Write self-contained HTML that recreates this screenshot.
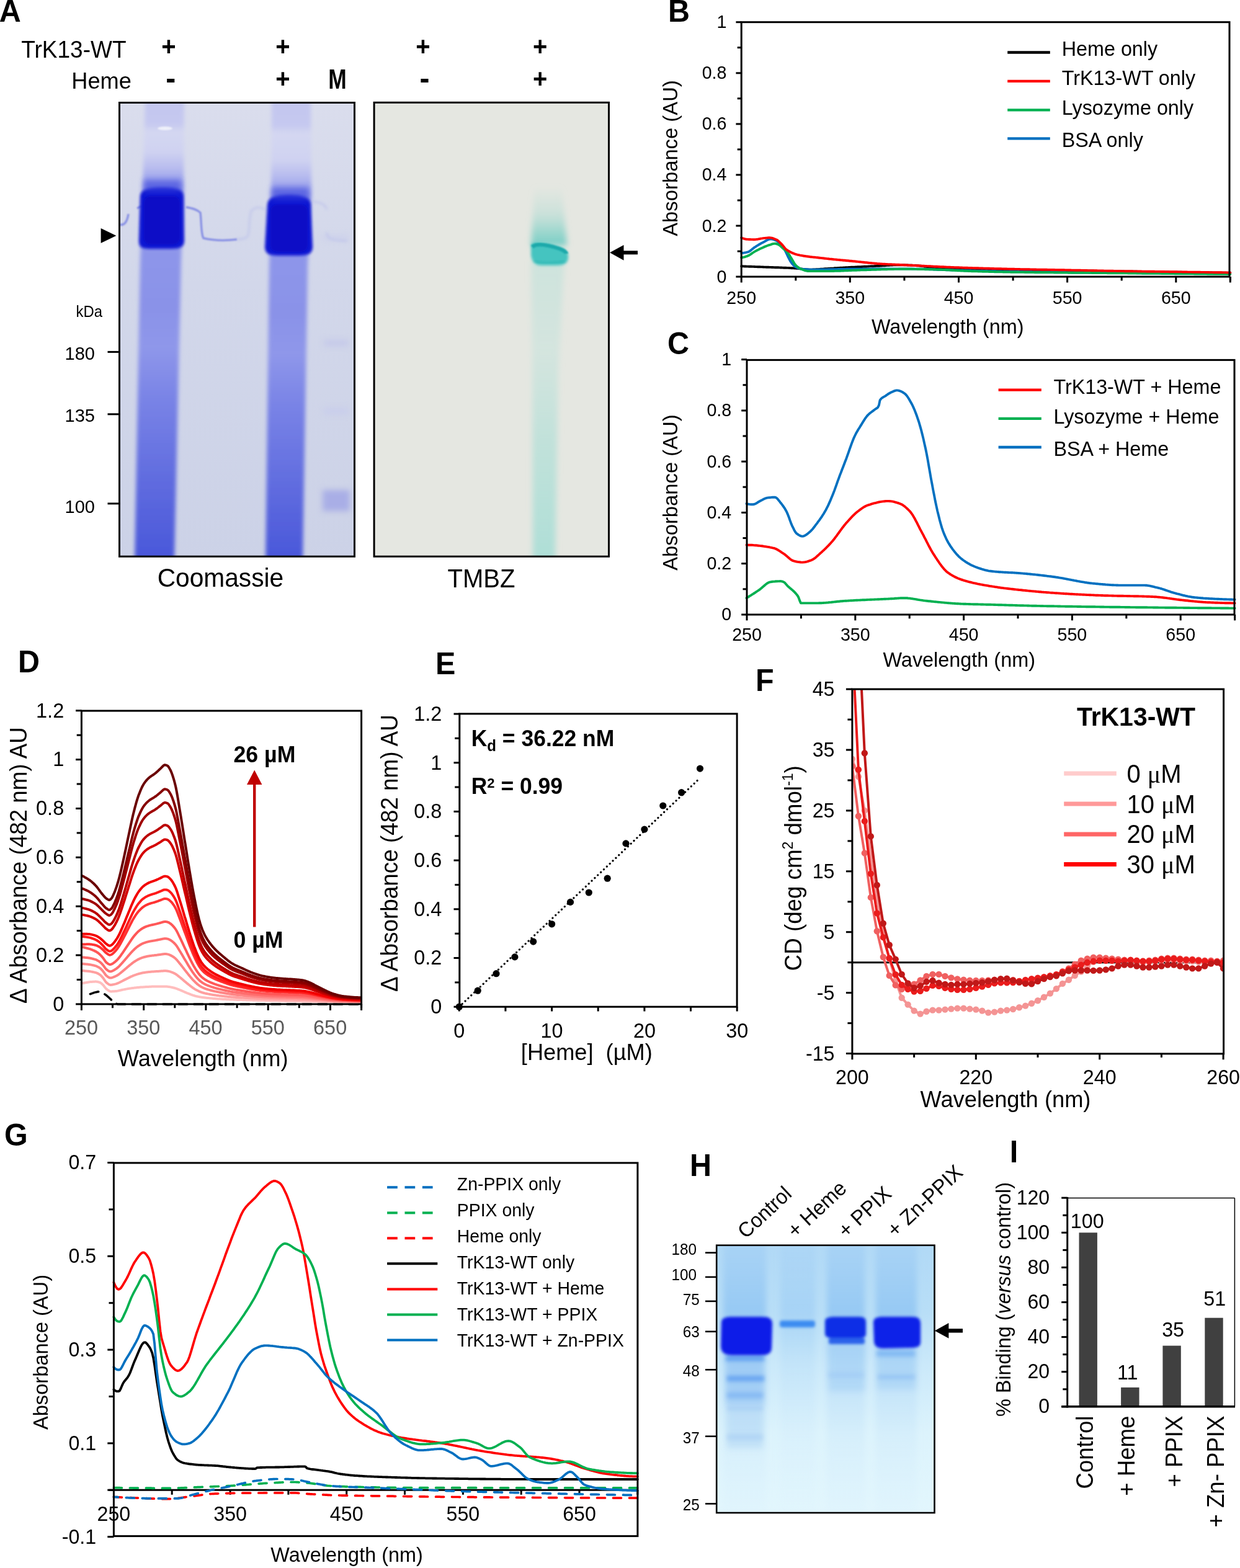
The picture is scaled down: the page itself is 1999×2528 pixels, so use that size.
<!DOCTYPE html>
<html><head><meta charset="utf-8"><title>Figure</title>
<style>
html,body{margin:0;padding:0;background:#fff;}
body{width:1999px;height:2528px;overflow:hidden;}
svg{display:block;}
</style></head>
<body>
<svg xmlns="http://www.w3.org/2000/svg" width="1999" height="2528" viewBox="0 0 1999 2528" font-family="'Liberation Sans', Arial, Helvetica, sans-serif" fill="#000">
<rect x="0" y="0" width="1999" height="2528" fill="#fff"/>
<text transform="translate(-1.2 35.1) scale(1 1.04)" font-size="48.5" font-weight="bold">A</text>
<text transform="translate(34.3 93.1) scale(1 1.04)" font-size="37">TrK13-WT</text>
<text transform="translate(115.3 143.2) scale(1 1.04)" font-size="36.2">Heme</text>
<text transform="translate(272 88.6) scale(1 1.04)" font-size="40" text-anchor="middle" font-weight="bold">+</text>
<text transform="translate(456 88.6) scale(1 1.04)" font-size="40" text-anchor="middle" font-weight="bold">+</text>
<text transform="translate(681.8 88.6) scale(1 1.04)" font-size="40" text-anchor="middle" font-weight="bold">+</text>
<text transform="translate(870.6 88.6) scale(1 1.04)" font-size="40" text-anchor="middle" font-weight="bold">+</text>
<text transform="translate(456 140.6) scale(1 1.04)" font-size="40" text-anchor="middle" font-weight="bold">+</text>
<text transform="translate(870.6 140.6) scale(1 1.04)" font-size="40" text-anchor="middle" font-weight="bold">+</text>
<text transform="translate(275.2 143.4) scale(1 1.04)" font-size="48" text-anchor="middle" font-weight="bold">-</text>
<text transform="translate(684.5 143.4) scale(1 1.04)" font-size="48" text-anchor="middle" font-weight="bold">-</text>
<text transform="translate(543.9 142.6) scale(1 1.04)" font-size="42" text-anchor="middle" font-weight="bold" textLength="29.5" lengthAdjust="spacingAndGlyphs">M</text>
<defs><clipPath id="clipC"><rect x="192.5" y="165.5" width="379.0" height="731.7"/></clipPath><linearGradient id="bgC" x1="0" y1="0" x2="0" y2="1"><stop offset="0" stop-color="#dadded"/><stop offset="0.4" stop-color="#d2d7ea"/><stop offset="1" stop-color="#ccd2e7"/></linearGradient><linearGradient id="laneC" x1="0" y1="165" x2="0" y2="897" gradientUnits="userSpaceOnUse"><stop offset="0.0000" stop-color="#c3c6ef"/><stop offset="0.0478" stop-color="#c6c9f0"/><stop offset="0.0642" stop-color="#d4d7f1"/><stop offset="0.1093" stop-color="#cfd2f1"/><stop offset="0.1434" stop-color="#b9bdef"/><stop offset="0.1735" stop-color="#9aa1ec"/><stop offset="0.1981" stop-color="#7f88ea"/><stop offset="0.3210" stop-color="#8e96ea"/><stop offset="0.4508" stop-color="#8a92e8"/><stop offset="0.5396" stop-color="#8f97ea"/><stop offset="0.6489" stop-color="#7a84e6"/><stop offset="0.8402" stop-color="#5f6bdf"/><stop offset="1.0000" stop-color="#4a58da"/></linearGradient><linearGradient id="laneC2" x1="0" y1="165" x2="0" y2="897" gradientUnits="userSpaceOnUse"><stop offset="0.0000" stop-color="#c3c6ef"/><stop offset="0.0519" stop-color="#c6c9f0"/><stop offset="0.0683" stop-color="#d4d7f1"/><stop offset="0.1270" stop-color="#cfd2f1"/><stop offset="0.1598" stop-color="#b9bdef"/><stop offset="0.1913" stop-color="#9aa1ec"/><stop offset="0.2145" stop-color="#7f88ea"/><stop offset="0.3374" stop-color="#8e96ea"/><stop offset="0.4645" stop-color="#8a92e8"/><stop offset="0.5533" stop-color="#8f97ea"/><stop offset="0.6626" stop-color="#7a84e6"/><stop offset="0.8538" stop-color="#5f6bdf"/><stop offset="1.0000" stop-color="#4a58da"/></linearGradient><filter id="blur3" x="-20%" y="-20%" width="140%" height="140%"><feGaussianBlur stdDeviation="3"/></filter><filter id="blur2" x="-20%" y="-20%" width="140%" height="140%"><feGaussianBlur stdDeviation="2"/></filter><filter id="blur1" x="-20%" y="-20%" width="140%" height="140%"><feGaussianBlur stdDeviation="1.2"/></filter><filter id="blur5" x="-30%" y="-30%" width="160%" height="160%"><feGaussianBlur stdDeviation="5"/></filter><filter id="blur8" x="-30%" y="-30%" width="160%" height="160%"><feGaussianBlur stdDeviation="8"/></filter></defs>
<g clip-path="url(#clipC)">
<rect x="192.5" y="165.5" width="379.0" height="731.7" fill="url(#bgC)"/>
<g filter="url(#blur3)">
<polygon points="234,160 297,160 296,300 292,420 281,905 217,905 226,420 230,300" fill="url(#laneC)"/>
<polygon points="438,160 501,160 502,300 496,430 488,905 428,905 434,430 437,300" fill="url(#laneC2)"/>
</g>
<ellipse cx="266" cy="207" rx="12" ry="3" fill="#eef0fa" filter="url(#blur1)"/>
<g filter="url(#blur1)" fill="none" stroke="#737de2" stroke-width="3.5" opacity="0.75"><path d="M193,362 C200,364 205,358 207,345"/><path d="M221,336 C226,333 228,332 232,334"/><path d="M300,334 C312,336 318,338 323,343 C325,360 324,378 328,384 C345,388 365,388 382,386"/></g>
<g filter="url(#blur2)" fill="none" stroke="#b4b9ea" stroke-width="2" opacity="0.8"><path d="M382,386 C395,385 400,384 401,375 C402,365 402,350 405,340 C412,333 420,333 428,338"/><path d="M505,325 C518,326 525,330 527,338 M527,375 C527,385 535,388 560,388"/></g>
<g filter="url(#blur2)">
<path d="M226,318 C226,305 240,302 262,302 C285,302 296,305 296,318 L297,388 C297,398 290,401 276,401 L242,401 C228,401 224,398 224,388 Z" fill="#0c16d2"/>
<path d="M431,330 C432,318 445,314 466,314 C488,314 500,318 501,330 L504,398 C504,409 496,412 482,412 L448,412 C434,412 427,409 427,398 Z" fill="#0c16d2"/>
</g>
<g filter="url(#blur1)">
<rect x="232" y="316" width="58" height="78" rx="10" fill="#0a10c6"/>
<rect x="436" y="330" width="60" height="76" rx="10" fill="#0a10c6"/>
</g>
<g filter="url(#blur5)" opacity="0.6">
<rect x="232" y="290" width="60" height="20" fill="#3a45dc"/>
<rect x="438" y="302" width="60" height="20" fill="#3a45dc"/>
</g>
<g filter="url(#blur5)">
<rect x="520" y="790" width="44" height="34" fill="#a9aee6"/>
<rect x="522" y="548" width="40" height="10" fill="#c2c6ea" opacity="0.8"/>
<rect x="522" y="658" width="40" height="10" fill="#c6caec" opacity="0.7"/>
<rect x="521" y="380" width="40" height="6" fill="#c6caec" opacity="0.7"/>
</g>
</g>
<rect x="192.5" y="165.5" width="379.0" height="731.7" fill="none" stroke="#000" stroke-width="3"/>
<text transform="translate(122.6 511.4) scale(1 1.04)" font-size="23.9">kDa</text>
<text transform="translate(153 579.6) scale(1 1.04)" font-size="29" text-anchor="end">180</text>
<line x1="173.5" y1="567.4" x2="192" y2="567.4" stroke="#000" stroke-width="3" />
<text transform="translate(153 680) scale(1 1.04)" font-size="29" text-anchor="end">135</text>
<line x1="173.5" y1="667.8" x2="192" y2="667.8" stroke="#000" stroke-width="3" />
<text transform="translate(153 826.5) scale(1 1.04)" font-size="29" text-anchor="end">100</text>
<line x1="173.5" y1="811.9" x2="192" y2="811.9" stroke="#000" stroke-width="3" />
<polygon points="162.6,368 187.4,380 162.6,392" fill="#000"/>
<text transform="translate(355.4 946) scale(1 1.04)" font-size="40.7" text-anchor="middle">Coomassie</text>
<defs><clipPath id="clipT"><rect x="603.1" y="165.3" width="378.4" height="731.9000000000001"/></clipPath><linearGradient id="smearT" x1="0" y1="300" x2="0" y2="897" gradientUnits="userSpaceOnUse"><stop offset="0" stop-color="#bfe3d9" stop-opacity="0"/><stop offset="0.12" stop-color="#a9dfd6" stop-opacity="0.7"/><stop offset="0.2" stop-color="#c4e2da" stop-opacity="0.6"/><stop offset="0.5" stop-color="#c8e2da" stop-opacity="0.6"/><stop offset="0.75" stop-color="#b3e0d8" stop-opacity="0.8"/><stop offset="1" stop-color="#a6ddd6" stop-opacity="0.9"/></linearGradient></defs>
<g clip-path="url(#clipT)">
<rect x="603.1" y="165.3" width="378.4" height="731.9000000000001" fill="#e5e7e1"/>
<defs><linearGradient id="aboveT" x1="0" y1="300" x2="0" y2="395" gradientUnits="userSpaceOnUse"><stop offset="0" stop-color="#9fd8cf" stop-opacity="0"/><stop offset="0.45" stop-color="#9fd8cf" stop-opacity="0.35"/><stop offset="0.8" stop-color="#7fd0c6" stop-opacity="0.75"/><stop offset="1" stop-color="#6ccbc2" stop-opacity="0.9"/></linearGradient><linearGradient id="belowT" x1="0" y1="420" x2="0" y2="897" gradientUnits="userSpaceOnUse"><stop offset="0" stop-color="#b7e0d8" stop-opacity="0.5"/><stop offset="0.3" stop-color="#c6e3dc" stop-opacity="0.55"/><stop offset="0.6" stop-color="#b2dfd7" stop-opacity="0.7"/><stop offset="1" stop-color="#a5ddd5" stop-opacity="0.85"/></linearGradient></defs>
<polygon points="861,300 906,300 914,396 856,396" fill="url(#aboveT)" filter="url(#blur5)"/>
<polygon points="856,420 910,420 900,600 895,905 859,905 858,600" fill="url(#belowT)" filter="url(#blur5)"/>
<g filter="url(#blur2)">
<path d="M856,394 C862,388 880,392 900,398 C912,402 916,406 916,414 C916,424 910,428 896,428 L874,428 C862,428 858,422 856,412 Z" fill="#45c4c0"/>
</g>
<path d="M858,398 C866,391 884,395 902,401 C910,404 913,407 913,409" fill="none" stroke="#1aa9aa" stroke-width="6" filter="url(#blur1)"/>
<path d="M862,420 C872,425 890,425 910,421" fill="none" stroke="#2db5b3" stroke-width="4" filter="url(#blur2)" opacity="0.7"/>
</g>
<rect x="603.1" y="165.3" width="378.4" height="731.9000000000001" fill="none" stroke="#000" stroke-width="3"/>
<polygon points="983,407.3 1005.5,394.9 1005.5,419.7" fill="#000"/>
<rect x="1003" y="404.3" width="25" height="6" fill="#000"/>
<text transform="translate(775.9 947.4) scale(1 1.04)" font-size="40" text-anchor="middle">TMBZ</text>
<text transform="translate(1077 35.1) scale(1 1.04)" font-size="48.5" font-weight="bold">B</text>
<line x1="1186.4" y1="446.1" x2="1195.2" y2="446.1" stroke="#000" stroke-width="3" />
<text transform="translate(1171.4 455.6) scale(1 1.04)" font-size="28.6" text-anchor="end">0</text>
<line x1="1188.7" y1="405.1" x2="1195.2" y2="405.1" stroke="#000" stroke-width="3" />
<line x1="1186.4" y1="364" x2="1195.2" y2="364" stroke="#000" stroke-width="3" />
<text transform="translate(1171.4 373.5) scale(1 1.04)" font-size="28.6" text-anchor="end">0.2</text>
<line x1="1188.7" y1="323" x2="1195.2" y2="323" stroke="#000" stroke-width="3" />
<line x1="1186.4" y1="281.9" x2="1195.2" y2="281.9" stroke="#000" stroke-width="3" />
<text transform="translate(1171.4 291.4) scale(1 1.04)" font-size="28.6" text-anchor="end">0.4</text>
<line x1="1188.7" y1="240.9" x2="1195.2" y2="240.9" stroke="#000" stroke-width="3" />
<line x1="1186.4" y1="199.9" x2="1195.2" y2="199.9" stroke="#000" stroke-width="3" />
<text transform="translate(1171.4 209.4) scale(1 1.04)" font-size="28.6" text-anchor="end">0.6</text>
<line x1="1188.7" y1="158.8" x2="1195.2" y2="158.8" stroke="#000" stroke-width="3" />
<line x1="1186.4" y1="117.8" x2="1195.2" y2="117.8" stroke="#000" stroke-width="3" />
<text transform="translate(1171.4 127.3) scale(1 1.04)" font-size="28.6" text-anchor="end">0.8</text>
<line x1="1188.7" y1="76.7" x2="1195.2" y2="76.7" stroke="#000" stroke-width="3" />
<line x1="1186.4" y1="35.7" x2="1195.2" y2="35.7" stroke="#000" stroke-width="3" />
<text transform="translate(1171.4 45.2) scale(1 1.04)" font-size="28.6" text-anchor="end">1</text>
<line x1="1195.2" y1="446" x2="1195.2" y2="455.5" stroke="#000" stroke-width="3" />
<text transform="translate(1195.2 489.7) scale(1 1.04)" font-size="28.6" text-anchor="middle">250</text>
<line x1="1282.8" y1="446" x2="1282.8" y2="452.5" stroke="#000" stroke-width="3" />
<line x1="1370.3" y1="446" x2="1370.3" y2="455.5" stroke="#000" stroke-width="3" />
<text transform="translate(1370.3 489.7) scale(1 1.04)" font-size="28.6" text-anchor="middle">350</text>
<line x1="1457.9" y1="446" x2="1457.9" y2="452.5" stroke="#000" stroke-width="3" />
<line x1="1545.5" y1="446" x2="1545.5" y2="455.5" stroke="#000" stroke-width="3" />
<text transform="translate(1545.5 489.7) scale(1 1.04)" font-size="28.6" text-anchor="middle">450</text>
<line x1="1633.1" y1="446" x2="1633.1" y2="452.5" stroke="#000" stroke-width="3" />
<line x1="1720.6" y1="446" x2="1720.6" y2="455.5" stroke="#000" stroke-width="3" />
<text transform="translate(1720.6 489.7) scale(1 1.04)" font-size="28.6" text-anchor="middle">550</text>
<line x1="1808.2" y1="446" x2="1808.2" y2="452.5" stroke="#000" stroke-width="3" />
<line x1="1895.8" y1="446" x2="1895.8" y2="455.5" stroke="#000" stroke-width="3" />
<text transform="translate(1895.8 489.7) scale(1 1.04)" font-size="28.6" text-anchor="middle">650</text>
<line x1="1983.3" y1="446" x2="1983.3" y2="452.5" stroke="#000" stroke-width="3" />
<line x1="1983.3" y1="446" x2="1983.3" y2="455.5" stroke="#000" stroke-width="3" />
<text transform="translate(1527.7 537.7) scale(1 1.04)" font-size="32.4" text-anchor="middle">Wavelength (nm)</text>
<text transform="translate(1091.7 255) rotate(-90) scale(1 1.04)" font-size="32.8" text-anchor="middle">Absorbance (AU)</text>
<polyline points="1195.2,429.3 1197,429.3 1198.7,429.4 1200.5,429.5 1202.2,429.5 1204,429.6 1205.7,429.6 1207.5,429.7 1209.2,429.8 1211,429.8 1212.7,429.9 1214.5,429.9 1216.2,430 1218,430.1 1219.7,430.1 1221.5,430.2 1223.2,430.2 1225,430.3 1226.7,430.4 1228.5,430.4 1230.2,430.5 1232,430.6 1233.7,430.6 1235.5,430.7 1237.2,430.8 1239,430.8 1240.7,430.9 1242.5,430.9 1244.2,431 1246,431 1247.7,431.1 1249.5,431.2 1251.2,431.2 1253,431.3 1254.7,431.3 1256.5,431.4 1258.3,431.5 1260,431.5 1261.8,431.6 1263.5,431.7 1265.3,431.7 1267,431.8 1268.8,431.9 1270.5,431.9 1272.3,432 1274,432.1 1275.8,432.2 1277.5,432.3 1279.3,432.4 1281,432.5 1282.8,432.6 1284.5,432.7 1286.3,432.8 1288,433 1289.8,433.2 1291.5,433.4 1293.3,433.6 1295,433.9 1296.8,434.1 1298.5,434.2 1300.3,434.4 1302,434.5 1303.8,434.6 1305.5,434.6 1307.3,434.6 1309,434.6 1310.8,434.5 1312.5,434.5 1314.3,434.4 1316,434.3 1317.8,434.2 1319.5,434.1 1321.3,433.9 1323.1,433.8 1324.8,433.7 1326.6,433.6 1328.3,433.4 1330.1,433.3 1331.8,433.2 1333.6,433.1 1335.3,433 1337.1,432.9 1338.8,432.8 1340.6,432.7 1342.3,432.6 1344.1,432.5 1345.8,432.3 1347.6,432.2 1349.3,432.1 1351.1,432 1352.8,431.9 1354.6,431.8 1356.3,431.7 1358.1,431.6 1359.8,431.5 1361.6,431.4 1363.3,431.3 1365.1,431.2 1366.8,431.1 1368.6,431 1370.3,430.9 1372.1,430.8 1373.8,430.7 1375.6,430.6 1377.3,430.6 1379.1,430.5 1380.8,430.4 1382.6,430.3 1384.4,430.2 1386.1,430.1 1387.9,430.1 1389.6,430 1391.4,429.9 1393.1,429.8 1394.9,429.7 1396.6,429.7 1398.4,429.6 1400.1,429.5 1401.9,429.4 1403.6,429.3 1405.4,429.3 1407.1,429.2 1408.9,429.1 1410.6,429 1412.4,428.9 1414.1,428.9 1415.9,428.8 1417.6,428.7 1419.4,428.6 1421.1,428.5 1422.9,428.4 1424.6,428.3 1426.4,428.2 1428.1,428 1429.9,427.9 1431.6,427.8 1433.4,427.7 1435.1,427.6 1436.9,427.6 1438.6,427.5 1440.4,427.4 1442.1,427.3 1443.9,427.3 1445.7,427.3 1447.4,427.2 1449.2,427.2 1450.9,427.2 1452.7,427.2 1454.4,427.3 1456.2,427.3 1457.9,427.3 1459.7,427.4 1461.4,427.4 1463.2,427.5 1464.9,427.6 1466.7,427.6 1468.4,427.7 1470.2,427.8 1471.9,427.9 1473.7,428 1475.4,428 1477.2,428.1 1478.9,428.3 1480.7,428.4 1482.4,428.6 1484.2,428.8 1485.9,429 1487.7,429.2 1489.4,429.5 1491.2,429.7 1492.9,429.9 1494.7,430.2 1496.4,430.4 1498.2,430.6 1499.9,430.8 1501.7,430.9 1503.4,431.1 1505.2,431.2 1506.9,431.4 1508.7,431.5 1510.5,431.6 1512.2,431.8 1514,431.9 1515.7,432.1 1517.5,432.2 1519.2,432.3 1521,432.5 1522.7,432.6 1524.5,432.7 1526.2,432.9 1528,433 1529.7,433.1 1531.5,433.2 1533.2,433.3 1535,433.4 1536.7,433.5 1538.5,433.5 1540.2,433.6 1542,433.7 1543.7,433.7 1545.5,433.8 1547.2,433.8 1549,433.9 1550.7,433.9 1552.5,434 1554.2,434 1556,434 1557.7,434.1 1559.5,434.1 1561.2,434.1 1563,434.2 1564.7,434.2 1566.5,434.2 1568.2,434.2 1570,434.3 1571.8,434.3 1573.5,434.3 1575.3,434.3 1577,434.4 1578.8,434.4 1580.5,434.4 1582.3,434.4 1584,434.5 1585.8,434.5 1587.5,434.5 1589.3,434.5 1591,434.5 1592.8,434.6 1594.5,434.6 1596.3,434.6 1598,434.6 1599.8,434.6 1601.5,434.7 1603.3,434.7 1605,434.7 1606.8,434.7 1608.5,434.7 1610.3,434.7 1612,434.8 1613.8,434.8 1615.5,434.8 1617.3,434.8 1619,434.8 1620.8,434.9 1622.5,434.9 1624.3,434.9 1626,434.9 1627.8,434.9 1629.5,435 1631.3,435 1633.1,435 1634.8,435 1636.6,435.1 1638.3,435.1 1640.1,435.1 1641.8,435.1 1643.6,435.2 1645.3,435.2 1647.1,435.2 1648.8,435.2 1650.6,435.3 1652.3,435.3 1654.1,435.3 1655.8,435.3 1657.6,435.4 1659.3,435.4 1661.1,435.4 1662.8,435.4 1664.6,435.5 1666.3,435.5 1668.1,435.5 1669.8,435.5 1671.6,435.6 1673.3,435.6 1675.1,435.6 1676.8,435.6 1678.6,435.7 1680.3,435.7 1682.1,435.7 1683.8,435.7 1685.6,435.8 1687.3,435.8 1689.1,435.8 1690.8,435.8 1692.6,435.9 1694.3,435.9 1696.1,435.9 1697.9,435.9 1699.6,436 1701.4,436 1703.1,436 1704.9,436 1706.6,436.1 1708.4,436.1 1710.1,436.1 1711.9,436.1 1713.6,436.2 1715.4,436.2 1717.1,436.2 1718.9,436.2 1720.6,436.3 1722.4,436.3 1724.1,436.3 1725.9,436.3 1727.6,436.3 1729.4,436.4 1731.1,436.4 1732.9,436.4 1734.6,436.4 1736.4,436.5 1738.1,436.5 1739.9,436.5 1741.6,436.5 1743.4,436.6 1745.1,436.6 1746.9,436.6 1748.6,436.6 1750.4,436.7 1752.1,436.7 1753.9,436.7 1755.6,436.7 1757.4,436.8 1759.2,436.8 1760.9,436.8 1762.7,436.8 1764.4,436.9 1766.2,436.9 1767.9,436.9 1769.7,436.9 1771.4,437 1773.2,437 1774.9,437 1776.7,437 1778.4,437.1 1780.2,437.1 1781.9,437.1 1783.7,437.1 1785.4,437.2 1787.2,437.2 1788.9,437.2 1790.7,437.2 1792.4,437.3 1794.2,437.3 1795.9,437.3 1797.7,437.3 1799.4,437.4 1801.2,437.4 1802.9,437.4 1804.7,437.4 1806.4,437.5 1808.2,437.5 1809.9,437.5 1811.7,437.5 1813.4,437.6 1815.2,437.6 1816.9,437.6 1818.7,437.6 1820.4,437.7 1822.2,437.7 1824,437.7 1825.7,437.7 1827.5,437.8 1829.2,437.8 1831,437.8 1832.7,437.8 1834.5,437.9 1836.2,437.9 1838,437.9 1839.7,437.9 1841.5,437.9 1843.2,438 1845,438 1846.7,438 1848.5,438 1850.2,438.1 1852,438.1 1853.7,438.1 1855.5,438.1 1857.2,438.2 1859,438.2 1860.7,438.2 1862.5,438.2 1864.2,438.3 1866,438.3 1867.7,438.3 1869.5,438.3 1871.2,438.4 1873,438.4 1874.7,438.4 1876.5,438.4 1878.2,438.5 1880,438.5 1881.7,438.5 1883.5,438.5 1885.3,438.6 1887,438.6 1888.8,438.6 1890.5,438.6 1892.3,438.7 1894,438.7 1895.8,438.7 1897.5,438.7 1899.3,438.8 1901,438.8 1902.8,438.8 1904.5,438.8 1906.3,438.9 1908,438.9 1909.8,438.9 1911.5,438.9 1913.3,439 1915,439 1916.8,439 1918.5,439 1920.3,439.1 1922,439.1 1923.8,439.1 1925.5,439.1 1927.3,439.2 1929,439.2 1930.8,439.2 1932.5,439.2 1934.3,439.3 1936,439.3 1937.8,439.3 1939.5,439.3 1941.3,439.4 1943,439.4 1944.8,439.4 1946.6,439.4 1948.3,439.5 1950.1,439.5 1951.8,439.5 1953.6,439.5 1955.3,439.6 1957.1,439.6 1958.8,439.6 1960.6,439.6 1962.3,439.6 1964.1,439.7 1965.8,439.7 1967.6,439.7 1969.3,439.7 1971.1,439.8 1972.8,439.8 1974.6,439.8 1976.3,439.8 1978.1,439.9 1979.8,439.9 1981.6,439.9 1983.3,439.9" fill="none" stroke="#000" stroke-width="3.9" stroke-linejoin="round" stroke-linecap="round" />
<polyline points="1195.2,407.9 1197,407.9 1198.7,407.7 1200.5,407.4 1202.2,407.1 1204,406.7 1205.7,406.3 1207.5,405.6 1209.2,404.5 1211,403.1 1212.7,401.6 1214.5,400.2 1216.2,398.9 1218,397.8 1219.7,396.7 1221.5,395.6 1223.2,394.5 1225,393.5 1226.7,392.5 1228.5,391.6 1230.2,390.7 1232,389.8 1233.7,388.7 1235.5,387.7 1237.2,386.8 1239,386.1 1240.7,385.5 1242.5,385.4 1244.2,385.5 1246,385.9 1247.7,386.4 1249.5,387.1 1251.2,387.8 1253,388.8 1254.7,390.2 1256.5,391.8 1258.3,393.6 1260,395.6 1261.8,397.9 1263.5,400.6 1265.3,403.4 1267,406.7 1268.8,410.5 1270.5,414.1 1272.3,417.5 1274,420.8 1275.8,423.5 1277.5,425.7 1279.3,427.7 1281,429.4 1282.8,430.5 1284.5,431.3 1286.3,432.1 1288,432.7 1289.8,433.2 1291.5,433.6 1293.3,433.8 1295,433.9 1296.8,434.1 1298.5,434.2 1300.3,434.3 1302,434.4 1303.8,434.5 1305.5,434.6 1307.3,434.6 1309,434.6 1310.8,434.6 1312.5,434.6 1314.3,434.6 1316,434.6 1317.8,434.6 1319.5,434.6 1321.3,434.5 1323.1,434.5 1324.8,434.5 1326.6,434.5 1328.3,434.4 1330.1,434.4 1331.8,434.4 1333.6,434.4 1335.3,434.3 1337.1,434.3 1338.8,434.3 1340.6,434.2 1342.3,434.2 1344.1,434.2 1345.8,434.1 1347.6,434.1 1349.3,434.1 1351.1,434 1352.8,434 1354.6,434 1356.3,434 1358.1,433.9 1359.8,433.9 1361.6,433.9 1363.3,433.9 1365.1,433.8 1366.8,433.8 1368.6,433.8 1370.3,433.8 1372.1,433.8 1373.8,433.8 1375.6,433.8 1377.3,433.7 1379.1,433.7 1380.8,433.7 1382.6,433.7 1384.4,433.7 1386.1,433.7 1387.9,433.7 1389.6,433.7 1391.4,433.6 1393.1,433.6 1394.9,433.6 1396.6,433.6 1398.4,433.6 1400.1,433.6 1401.9,433.6 1403.6,433.6 1405.4,433.6 1407.1,433.5 1408.9,433.5 1410.6,433.5 1412.4,433.5 1414.1,433.5 1415.9,433.5 1417.6,433.5 1419.4,433.5 1421.1,433.5 1422.9,433.5 1424.6,433.5 1426.4,433.4 1428.1,433.4 1429.9,433.4 1431.6,433.4 1433.4,433.4 1435.1,433.4 1436.9,433.4 1438.6,433.4 1440.4,433.4 1442.1,433.4 1443.9,433.4 1445.7,433.4 1447.4,433.4 1449.2,433.4 1450.9,433.4 1452.7,433.4 1454.4,433.4 1456.2,433.4 1457.9,433.4 1459.7,433.4 1461.4,433.4 1463.2,433.4 1464.9,433.4 1466.7,433.4 1468.4,433.4 1470.2,433.5 1471.9,433.5 1473.7,433.5 1475.4,433.6 1477.2,433.6 1478.9,433.6 1480.7,433.7 1482.4,433.7 1484.2,433.8 1485.9,433.8 1487.7,433.9 1489.4,433.9 1491.2,434 1492.9,434 1494.7,434.1 1496.4,434.1 1498.2,434.2 1499.9,434.3 1501.7,434.3 1503.4,434.4 1505.2,434.5 1506.9,434.5 1508.7,434.6 1510.5,434.7 1512.2,434.7 1514,434.8 1515.7,434.8 1517.5,434.9 1519.2,435 1521,435 1522.7,435.1 1524.5,435.2 1526.2,435.2 1528,435.3 1529.7,435.4 1531.5,435.4 1533.2,435.5 1535,435.5 1536.7,435.6 1538.5,435.6 1540.2,435.7 1542,435.7 1543.7,435.8 1545.5,435.8 1547.2,435.9 1549,435.9 1550.7,436 1552.5,436 1554.2,436.1 1556,436.1 1557.7,436.2 1559.5,436.2 1561.2,436.2 1563,436.3 1564.7,436.3 1566.5,436.4 1568.2,436.4 1570,436.5 1571.8,436.5 1573.5,436.6 1575.3,436.6 1577,436.7 1578.8,436.7 1580.5,436.7 1582.3,436.8 1584,436.8 1585.8,436.9 1587.5,436.9 1589.3,437 1591,437 1592.8,437.1 1594.5,437.1 1596.3,437.1 1598,437.2 1599.8,437.2 1601.5,437.3 1603.3,437.3 1605,437.3 1606.8,437.4 1608.5,437.4 1610.3,437.5 1612,437.5 1613.8,437.5 1615.5,437.6 1617.3,437.6 1619,437.6 1620.8,437.7 1622.5,437.7 1624.3,437.7 1626,437.8 1627.8,437.8 1629.5,437.8 1631.3,437.9 1633.1,437.9 1634.8,437.9 1636.6,437.9 1638.3,438 1640.1,438 1641.8,438 1643.6,438.1 1645.3,438.1 1647.1,438.1 1648.8,438.1 1650.6,438.2 1652.3,438.2 1654.1,438.2 1655.8,438.2 1657.6,438.3 1659.3,438.3 1661.1,438.3 1662.8,438.3 1664.6,438.4 1666.3,438.4 1668.1,438.4 1669.8,438.4 1671.6,438.5 1673.3,438.5 1675.1,438.5 1676.8,438.5 1678.6,438.6 1680.3,438.6 1682.1,438.6 1683.8,438.6 1685.6,438.7 1687.3,438.7 1689.1,438.7 1690.8,438.7 1692.6,438.7 1694.3,438.8 1696.1,438.8 1697.9,438.8 1699.6,438.8 1701.4,438.9 1703.1,438.9 1704.9,438.9 1706.6,438.9 1708.4,438.9 1710.1,439 1711.9,439 1713.6,439 1715.4,439 1717.1,439 1718.9,439.1 1720.6,439.1 1722.4,439.1 1724.1,439.1 1725.9,439.1 1727.6,439.2 1729.4,439.2 1731.1,439.2 1732.9,439.2 1734.6,439.2 1736.4,439.3 1738.1,439.3 1739.9,439.3 1741.6,439.3 1743.4,439.3 1745.1,439.3 1746.9,439.4 1748.6,439.4 1750.4,439.4 1752.1,439.4 1753.9,439.4 1755.6,439.5 1757.4,439.5 1759.2,439.5 1760.9,439.5 1762.7,439.5 1764.4,439.5 1766.2,439.6 1767.9,439.6 1769.7,439.6 1771.4,439.6 1773.2,439.6 1774.9,439.6 1776.7,439.7 1778.4,439.7 1780.2,439.7 1781.9,439.7 1783.7,439.7 1785.4,439.7 1787.2,439.8 1788.9,439.8 1790.7,439.8 1792.4,439.8 1794.2,439.8 1795.9,439.8 1797.7,439.9 1799.4,439.9 1801.2,439.9 1802.9,439.9 1804.7,439.9 1806.4,439.9 1808.2,439.9 1809.9,440 1811.7,440 1813.4,440 1815.2,440 1816.9,440 1818.7,440 1820.4,440.1 1822.2,440.1 1824,440.1 1825.7,440.1 1827.5,440.1 1829.2,440.1 1831,440.1 1832.7,440.2 1834.5,440.2 1836.2,440.2 1838,440.2 1839.7,440.2 1841.5,440.2 1843.2,440.2 1845,440.3 1846.7,440.3 1848.5,440.3 1850.2,440.3 1852,440.3 1853.7,440.3 1855.5,440.3 1857.2,440.4 1859,440.4 1860.7,440.4 1862.5,440.4 1864.2,440.4 1866,440.4 1867.7,440.4 1869.5,440.5 1871.2,440.5 1873,440.5 1874.7,440.5 1876.5,440.5 1878.2,440.5 1880,440.5 1881.7,440.5 1883.5,440.6 1885.3,440.6 1887,440.6 1888.8,440.6 1890.5,440.6 1892.3,440.6 1894,440.6 1895.8,440.6 1897.5,440.7 1899.3,440.7 1901,440.7 1902.8,440.7 1904.5,440.7 1906.3,440.7 1908,440.7 1909.8,440.7 1911.5,440.8 1913.3,440.8 1915,440.8 1916.8,440.8 1918.5,440.8 1920.3,440.8 1922,440.8 1923.8,440.8 1925.5,440.9 1927.3,440.9 1929,440.9 1930.8,440.9 1932.5,440.9 1934.3,440.9 1936,440.9 1937.8,440.9 1939.5,440.9 1941.3,441 1943,441 1944.8,441 1946.6,441 1948.3,441 1950.1,441 1951.8,441 1953.6,441 1955.3,441 1957.1,441 1958.8,441.1 1960.6,441.1 1962.3,441.1 1964.1,441.1 1965.8,441.1 1967.6,441.1 1969.3,441.1 1971.1,441.1 1972.8,441.1 1974.6,441.1 1976.3,441.1 1978.1,441.2 1979.8,441.2 1981.6,441.2 1983.3,441.2" fill="none" stroke="#0070c0" stroke-width="3.9" stroke-linejoin="round" stroke-linecap="round" />
<polyline points="1195.2,415.3 1197,415.1 1198.7,414.7 1200.5,414.3 1202.2,413.7 1204,413.1 1205.7,412.4 1207.5,411.6 1209.2,410.6 1211,409.4 1212.7,408.2 1214.5,407 1216.2,405.9 1218,404.9 1219.7,404 1221.5,403.1 1223.2,402.2 1225,401.3 1226.7,400.5 1228.5,399.7 1230.2,398.9 1232,398.1 1233.7,397.4 1235.5,396.7 1237.2,396 1239,395.4 1240.7,394.8 1242.5,394.3 1244.2,393.7 1246,393.2 1247.7,392.9 1249.5,392.7 1251.2,393 1253,393.5 1254.7,394.3 1256.5,395.2 1258.3,396.6 1260,398.4 1261.8,400.1 1263.5,401.5 1265.3,402.8 1267,404.2 1268.8,405.9 1270.5,408.1 1272.3,410.8 1274,413.7 1275.8,416.6 1277.5,419.5 1279.3,422.6 1281,425.4 1282.8,427.6 1284.5,429.3 1286.3,430.7 1288,431.9 1289.8,433 1291.5,433.8 1293.3,434.5 1295,435.1 1296.8,435.8 1298.5,436.3 1300.3,436.7 1302,437 1303.8,437.1 1305.5,437.1 1307.3,437.1 1309,437.1 1310.8,437.1 1312.5,437.1 1314.3,437.1 1316,437.1 1317.8,437.1 1319.5,437.1 1321.3,437.1 1323.1,437.1 1324.8,437.1 1326.6,437.1 1328.3,437.1 1330.1,437.1 1331.8,437.1 1333.6,437.1 1335.3,437.1 1337.1,437.1 1338.8,437.1 1340.6,437 1342.3,437 1344.1,437 1345.8,436.9 1347.6,436.9 1349.3,436.9 1351.1,436.8 1352.8,436.8 1354.6,436.7 1356.3,436.6 1358.1,436.6 1359.8,436.5 1361.6,436.4 1363.3,436.4 1365.1,436.3 1366.8,436.2 1368.6,436.1 1370.3,436.1 1372.1,436 1373.8,435.9 1375.6,435.9 1377.3,435.8 1379.1,435.7 1380.8,435.7 1382.6,435.6 1384.4,435.5 1386.1,435.5 1387.9,435.4 1389.6,435.4 1391.4,435.3 1393.1,435.3 1394.9,435.2 1396.6,435.2 1398.4,435.1 1400.1,435.1 1401.9,435 1403.6,435 1405.4,434.9 1407.1,434.9 1408.9,434.8 1410.6,434.7 1412.4,434.7 1414.1,434.6 1415.9,434.6 1417.6,434.5 1419.4,434.5 1421.1,434.4 1422.9,434.4 1424.6,434.3 1426.4,434.3 1428.1,434.2 1429.9,434.2 1431.6,434.1 1433.4,434.1 1435.1,434.1 1436.9,434 1438.6,434 1440.4,434 1442.1,433.9 1443.9,433.9 1445.7,433.9 1447.4,433.9 1449.2,433.8 1450.9,433.8 1452.7,433.8 1454.4,433.8 1456.2,433.8 1457.9,433.8 1459.7,433.8 1461.4,433.8 1463.2,433.8 1464.9,433.8 1466.7,433.8 1468.4,433.8 1470.2,433.8 1471.9,433.9 1473.7,433.9 1475.4,433.9 1477.2,433.9 1478.9,434 1480.7,434 1482.4,434 1484.2,434 1485.9,434.1 1487.7,434.1 1489.4,434.1 1491.2,434.2 1492.9,434.2 1494.7,434.3 1496.4,434.3 1498.2,434.3 1499.9,434.4 1501.7,434.4 1503.4,434.4 1505.2,434.5 1506.9,434.5 1508.7,434.6 1510.5,434.6 1512.2,434.7 1514,434.7 1515.7,434.8 1517.5,434.8 1519.2,434.9 1521,435 1522.7,435 1524.5,435.1 1526.2,435.2 1528,435.3 1529.7,435.4 1531.5,435.5 1533.2,435.6 1535,435.7 1536.7,435.8 1538.5,435.9 1540.2,436 1542,436.1 1543.7,436.2 1545.5,436.3 1547.2,436.4 1549,436.5 1550.7,436.6 1552.5,436.6 1554.2,436.7 1556,436.8 1557.7,436.9 1559.5,436.9 1561.2,437 1563,437.1 1564.7,437.1 1566.5,437.2 1568.2,437.2 1570,437.3 1571.8,437.3 1573.5,437.4 1575.3,437.4 1577,437.5 1578.8,437.5 1580.5,437.6 1582.3,437.6 1584,437.7 1585.8,437.7 1587.5,437.8 1589.3,437.8 1591,437.9 1592.8,437.9 1594.5,438 1596.3,438 1598,438 1599.8,438.1 1601.5,438.1 1603.3,438.2 1605,438.2 1606.8,438.2 1608.5,438.3 1610.3,438.3 1612,438.4 1613.8,438.4 1615.5,438.4 1617.3,438.5 1619,438.5 1620.8,438.5 1622.5,438.5 1624.3,438.6 1626,438.6 1627.8,438.6 1629.5,438.7 1631.3,438.7 1633.1,438.7 1634.8,438.7 1636.6,438.8 1638.3,438.8 1640.1,438.8 1641.8,438.8 1643.6,438.9 1645.3,438.9 1647.1,438.9 1648.8,438.9 1650.6,438.9 1652.3,439 1654.1,439 1655.8,439 1657.6,439 1659.3,439.1 1661.1,439.1 1662.8,439.1 1664.6,439.1 1666.3,439.1 1668.1,439.2 1669.8,439.2 1671.6,439.2 1673.3,439.2 1675.1,439.2 1676.8,439.2 1678.6,439.3 1680.3,439.3 1682.1,439.3 1683.8,439.3 1685.6,439.3 1687.3,439.3 1689.1,439.4 1690.8,439.4 1692.6,439.4 1694.3,439.4 1696.1,439.4 1697.9,439.4 1699.6,439.5 1701.4,439.5 1703.1,439.5 1704.9,439.5 1706.6,439.5 1708.4,439.5 1710.1,439.6 1711.9,439.6 1713.6,439.6 1715.4,439.6 1717.1,439.6 1718.9,439.6 1720.6,439.6 1722.4,439.7 1724.1,439.7 1725.9,439.7 1727.6,439.7 1729.4,439.7 1731.1,439.7 1732.9,439.7 1734.6,439.8 1736.4,439.8 1738.1,439.8 1739.9,439.8 1741.6,439.8 1743.4,439.8 1745.1,439.8 1746.9,439.8 1748.6,439.9 1750.4,439.9 1752.1,439.9 1753.9,439.9 1755.6,439.9 1757.4,439.9 1759.2,439.9 1760.9,440 1762.7,440 1764.4,440 1766.2,440 1767.9,440 1769.7,440 1771.4,440 1773.2,440.1 1774.9,440.1 1776.7,440.1 1778.4,440.1 1780.2,440.1 1781.9,440.1 1783.7,440.1 1785.4,440.2 1787.2,440.2 1788.9,440.2 1790.7,440.2 1792.4,440.2 1794.2,440.2 1795.9,440.2 1797.7,440.3 1799.4,440.3 1801.2,440.3 1802.9,440.3 1804.7,440.3 1806.4,440.3 1808.2,440.4 1809.9,440.4 1811.7,440.4 1813.4,440.4 1815.2,440.4 1816.9,440.4 1818.7,440.5 1820.4,440.5 1822.2,440.5 1824,440.5 1825.7,440.5 1827.5,440.5 1829.2,440.6 1831,440.6 1832.7,440.6 1834.5,440.6 1836.2,440.6 1838,440.6 1839.7,440.6 1841.5,440.7 1843.2,440.7 1845,440.7 1846.7,440.7 1848.5,440.7 1850.2,440.7 1852,440.8 1853.7,440.8 1855.5,440.8 1857.2,440.8 1859,440.8 1860.7,440.8 1862.5,440.9 1864.2,440.9 1866,440.9 1867.7,440.9 1869.5,440.9 1871.2,440.9 1873,441 1874.7,441 1876.5,441 1878.2,441 1880,441 1881.7,441 1883.5,441.1 1885.3,441.1 1887,441.1 1888.8,441.1 1890.5,441.1 1892.3,441.1 1894,441.2 1895.8,441.2 1897.5,441.2 1899.3,441.2 1901,441.2 1902.8,441.2 1904.5,441.3 1906.3,441.3 1908,441.3 1909.8,441.3 1911.5,441.3 1913.3,441.3 1915,441.4 1916.8,441.4 1918.5,441.4 1920.3,441.4 1922,441.4 1923.8,441.4 1925.5,441.5 1927.3,441.5 1929,441.5 1930.8,441.5 1932.5,441.5 1934.3,441.5 1936,441.6 1937.8,441.6 1939.5,441.6 1941.3,441.6 1943,441.6 1944.8,441.6 1946.6,441.7 1948.3,441.7 1950.1,441.7 1951.8,441.7 1953.6,441.7 1955.3,441.7 1957.1,441.7 1958.8,441.8 1960.6,441.8 1962.3,441.8 1964.1,441.8 1965.8,441.8 1967.6,441.8 1969.3,441.9 1971.1,441.9 1972.8,441.9 1974.6,441.9 1976.3,441.9 1978.1,441.9 1979.8,442 1981.6,442 1983.3,442" fill="none" stroke="#00b050" stroke-width="3.9" stroke-linejoin="round" stroke-linecap="round" />
<polyline points="1195.2,383.3 1197,384 1198.7,384.6 1200.5,385.1 1202.2,385.6 1204,385.8 1205.7,385.9 1207.5,386 1209.2,386 1211,386.1 1212.7,386.1 1214.5,386.2 1216.2,386.2 1218,386.1 1219.7,385.9 1221.5,385.7 1223.2,385.3 1225,385 1226.7,384.6 1228.5,384.4 1230.2,384.1 1232,383.9 1233.7,383.8 1235.5,383.6 1237.2,383.4 1239,383.3 1240.7,383.3 1242.5,383.4 1244.2,383.7 1246,384.2 1247.7,384.8 1249.5,385.5 1251.2,386.2 1253,387.1 1254.7,388.5 1256.5,390.1 1258.3,391.8 1260,393.6 1261.8,395.6 1263.5,397.8 1265.3,400 1267,401.8 1268.8,403.1 1270.5,404.3 1272.3,405.3 1274,406.3 1275.8,407.1 1277.5,407.9 1279.3,408.6 1281,409.3 1282.8,409.9 1284.5,410.4 1286.3,410.8 1288,411.2 1289.8,411.6 1291.5,411.9 1293.3,412.2 1295,412.5 1296.8,412.8 1298.5,413 1300.3,413.3 1302,413.5 1303.8,413.7 1305.5,414 1307.3,414.2 1309,414.4 1310.8,414.6 1312.5,414.7 1314.3,414.9 1316,415.1 1317.8,415.3 1319.5,415.5 1321.3,415.7 1323.1,415.9 1324.8,416.1 1326.6,416.3 1328.3,416.5 1330.1,416.7 1331.8,416.9 1333.6,417.1 1335.3,417.3 1337.1,417.5 1338.8,417.6 1340.6,417.8 1342.3,418 1344.1,418.2 1345.8,418.4 1347.6,418.5 1349.3,418.7 1351.1,418.9 1352.8,419 1354.6,419.2 1356.3,419.4 1358.1,419.5 1359.8,419.7 1361.6,419.8 1363.3,420 1365.1,420.2 1366.8,420.3 1368.6,420.5 1370.3,420.7 1372.1,420.8 1373.8,421 1375.6,421.2 1377.3,421.3 1379.1,421.5 1380.8,421.7 1382.6,421.9 1384.4,422.1 1386.1,422.2 1387.9,422.4 1389.6,422.6 1391.4,422.8 1393.1,423 1394.9,423.2 1396.6,423.3 1398.4,423.5 1400.1,423.7 1401.9,423.9 1403.6,424 1405.4,424.2 1407.1,424.4 1408.9,424.5 1410.6,424.7 1412.4,424.8 1414.1,425 1415.9,425.1 1417.6,425.2 1419.4,425.4 1421.1,425.5 1422.9,425.6 1424.6,425.7 1426.4,425.8 1428.1,425.9 1429.9,426 1431.6,426.1 1433.4,426.1 1435.1,426.2 1436.9,426.3 1438.6,426.4 1440.4,426.5 1442.1,426.5 1443.9,426.6 1445.7,426.7 1447.4,426.8 1449.2,426.8 1450.9,426.9 1452.7,427 1454.4,427.1 1456.2,427.1 1457.9,427.2 1459.7,427.3 1461.4,427.4 1463.2,427.5 1464.9,427.6 1466.7,427.6 1468.4,427.7 1470.2,427.8 1471.9,427.9 1473.7,428 1475.4,428.1 1477.2,428.2 1478.9,428.3 1480.7,428.3 1482.4,428.4 1484.2,428.5 1485.9,428.6 1487.7,428.7 1489.4,428.8 1491.2,428.9 1492.9,429 1494.7,429.1 1496.4,429.1 1498.2,429.2 1499.9,429.3 1501.7,429.4 1503.4,429.5 1505.2,429.6 1506.9,429.7 1508.7,429.7 1510.5,429.8 1512.2,429.9 1514,430 1515.7,430.1 1517.5,430.2 1519.2,430.2 1521,430.3 1522.7,430.4 1524.5,430.5 1526.2,430.6 1528,430.6 1529.7,430.7 1531.5,430.8 1533.2,430.9 1535,430.9 1536.7,431 1538.5,431.1 1540.2,431.1 1542,431.2 1543.7,431.3 1545.5,431.3 1547.2,431.4 1549,431.4 1550.7,431.5 1552.5,431.6 1554.2,431.6 1556,431.7 1557.7,431.7 1559.5,431.8 1561.2,431.9 1563,431.9 1564.7,432 1566.5,432 1568.2,432.1 1570,432.1 1571.8,432.2 1573.5,432.2 1575.3,432.3 1577,432.3 1578.8,432.4 1580.5,432.4 1582.3,432.5 1584,432.5 1585.8,432.6 1587.5,432.6 1589.3,432.7 1591,432.7 1592.8,432.8 1594.5,432.8 1596.3,432.9 1598,432.9 1599.8,433 1601.5,433 1603.3,433.1 1605,433.1 1606.8,433.2 1608.5,433.2 1610.3,433.2 1612,433.3 1613.8,433.3 1615.5,433.4 1617.3,433.4 1619,433.5 1620.8,433.5 1622.5,433.5 1624.3,433.6 1626,433.6 1627.8,433.7 1629.5,433.7 1631.3,433.7 1633.1,433.8 1634.8,433.8 1636.6,433.9 1638.3,433.9 1640.1,433.9 1641.8,434 1643.6,434 1645.3,434.1 1647.1,434.1 1648.8,434.1 1650.6,434.2 1652.3,434.2 1654.1,434.2 1655.8,434.3 1657.6,434.3 1659.3,434.3 1661.1,434.4 1662.8,434.4 1664.6,434.4 1666.3,434.5 1668.1,434.5 1669.8,434.5 1671.6,434.6 1673.3,434.6 1675.1,434.6 1676.8,434.6 1678.6,434.7 1680.3,434.7 1682.1,434.7 1683.8,434.8 1685.6,434.8 1687.3,434.8 1689.1,434.9 1690.8,434.9 1692.6,434.9 1694.3,435 1696.1,435 1697.9,435 1699.6,435 1701.4,435.1 1703.1,435.1 1704.9,435.1 1706.6,435.2 1708.4,435.2 1710.1,435.2 1711.9,435.3 1713.6,435.3 1715.4,435.3 1717.1,435.4 1718.9,435.4 1720.6,435.4 1722.4,435.5 1724.1,435.5 1725.9,435.5 1727.6,435.6 1729.4,435.6 1731.1,435.6 1732.9,435.7 1734.6,435.7 1736.4,435.7 1738.1,435.8 1739.9,435.8 1741.6,435.8 1743.4,435.9 1745.1,435.9 1746.9,435.9 1748.6,436 1750.4,436 1752.1,436 1753.9,436.1 1755.6,436.1 1757.4,436.1 1759.2,436.2 1760.9,436.2 1762.7,436.2 1764.4,436.3 1766.2,436.3 1767.9,436.3 1769.7,436.4 1771.4,436.4 1773.2,436.4 1774.9,436.5 1776.7,436.5 1778.4,436.5 1780.2,436.6 1781.9,436.6 1783.7,436.6 1785.4,436.7 1787.2,436.7 1788.9,436.7 1790.7,436.8 1792.4,436.8 1794.2,436.8 1795.9,436.9 1797.7,436.9 1799.4,436.9 1801.2,437 1802.9,437 1804.7,437 1806.4,437 1808.2,437.1 1809.9,437.1 1811.7,437.1 1813.4,437.2 1815.2,437.2 1816.9,437.2 1818.7,437.2 1820.4,437.3 1822.2,437.3 1824,437.3 1825.7,437.3 1827.5,437.4 1829.2,437.4 1831,437.4 1832.7,437.4 1834.5,437.5 1836.2,437.5 1838,437.5 1839.7,437.5 1841.5,437.6 1843.2,437.6 1845,437.6 1846.7,437.6 1848.5,437.7 1850.2,437.7 1852,437.7 1853.7,437.7 1855.5,437.8 1857.2,437.8 1859,437.8 1860.7,437.8 1862.5,437.9 1864.2,437.9 1866,437.9 1867.7,437.9 1869.5,437.9 1871.2,438 1873,438 1874.7,438 1876.5,438 1878.2,438.1 1880,438.1 1881.7,438.1 1883.5,438.1 1885.3,438.2 1887,438.2 1888.8,438.2 1890.5,438.2 1892.3,438.3 1894,438.3 1895.8,438.3 1897.5,438.3 1899.3,438.4 1901,438.4 1902.8,438.4 1904.5,438.4 1906.3,438.5 1908,438.5 1909.8,438.5 1911.5,438.5 1913.3,438.5 1915,438.6 1916.8,438.6 1918.5,438.6 1920.3,438.6 1922,438.7 1923.8,438.7 1925.5,438.7 1927.3,438.7 1929,438.8 1930.8,438.8 1932.5,438.8 1934.3,438.8 1936,438.9 1937.8,438.9 1939.5,438.9 1941.3,438.9 1943,439 1944.8,439 1946.6,439 1948.3,439 1950.1,439.1 1951.8,439.1 1953.6,439.1 1955.3,439.1 1957.1,439.2 1958.8,439.2 1960.6,439.2 1962.3,439.2 1964.1,439.3 1965.8,439.3 1967.6,439.3 1969.3,439.3 1971.1,439.4 1972.8,439.4 1974.6,439.4 1976.3,439.4 1978.1,439.5 1979.8,439.5 1981.6,439.5 1983.3,439.5" fill="none" stroke="#ff0000" stroke-width="3.9" stroke-linejoin="round" stroke-linecap="round" />
<rect x="1195.2" y="35.7" width="786.8" height="410.4" fill="none" stroke="#000" stroke-width="3"/>
<line x1="1624.2" y1="84.5" x2="1692.8" y2="84.5" stroke="#000" stroke-width="4.3" stroke-linecap="butt"/>
<text transform="translate(1711.8 89.8) scale(1 1.04)" font-size="32.3">Heme only</text>
<line x1="1624.2" y1="130.8" x2="1692.8" y2="130.8" stroke="#ff0000" stroke-width="4.3" stroke-linecap="butt"/>
<text transform="translate(1711.8 136.9) scale(1 1.04)" font-size="32.3">TrK13-WT only</text>
<line x1="1624.2" y1="177.3" x2="1692.8" y2="177.3" stroke="#00b050" stroke-width="4.3" stroke-linecap="butt"/>
<text transform="translate(1711.8 184.7) scale(1 1.04)" font-size="32.3">Lysozyme only</text>
<line x1="1624.2" y1="223.3" x2="1692.8" y2="223.3" stroke="#0070c0" stroke-width="4.3" stroke-linecap="butt"/>
<text transform="translate(1711.8 236.8) scale(1 1.04)" font-size="32.3">BSA only</text>
<text transform="translate(1076 571) scale(1 1.04)" font-size="48.5" font-weight="bold">C</text>
<line x1="1195.2" y1="990.9" x2="1204" y2="990.9" stroke="#000" stroke-width="3" />
<text transform="translate(1179.2 1000.4) scale(1 1.04)" font-size="28.6" text-anchor="end">0</text>
<line x1="1197.5" y1="949.8" x2="1204" y2="949.8" stroke="#000" stroke-width="3" />
<line x1="1195.2" y1="908.6" x2="1204" y2="908.6" stroke="#000" stroke-width="3" />
<text transform="translate(1179.2 918.1) scale(1 1.04)" font-size="28.6" text-anchor="end">0.2</text>
<line x1="1197.5" y1="867.5" x2="1204" y2="867.5" stroke="#000" stroke-width="3" />
<line x1="1195.2" y1="826.4" x2="1204" y2="826.4" stroke="#000" stroke-width="3" />
<text transform="translate(1179.2 835.9) scale(1 1.04)" font-size="28.6" text-anchor="end">0.4</text>
<line x1="1197.5" y1="785.2" x2="1204" y2="785.2" stroke="#000" stroke-width="3" />
<line x1="1195.2" y1="744.1" x2="1204" y2="744.1" stroke="#000" stroke-width="3" />
<text transform="translate(1179.2 753.6) scale(1 1.04)" font-size="28.6" text-anchor="end">0.6</text>
<line x1="1197.5" y1="703" x2="1204" y2="703" stroke="#000" stroke-width="3" />
<line x1="1195.2" y1="661.9" x2="1204" y2="661.9" stroke="#000" stroke-width="3" />
<text transform="translate(1179.2 671.4) scale(1 1.04)" font-size="28.6" text-anchor="end">0.8</text>
<line x1="1197.5" y1="620.7" x2="1204" y2="620.7" stroke="#000" stroke-width="3" />
<line x1="1195.2" y1="579.6" x2="1204" y2="579.6" stroke="#000" stroke-width="3" />
<text transform="translate(1179.2 589.1) scale(1 1.04)" font-size="28.6" text-anchor="end">1</text>
<line x1="1204" y1="990.9" x2="1204" y2="1000.3" stroke="#000" stroke-width="3" />
<text transform="translate(1204 1032.9) scale(1 1.04)" font-size="28.6" text-anchor="middle">250</text>
<line x1="1291.4" y1="990.9" x2="1291.4" y2="997.3" stroke="#000" stroke-width="3" />
<line x1="1378.8" y1="990.9" x2="1378.8" y2="1000.3" stroke="#000" stroke-width="3" />
<text transform="translate(1378.8 1032.9) scale(1 1.04)" font-size="28.6" text-anchor="middle">350</text>
<line x1="1466.2" y1="990.9" x2="1466.2" y2="997.3" stroke="#000" stroke-width="3" />
<line x1="1553.6" y1="990.9" x2="1553.6" y2="1000.3" stroke="#000" stroke-width="3" />
<text transform="translate(1553.6 1032.9) scale(1 1.04)" font-size="28.6" text-anchor="middle">450</text>
<line x1="1641" y1="990.9" x2="1641" y2="997.3" stroke="#000" stroke-width="3" />
<line x1="1728.4" y1="990.9" x2="1728.4" y2="1000.3" stroke="#000" stroke-width="3" />
<text transform="translate(1728.4 1032.9) scale(1 1.04)" font-size="28.6" text-anchor="middle">550</text>
<line x1="1815.8" y1="990.9" x2="1815.8" y2="997.3" stroke="#000" stroke-width="3" />
<line x1="1903.2" y1="990.9" x2="1903.2" y2="1000.3" stroke="#000" stroke-width="3" />
<text transform="translate(1903.2 1032.9) scale(1 1.04)" font-size="28.6" text-anchor="middle">650</text>
<line x1="1990.6" y1="990.9" x2="1990.6" y2="997.3" stroke="#000" stroke-width="3" />
<line x1="1990.6" y1="990.9" x2="1990.6" y2="1000.3" stroke="#000" stroke-width="3" />
<text transform="translate(1546.2 1075.2) scale(1 1.04)" font-size="32.4" text-anchor="middle">Wavelength (nm)</text>
<text transform="translate(1091.7 794.1) rotate(-90) scale(1 1.04)" font-size="32.8" text-anchor="middle">Absorbance (AU)</text>
<polyline points="1203.5,964.2 1205.2,963.1 1207,962 1208.7,960.9 1210.5,959.8 1212.2,958.7 1214,957.6 1215.7,956.5 1217.5,955.3 1219.2,954.2 1221,953 1222.7,951.9 1224.5,950.7 1226.2,949.3 1228,947.8 1229.7,946.3 1231.5,944.7 1233.2,943.2 1235,941.8 1236.7,940.5 1238.5,939.5 1240.2,938.7 1242,938.3 1243.7,938 1245.5,937.8 1247.2,937.6 1249,937.5 1250.7,937.3 1252.5,937.2 1254.2,937.1 1256,937.1 1257.7,937 1259.4,937.1 1261.2,937.5 1262.9,938.1 1264.7,939.2 1266.4,940.9 1268.2,943 1269.9,945 1271.7,946.5 1273.4,948 1275.2,949.5 1276.9,950.9 1278.7,952.5 1280.4,954.2 1282.2,956 1283.9,958 1285.7,960.2 1287.4,963.3 1289.2,968.4 1290.9,972.2 1292.7,972.4 1294.4,972.4 1296.2,972.4 1297.9,972.4 1299.7,972.4 1301.4,972.4 1303.2,972.4 1304.9,972.4 1306.7,972.4 1308.4,972.4 1310.2,972.4 1311.9,972.4 1313.7,972.4 1315.4,972.4 1317.2,972.4 1318.9,972.4 1320.7,972.3 1322.4,972.3 1324.2,972.2 1325.9,972.1 1327.7,972 1329.4,971.9 1331.2,971.8 1332.9,971.6 1334.7,971.5 1336.4,971.3 1338.2,971.1 1339.9,971 1341.7,970.8 1343.4,970.6 1345.2,970.4 1346.9,970.2 1348.7,970 1350.4,969.8 1352.2,969.7 1353.9,969.5 1355.7,969.3 1357.4,969.2 1359.2,969 1360.9,968.9 1362.6,968.8 1364.4,968.7 1366.1,968.6 1367.9,968.5 1369.6,968.4 1371.4,968.3 1373.1,968.2 1374.9,968.1 1376.6,968 1378.4,967.9 1380.1,967.8 1381.9,967.7 1383.6,967.6 1385.4,967.6 1387.1,967.5 1388.9,967.4 1390.6,967.3 1392.4,967.2 1394.1,967.2 1395.9,967.1 1397.6,967 1399.4,966.9 1401.1,966.9 1402.9,966.8 1404.6,966.7 1406.4,966.6 1408.1,966.6 1409.9,966.5 1411.6,966.4 1413.4,966.4 1415.1,966.3 1416.9,966.2 1418.6,966.1 1420.4,966 1422.1,966 1423.9,965.9 1425.6,965.8 1427.4,965.7 1429.1,965.6 1430.9,965.6 1432.6,965.5 1434.4,965.4 1436.1,965.3 1437.9,965.2 1439.6,965.1 1441.4,965 1443.1,964.8 1444.9,964.7 1446.6,964.6 1448.4,964.5 1450.1,964.4 1451.9,964.3 1453.6,964.2 1455.4,964.2 1457.1,964.2 1458.9,964.2 1460.6,964.2 1462.4,964.3 1464.1,964.5 1465.9,964.6 1467.6,964.8 1469.3,965.1 1471.1,965.3 1472.8,965.6 1474.6,965.9 1476.3,966.2 1478.1,966.5 1479.8,966.8 1481.6,967.1 1483.3,967.4 1485.1,967.6 1486.8,967.9 1488.6,968.2 1490.3,968.4 1492.1,968.6 1493.8,968.8 1495.6,969 1497.3,969.2 1499.1,969.3 1500.8,969.5 1502.6,969.7 1504.3,969.9 1506.1,970.1 1507.8,970.2 1509.6,970.4 1511.3,970.6 1513.1,970.8 1514.8,970.9 1516.6,971.1 1518.3,971.3 1520.1,971.4 1521.8,971.6 1523.6,971.8 1525.3,971.9 1527.1,972.1 1528.8,972.2 1530.6,972.4 1532.3,972.5 1534.1,972.6 1535.8,972.8 1537.6,972.9 1539.3,973 1541.1,973.1 1542.8,973.2 1544.6,973.3 1546.3,973.4 1548.1,973.5 1549.8,973.6 1551.6,973.6 1553.3,973.7 1555.1,973.8 1556.8,973.8 1558.6,973.9 1560.3,973.9 1562.1,974 1563.8,974 1565.6,974.1 1567.3,974.1 1569.1,974.2 1570.8,974.2 1572.5,974.3 1574.3,974.3 1576,974.3 1577.8,974.4 1579.5,974.4 1581.3,974.5 1583,974.5 1584.8,974.5 1586.5,974.6 1588.3,974.6 1590,974.7 1591.8,974.7 1593.5,974.7 1595.3,974.8 1597,974.8 1598.8,974.9 1600.5,974.9 1602.3,975 1604,975 1605.8,975.1 1607.5,975.1 1609.3,975.2 1611,975.2 1612.8,975.3 1614.5,975.3 1616.3,975.4 1618,975.4 1619.8,975.5 1621.5,975.5 1623.3,975.6 1625,975.6 1626.8,975.7 1628.5,975.7 1630.3,975.8 1632,975.8 1633.8,975.9 1635.5,975.9 1637.3,976 1639,976 1640.8,976.1 1642.5,976.1 1644.3,976.2 1646,976.2 1647.8,976.3 1649.5,976.3 1651.3,976.4 1653,976.4 1654.8,976.4 1656.5,976.5 1658.3,976.5 1660,976.6 1661.8,976.6 1663.5,976.7 1665.3,976.7 1667,976.7 1668.8,976.8 1670.5,976.8 1672.3,976.9 1674,976.9 1675.8,976.9 1677.5,977 1679.2,977 1681,977 1682.7,977.1 1684.5,977.1 1686.2,977.1 1688,977.2 1689.7,977.2 1691.5,977.2 1693.2,977.3 1695,977.3 1696.7,977.3 1698.5,977.3 1700.2,977.4 1702,977.4 1703.7,977.4 1705.5,977.5 1707.2,977.5 1709,977.5 1710.7,977.6 1712.5,977.6 1714.2,977.6 1716,977.6 1717.7,977.7 1719.5,977.7 1721.2,977.7 1723,977.7 1724.7,977.8 1726.5,977.8 1728.2,977.8 1730,977.9 1731.7,977.9 1733.5,977.9 1735.2,977.9 1737,978 1738.7,978 1740.5,978 1742.2,978 1744,978.1 1745.7,978.1 1747.5,978.1 1749.2,978.1 1751,978.2 1752.7,978.2 1754.5,978.2 1756.2,978.2 1758,978.3 1759.7,978.3 1761.5,978.3 1763.2,978.3 1765,978.3 1766.7,978.4 1768.5,978.4 1770.2,978.4 1772,978.4 1773.7,978.5 1775.5,978.5 1777.2,978.5 1779,978.5 1780.7,978.6 1782.4,978.6 1784.2,978.6 1785.9,978.6 1787.7,978.6 1789.4,978.7 1791.2,978.7 1792.9,978.7 1794.7,978.7 1796.4,978.7 1798.2,978.8 1799.9,978.8 1801.7,978.8 1803.4,978.8 1805.2,978.8 1806.9,978.9 1808.7,978.9 1810.4,978.9 1812.2,978.9 1813.9,979 1815.7,979 1817.4,979 1819.2,979 1820.9,979 1822.7,979.1 1824.4,979.1 1826.2,979.1 1827.9,979.1 1829.7,979.1 1831.4,979.2 1833.2,979.2 1834.9,979.2 1836.7,979.2 1838.4,979.2 1840.2,979.2 1841.9,979.3 1843.7,979.3 1845.4,979.3 1847.2,979.3 1848.9,979.3 1850.7,979.4 1852.4,979.4 1854.2,979.4 1855.9,979.4 1857.7,979.4 1859.4,979.5 1861.2,979.5 1862.9,979.5 1864.7,979.5 1866.4,979.5 1868.2,979.6 1869.9,979.6 1871.7,979.6 1873.4,979.6 1875.2,979.6 1876.9,979.6 1878.7,979.7 1880.4,979.7 1882.2,979.7 1883.9,979.7 1885.7,979.7 1887.4,979.7 1889.1,979.8 1890.9,979.8 1892.6,979.8 1894.4,979.8 1896.1,979.8 1897.9,979.9 1899.6,979.9 1901.4,979.9 1903.1,979.9 1904.9,979.9 1906.6,979.9 1908.4,980 1910.1,980 1911.9,980 1913.6,980 1915.4,980 1917.1,980 1918.9,980.1 1920.6,980.1 1922.4,980.1 1924.1,980.1 1925.9,980.1 1927.6,980.1 1929.4,980.1 1931.1,980.2 1932.9,980.2 1934.6,980.2 1936.4,980.2 1938.1,980.2 1939.9,980.2 1941.6,980.3 1943.4,980.3 1945.1,980.3 1946.9,980.3 1948.6,980.3 1950.4,980.3 1952.1,980.3 1953.9,980.4 1955.6,980.4 1957.4,980.4 1959.1,980.4 1960.9,980.4 1962.6,980.4 1964.4,980.4 1966.1,980.4 1967.9,980.5 1969.6,980.5 1971.4,980.5 1973.1,980.5 1974.9,980.5 1976.6,980.5 1978.4,980.5 1980.1,980.5 1981.9,980.6 1983.6,980.6 1985.4,980.6 1987.1,980.6 1988.9,980.6 1990.6,980.6" fill="none" stroke="#00b050" stroke-width="3.9" stroke-linejoin="round" stroke-linecap="round" />
<polyline points="1203.5,878.6 1205.2,878.6 1207,878.7 1208.7,878.7 1210.5,878.8 1212.2,878.8 1214,878.9 1215.7,879.1 1217.5,879.2 1219.2,879.3 1221,879.5 1222.7,879.7 1224.5,879.9 1226.2,880.1 1228,880.3 1229.7,880.5 1231.5,880.8 1233.2,881.1 1235,881.3 1236.7,881.6 1238.5,881.9 1240.2,882.2 1242,882.6 1243.7,882.9 1245.5,883.3 1247.2,883.6 1249,884.2 1250.7,884.9 1252.5,885.7 1254.2,886.7 1256,887.8 1257.7,888.9 1259.4,890.1 1261.2,891.3 1262.9,892.4 1264.7,893.6 1266.4,894.9 1268.2,896.4 1269.9,898 1271.7,899.5 1273.4,901 1275.2,902.3 1276.9,903.4 1278.7,904.2 1280.4,904.7 1282.2,905.1 1283.9,905.5 1285.7,905.8 1287.4,906.1 1289.2,906.3 1290.9,906.5 1292.7,906.6 1294.4,906.6 1296.2,906.4 1297.9,906.2 1299.7,905.8 1301.4,905.4 1303.2,904.8 1304.9,904.2 1306.7,903.6 1308.4,903 1310.2,902.1 1311.9,901 1313.7,899.8 1315.4,898.4 1317.2,896.8 1318.9,895.3 1320.7,893.6 1322.4,892 1324.2,890.5 1325.9,888.9 1327.7,887.3 1329.4,885.7 1331.2,884 1332.9,882.2 1334.7,880.4 1336.4,878.6 1338.2,876.7 1339.9,874.8 1341.7,872.8 1343.4,870.7 1345.2,868.5 1346.9,866.2 1348.7,863.8 1350.4,861.4 1352.2,859 1353.9,856.6 1355.7,854.2 1357.4,851.8 1359.2,849.5 1360.9,847.3 1362.6,845.2 1364.4,843.1 1366.1,841.2 1367.9,839.2 1369.6,837.3 1371.4,835.4 1373.1,833.5 1374.9,831.7 1376.6,830 1378.4,828.3 1380.1,826.8 1381.9,825.3 1383.6,824 1385.4,822.6 1387.1,821.3 1388.9,820 1390.6,818.8 1392.4,817.7 1394.1,816.7 1395.9,815.7 1397.6,815 1399.4,814.4 1401.1,813.8 1402.9,813.3 1404.6,812.7 1406.4,812.2 1408.1,811.7 1409.9,811.2 1411.6,810.8 1413.4,810.3 1415.1,809.9 1416.9,809.5 1418.6,809.2 1420.4,808.9 1422.1,808.6 1423.9,808.4 1425.6,808.2 1427.4,808 1429.1,807.9 1430.9,807.9 1432.6,807.9 1434.4,808 1436.1,808.1 1437.9,808.4 1439.6,808.7 1441.4,809.1 1443.1,809.6 1444.9,810.1 1446.6,810.6 1448.4,811.2 1450.1,811.8 1451.9,812.5 1453.6,813.3 1455.4,814.3 1457.1,815.5 1458.9,816.9 1460.6,818.4 1462.4,820 1464.1,821.7 1465.9,823.4 1467.6,825.3 1469.3,827.5 1471.1,830.1 1472.8,832.9 1474.6,836 1476.3,839.3 1478.1,842.7 1479.8,846.2 1481.6,849.6 1483.3,853.1 1485.1,856.4 1486.8,859.6 1488.6,862.9 1490.3,866.3 1492.1,869.7 1493.8,873.2 1495.6,876.6 1497.3,880 1499.1,883.3 1500.8,886.5 1502.6,889.5 1504.3,892.4 1506.1,895.1 1507.8,897.8 1509.6,900.5 1511.3,903.1 1513.1,905.7 1514.8,908.3 1516.6,910.7 1518.3,913.1 1520.1,915.3 1521.8,917.3 1523.6,919.2 1525.3,920.9 1527.1,922.4 1528.8,923.7 1530.6,924.9 1532.3,926.1 1534.1,927.1 1535.8,928.2 1537.6,929.1 1539.3,930.1 1541.1,930.9 1542.8,931.7 1544.6,932.5 1546.3,933.2 1548.1,933.8 1549.8,934.5 1551.6,935 1553.3,935.6 1555.1,936.1 1556.8,936.6 1558.6,937.1 1560.3,937.6 1562.1,938.1 1563.8,938.5 1565.6,938.9 1567.3,939.4 1569.1,939.8 1570.8,940.2 1572.5,940.5 1574.3,940.9 1576,941.3 1577.8,941.6 1579.5,942 1581.3,942.3 1583,942.6 1584.8,943 1586.5,943.3 1588.3,943.6 1590,943.9 1591.8,944.2 1593.5,944.5 1595.3,944.8 1597,945.1 1598.8,945.3 1600.5,945.6 1602.3,945.9 1604,946.2 1605.8,946.4 1607.5,946.7 1609.3,947 1611,947.2 1612.8,947.5 1614.5,947.7 1616.3,947.9 1618,948.2 1619.8,948.4 1621.5,948.6 1623.3,948.8 1625,949 1626.8,949.2 1628.5,949.4 1630.3,949.6 1632,949.8 1633.8,950 1635.5,950.2 1637.3,950.4 1639,950.6 1640.8,950.8 1642.5,951 1644.3,951.1 1646,951.3 1647.8,951.5 1649.5,951.7 1651.3,951.9 1653,952 1654.8,952.2 1656.5,952.4 1658.3,952.6 1660,952.7 1661.8,952.9 1663.5,953.1 1665.3,953.2 1667,953.4 1668.8,953.5 1670.5,953.7 1672.3,953.9 1674,954 1675.8,954.2 1677.5,954.3 1679.2,954.5 1681,954.6 1682.7,954.8 1684.5,954.9 1686.2,955 1688,955.2 1689.7,955.3 1691.5,955.4 1693.2,955.6 1695,955.7 1696.7,955.8 1698.5,955.9 1700.2,956.1 1702,956.2 1703.7,956.3 1705.5,956.4 1707.2,956.5 1709,956.6 1710.7,956.8 1712.5,956.9 1714.2,957 1716,957.1 1717.7,957.2 1719.5,957.3 1721.2,957.4 1723,957.5 1724.7,957.6 1726.5,957.7 1728.2,957.8 1730,957.9 1731.7,958 1733.5,958.1 1735.2,958.2 1737,958.3 1738.7,958.4 1740.5,958.5 1742.2,958.5 1744,958.6 1745.7,958.7 1747.5,958.8 1749.2,958.9 1751,959 1752.7,959.1 1754.5,959.1 1756.2,959.2 1758,959.3 1759.7,959.4 1761.5,959.4 1763.2,959.5 1765,959.6 1766.7,959.7 1768.5,959.7 1770.2,959.8 1772,959.9 1773.7,959.9 1775.5,960 1777.2,960 1779,960.1 1780.7,960.2 1782.4,960.2 1784.2,960.3 1785.9,960.3 1787.7,960.4 1789.4,960.4 1791.2,960.4 1792.9,960.5 1794.7,960.5 1796.4,960.6 1798.2,960.6 1799.9,960.6 1801.7,960.7 1803.4,960.7 1805.2,960.7 1806.9,960.8 1808.7,960.8 1810.4,960.8 1812.2,960.9 1813.9,960.9 1815.7,960.9 1817.4,961 1819.2,961 1820.9,961 1822.7,961.1 1824.4,961.1 1826.2,961.1 1827.9,961.2 1829.7,961.2 1831.4,961.2 1833.2,961.3 1834.9,961.3 1836.7,961.4 1838.4,961.4 1840.2,961.4 1841.9,961.5 1843.7,961.5 1845.4,961.6 1847.2,961.6 1848.9,961.7 1850.7,961.8 1852.4,961.8 1854.2,961.9 1855.9,962 1857.7,962 1859.4,962.1 1861.2,962.2 1862.9,962.3 1864.7,962.4 1866.4,962.6 1868.2,962.7 1869.9,962.9 1871.7,963.1 1873.4,963.3 1875.2,963.5 1876.9,963.7 1878.7,963.9 1880.4,964.1 1882.2,964.4 1883.9,964.6 1885.7,964.8 1887.4,965.1 1889.1,965.3 1890.9,965.6 1892.6,965.8 1894.4,966.1 1896.1,966.3 1897.9,966.6 1899.6,966.8 1901.4,967 1903.1,967.2 1904.9,967.4 1906.6,967.6 1908.4,967.8 1910.1,968 1911.9,968.2 1913.6,968.3 1915.4,968.5 1917.1,968.7 1918.9,968.9 1920.6,969.1 1922.4,969.2 1924.1,969.4 1925.9,969.6 1927.6,969.7 1929.4,969.9 1931.1,970.1 1932.9,970.2 1934.6,970.4 1936.4,970.5 1938.1,970.6 1939.9,970.8 1941.6,970.9 1943.4,971 1945.1,971.1 1946.9,971.2 1948.6,971.2 1950.4,971.3 1952.1,971.4 1953.9,971.5 1955.6,971.5 1957.4,971.6 1959.1,971.7 1960.9,971.7 1962.6,971.8 1964.4,971.9 1966.1,971.9 1967.9,972 1969.6,972 1971.4,972.1 1973.1,972.1 1974.9,972.2 1976.6,972.2 1978.4,972.3 1980.1,972.3 1981.9,972.3 1983.6,972.3 1985.4,972.4 1987.1,972.4 1988.9,972.4 1990.6,972.4" fill="none" stroke="#ff0000" stroke-width="3.9" stroke-linejoin="round" stroke-linecap="round" />
<polyline points="1203.5,812 1205.2,812.5 1207,812.8 1208.7,813.1 1210.5,813.2 1212.2,813.2 1214,813.2 1215.7,813 1217.5,812.4 1219.2,811.5 1221,810.4 1222.7,809.2 1224.5,808.2 1226.2,807.3 1228,806.4 1229.7,805.5 1231.5,804.6 1233.2,803.8 1235,803.1 1236.7,802.7 1238.5,802.4 1240.2,802.2 1242,802.1 1243.7,801.9 1245.5,801.8 1247.2,801.7 1249,801.7 1250.7,802.1 1252.5,803.3 1254.2,805.2 1256,807.4 1257.7,809.7 1259.4,811.8 1261.2,814.1 1262.9,816.5 1264.7,819.1 1266.4,822 1268.2,825.2 1269.9,829.1 1271.7,833.7 1273.4,838.6 1275.2,843.4 1276.9,847.6 1278.7,851.2 1280.4,854.7 1282.2,857.7 1283.9,859.9 1285.7,861.2 1287.4,862.4 1289.2,863.4 1290.9,864.1 1292.7,864.6 1294.4,864.6 1296.2,864.1 1297.9,863.3 1299.7,862.2 1301.4,860.9 1303.2,859.4 1304.9,858 1306.7,856.5 1308.4,854.7 1310.2,852.7 1311.9,850.5 1313.7,848.2 1315.4,845.9 1317.2,843.6 1318.9,841.2 1320.7,838.8 1322.4,836.4 1324.2,833.9 1325.9,831.2 1327.7,828.5 1329.4,825.6 1331.2,822.5 1332.9,819.2 1334.7,815.7 1336.4,811.9 1338.2,807.9 1339.9,803.8 1341.7,799.5 1343.4,795.2 1345.2,790.6 1346.9,785.8 1348.7,780.8 1350.4,775.9 1352.2,771.1 1353.9,766.4 1355.7,761.9 1357.4,757.3 1359.2,752.8 1360.9,748.3 1362.6,743.8 1364.4,739.2 1366.1,734.4 1367.9,729.4 1369.6,724.4 1371.4,719.4 1373.1,714.6 1374.9,710 1376.6,705.8 1378.4,702 1380.1,698.6 1381.9,695.5 1383.6,692.5 1385.4,689.7 1387.1,686.9 1388.9,684.1 1390.6,681.2 1392.4,678.4 1394.1,675.7 1395.9,673.2 1397.6,670.9 1399.4,668.9 1401.1,667.3 1402.9,665.8 1404.6,664.5 1406.4,663.2 1408.1,661.9 1409.9,660.5 1411.6,659.2 1413.4,658.2 1415.1,656.9 1416.9,653.3 1418.6,645.2 1420.4,642.9 1422.1,641.4 1423.9,640.3 1425.6,639.4 1427.4,638.3 1429.1,637.1 1430.9,635.9 1432.6,634.7 1434.4,633.7 1436.1,632.8 1437.9,632 1439.6,631.2 1441.4,630.4 1443.1,629.8 1444.9,629.4 1446.6,629.4 1448.4,629.6 1450.1,630.1 1451.9,630.8 1453.6,631.6 1455.4,632.5 1457.1,633.6 1458.9,634.8 1460.6,636.5 1462.4,638.7 1464.1,641.3 1465.9,644.2 1467.6,647.2 1469.3,650.3 1471.1,653.7 1472.8,657.4 1474.6,661.6 1476.3,666 1478.1,670.8 1479.8,675.9 1481.6,681.2 1483.3,687.1 1485.1,693.5 1486.8,700.3 1488.6,707.6 1490.3,715.3 1492.1,723.3 1493.8,731.7 1495.6,741.1 1497.3,751.1 1499.1,761.3 1500.8,771.3 1502.6,780.7 1504.3,790 1506.1,799.1 1507.8,808 1509.6,816.4 1511.3,824.1 1513.1,831.3 1514.8,838.2 1516.6,844.7 1518.3,850.6 1520.1,855.9 1521.8,860.4 1523.6,864.5 1525.3,868.3 1527.1,871.8 1528.8,875 1530.6,877.9 1532.3,880.6 1534.1,883.2 1535.8,885.6 1537.6,887.9 1539.3,890.1 1541.1,892.2 1542.8,894.2 1544.6,896 1546.3,897.8 1548.1,899.4 1549.8,900.9 1551.6,902.2 1553.3,903.5 1555.1,904.7 1556.8,905.9 1558.6,907 1560.3,908 1562.1,909 1563.8,910 1565.6,910.9 1567.3,911.7 1569.1,912.5 1570.8,913.3 1572.5,914 1574.3,914.6 1576,915.3 1577.8,915.9 1579.5,916.5 1581.3,917 1583,917.6 1584.8,918.1 1586.5,918.6 1588.3,919.1 1590,919.5 1591.8,919.9 1593.5,920.3 1595.3,920.6 1597,920.8 1598.8,921 1600.5,921.2 1602.3,921.4 1604,921.6 1605.8,921.7 1607.5,921.9 1609.3,922 1611,922.2 1612.8,922.3 1614.5,922.4 1616.3,922.5 1618,922.6 1619.8,922.7 1621.5,922.8 1623.3,922.9 1625,923 1626.8,923.1 1628.5,923.1 1630.3,923.2 1632,923.3 1633.8,923.4 1635.5,923.5 1637.3,923.6 1639,923.7 1640.8,923.9 1642.5,924 1644.3,924.1 1646,924.3 1647.8,924.4 1649.5,924.6 1651.3,924.7 1653,924.9 1654.8,925 1656.5,925.2 1658.3,925.4 1660,925.5 1661.8,925.7 1663.5,925.9 1665.3,926.1 1667,926.2 1668.8,926.4 1670.5,926.6 1672.3,926.8 1674,927 1675.8,927.2 1677.5,927.4 1679.2,927.6 1681,927.8 1682.7,928 1684.5,928.2 1686.2,928.4 1688,928.7 1689.7,928.9 1691.5,929.1 1693.2,929.3 1695,929.5 1696.7,929.8 1698.5,930 1700.2,930.2 1702,930.5 1703.7,930.7 1705.5,931 1707.2,931.3 1709,931.6 1710.7,931.9 1712.5,932.2 1714.2,932.5 1716,932.8 1717.7,933.2 1719.5,933.5 1721.2,933.8 1723,934.2 1724.7,934.5 1726.5,934.8 1728.2,935.2 1730,935.5 1731.7,935.9 1733.5,936.2 1735.2,936.5 1737,936.9 1738.7,937.2 1740.5,937.5 1742.2,937.8 1744,938.1 1745.7,938.4 1747.5,938.7 1749.2,939 1751,939.2 1752.7,939.5 1754.5,939.7 1756.2,940 1758,940.2 1759.7,940.4 1761.5,940.6 1763.2,940.7 1765,940.9 1766.7,941.1 1768.5,941.2 1770.2,941.4 1772,941.6 1773.7,941.7 1775.5,941.9 1777.2,942 1779,942.2 1780.7,942.3 1782.4,942.5 1784.2,942.6 1785.9,942.7 1787.7,942.9 1789.4,943 1791.2,943.1 1792.9,943.2 1794.7,943.3 1796.4,943.4 1798.2,943.4 1799.9,943.5 1801.7,943.5 1803.4,943.6 1805.2,943.6 1806.9,943.6 1808.7,943.6 1810.4,943.6 1812.2,943.6 1813.9,943.6 1815.7,943.6 1817.4,943.6 1819.2,943.6 1820.9,943.6 1822.7,943.6 1824.4,943.6 1826.2,943.6 1827.9,943.6 1829.7,943.6 1831.4,943.6 1833.2,943.6 1834.9,943.6 1836.7,943.6 1838.4,943.6 1840.2,943.6 1841.9,943.6 1843.7,943.6 1845.4,943.6 1847.2,943.7 1848.9,943.8 1850.7,944.1 1852.4,944.4 1854.2,944.7 1855.9,945.1 1857.7,945.5 1859.4,945.9 1861.2,946.3 1862.9,946.8 1864.7,947.2 1866.4,947.6 1868.2,948 1869.9,948.5 1871.7,949 1873.4,949.5 1875.2,950.1 1876.9,950.7 1878.7,951.3 1880.4,951.9 1882.2,952.5 1883.9,953.1 1885.7,953.7 1887.4,954.3 1889.1,954.8 1890.9,955.3 1892.6,955.9 1894.4,956.3 1896.1,956.8 1897.9,957.3 1899.6,957.7 1901.4,958.2 1903.1,958.7 1904.9,959.1 1906.6,959.6 1908.4,960 1910.1,960.4 1911.9,960.8 1913.6,961.2 1915.4,961.6 1917.1,961.9 1918.9,962.2 1920.6,962.5 1922.4,962.8 1924.1,963 1925.9,963.2 1927.6,963.4 1929.4,963.5 1931.1,963.7 1932.9,963.9 1934.6,964 1936.4,964.2 1938.1,964.3 1939.9,964.5 1941.6,964.6 1943.4,964.7 1945.1,964.8 1946.9,964.9 1948.6,965 1950.4,965.1 1952.1,965.2 1953.9,965.3 1955.6,965.4 1957.4,965.5 1959.1,965.6 1960.9,965.6 1962.6,965.7 1964.4,965.8 1966.1,965.9 1967.9,966 1969.6,966 1971.4,966.1 1973.1,966.2 1974.9,966.2 1976.6,966.3 1978.4,966.4 1980.1,966.4 1981.9,966.5 1983.6,966.5 1985.4,966.5 1987.1,966.6 1988.9,966.6 1990.6,966.6" fill="none" stroke="#0070c0" stroke-width="3.9" stroke-linejoin="round" stroke-linecap="round" />
<rect x="1204" y="580.4" width="786" height="410.5" fill="none" stroke="#000" stroke-width="3"/>
<line x1="1609.6" y1="628.7" x2="1678.8" y2="628.7" stroke="#ff0000" stroke-width="4.3" stroke-linecap="butt"/>
<text transform="translate(1698.4 634.5) scale(1 1.04)" font-size="32.3">TrK13-WT + Heme</text>
<line x1="1609.6" y1="674.9" x2="1678.8" y2="674.9" stroke="#00b050" stroke-width="4.3" stroke-linecap="butt"/>
<text transform="translate(1698.4 683.1) scale(1 1.04)" font-size="32.3">Lysozyme + Heme</text>
<line x1="1609.6" y1="721" x2="1678.8" y2="721" stroke="#0070c0" stroke-width="4.3" stroke-linecap="butt"/>
<text transform="translate(1698.4 735.2) scale(1 1.04)" font-size="32.3">BSA + Heme</text>
<text transform="translate(28.9 1083.8) scale(1 1.04)" font-size="48.5" font-weight="bold">D</text>
<line x1="122.1" y1="1618.9" x2="131.4" y2="1618.9" stroke="#000" stroke-width="3" />
<text transform="translate(103.2 1629.7) scale(1 1.04)" font-size="32.5" text-anchor="end">0</text>
<line x1="123.7" y1="1579.5" x2="131.4" y2="1579.5" stroke="#000" stroke-width="3" />
<line x1="122.1" y1="1540" x2="131.4" y2="1540" stroke="#000" stroke-width="3" />
<text transform="translate(103.2 1550.8) scale(1 1.04)" font-size="32.5" text-anchor="end">0.2</text>
<line x1="123.7" y1="1500.6" x2="131.4" y2="1500.6" stroke="#000" stroke-width="3" />
<line x1="122.1" y1="1461.2" x2="131.4" y2="1461.2" stroke="#000" stroke-width="3" />
<text transform="translate(103.2 1472) scale(1 1.04)" font-size="32.5" text-anchor="end">0.4</text>
<line x1="123.7" y1="1421.8" x2="131.4" y2="1421.8" stroke="#000" stroke-width="3" />
<line x1="122.1" y1="1382.3" x2="131.4" y2="1382.3" stroke="#000" stroke-width="3" />
<text transform="translate(103.2 1393.1) scale(1 1.04)" font-size="32.5" text-anchor="end">0.6</text>
<line x1="123.7" y1="1342.9" x2="131.4" y2="1342.9" stroke="#000" stroke-width="3" />
<line x1="122.1" y1="1303.5" x2="131.4" y2="1303.5" stroke="#000" stroke-width="3" />
<text transform="translate(103.2 1314.3) scale(1 1.04)" font-size="32.5" text-anchor="end">0.8</text>
<line x1="123.7" y1="1264" x2="131.4" y2="1264" stroke="#000" stroke-width="3" />
<line x1="122.1" y1="1224.6" x2="131.4" y2="1224.6" stroke="#000" stroke-width="3" />
<text transform="translate(103.2 1235.4) scale(1 1.04)" font-size="32.5" text-anchor="end">1</text>
<line x1="123.7" y1="1185.2" x2="131.4" y2="1185.2" stroke="#000" stroke-width="3" />
<line x1="122.1" y1="1145.7" x2="131.4" y2="1145.7" stroke="#000" stroke-width="3" />
<text transform="translate(103.2 1156.5) scale(1 1.04)" font-size="32.5" text-anchor="end">1.2</text>
<line x1="131.4" y1="1618.9" x2="131.4" y2="1628.9" stroke="#000" stroke-width="3" />
<text transform="translate(131 1667.6) scale(1 1.04)" font-size="32.5" text-anchor="middle" fill="#595959">250</text>
<line x1="181.5" y1="1618.9" x2="181.5" y2="1625.2" stroke="#000" stroke-width="3" />
<line x1="231.7" y1="1618.9" x2="231.7" y2="1628.9" stroke="#000" stroke-width="3" />
<text transform="translate(231.3 1667.6) scale(1 1.04)" font-size="32.5" text-anchor="middle" fill="#595959">350</text>
<line x1="281.8" y1="1618.9" x2="281.8" y2="1625.2" stroke="#000" stroke-width="3" />
<line x1="331.9" y1="1618.9" x2="331.9" y2="1628.9" stroke="#000" stroke-width="3" />
<text transform="translate(331.5 1667.6) scale(1 1.04)" font-size="32.5" text-anchor="middle" fill="#595959">450</text>
<line x1="382.1" y1="1618.9" x2="382.1" y2="1625.2" stroke="#000" stroke-width="3" />
<line x1="432.2" y1="1618.9" x2="432.2" y2="1628.9" stroke="#000" stroke-width="3" />
<text transform="translate(431.8 1667.6) scale(1 1.04)" font-size="32.5" text-anchor="middle" fill="#595959">550</text>
<line x1="482.3" y1="1618.9" x2="482.3" y2="1625.2" stroke="#000" stroke-width="3" />
<line x1="532.5" y1="1618.9" x2="532.5" y2="1628.9" stroke="#000" stroke-width="3" />
<text transform="translate(532.1 1667.6) scale(1 1.04)" font-size="32.5" text-anchor="middle" fill="#595959">650</text>
<line x1="582.6" y1="1618.9" x2="582.6" y2="1625.2" stroke="#000" stroke-width="3" />
<line x1="582.6" y1="1618.9" x2="582.6" y2="1628.9" stroke="#000" stroke-width="3" />
<text transform="translate(327.2 1719.4) scale(1 1.04)" font-size="36.3" text-anchor="middle">Wavelength (nm)</text>
<text transform="translate(42.5 1395) rotate(-90) scale(1 1.04)" font-size="36.8" text-anchor="middle">Δ Absorbance (482 nm) AU</text>
<polyline points="145.4,1602.7 146.4,1602.3 147.4,1601.9 148.4,1601.6 149.4,1601.2 150.5,1600.8 151.5,1600.4 152.5,1600.1 153.5,1599.9 154.5,1599.7 155.5,1599.5 156.5,1599.2 157.5,1599 158.5,1598.8 159.5,1599 160.5,1599.2 161.5,1599.4 162.5,1599.6 163.5,1599.8 164.5,1600 165.5,1600.6 166.5,1601.3 167.5,1602 168.5,1602.7 169.5,1603.4 170.5,1604 171.5,1604.7 172.5,1605.6 173.5,1606.5 174.5,1607.4 175.5,1608.3 176.5,1609.2 177.5,1610.1 178.5,1611 179.5,1612.1 180.5,1613.1 181.5,1614.2 182.5,1615.2 183.5,1616.3 184.5,1617.3 185.5,1617.6 186.5,1618 187.6,1618.3 188.6,1618.6 189.6,1618.9 190.6,1618.9 191.6,1618.9 192.6,1618.9 193.6,1618.9 194.6,1618.9 195.6,1618.9 196.6,1618.9 197.6,1618.9 198.6,1618.9 199.6,1618.9 200.6,1618.9 201.6,1618.9 202.6,1618.9 203.6,1618.9 204.6,1618.9 205.6,1618.9 206.6,1618.9 207.6,1618.9 208.6,1618.9 209.6,1618.9 210.6,1618.9 211.6,1618.9 212.6,1618.9 213.6,1618.9 214.6,1618.9 215.6,1618.9 216.6,1618.9 217.6,1618.9 218.6,1618.9 219.6,1618.9 220.6,1618.9 221.6,1618.9 222.6,1618.9 223.6,1618.9 224.7,1618.9 225.7,1618.9 226.7,1618.9 227.7,1618.9 228.7,1618.9 229.7,1618.9 230.7,1618.9 231.7,1618.9 232.7,1618.9 233.7,1618.9 234.7,1618.9 235.7,1618.9 236.7,1618.9 237.7,1618.9 238.7,1618.9 239.7,1618.9 240.7,1618.9 241.7,1618.9 242.7,1618.9 243.7,1618.9 244.7,1618.9 245.7,1618.9 246.7,1618.9 247.7,1618.9 248.7,1618.9 249.7,1618.9 250.7,1618.9 251.7,1618.9 252.7,1618.9 253.7,1618.9 254.7,1618.9 255.7,1618.9 256.7,1618.9 257.7,1618.9 258.7,1618.9 259.7,1618.9 260.7,1618.9 261.8,1618.9 262.8,1618.9 263.8,1618.9 264.8,1618.9 265.8,1618.9 266.8,1618.9 267.8,1618.9 268.8,1618.9 269.8,1618.9 270.8,1618.9 271.8,1618.9 272.8,1618.9 273.8,1618.9 274.8,1618.9 275.8,1618.9 276.8,1618.9 277.8,1618.9 278.8,1618.9 279.8,1618.9 280.8,1618.9 281.8,1618.9 282.8,1618.9 283.8,1618.9 284.8,1618.9 285.8,1618.9 286.8,1618.9 287.8,1618.9 288.8,1618.9 289.8,1618.9 290.8,1618.9 291.8,1618.9 292.8,1618.9 293.8,1618.9 294.8,1618.9 295.8,1618.9 296.8,1618.9 297.8,1618.9 298.9,1618.9 299.9,1618.9 300.9,1618.9 301.9,1618.9 302.9,1618.9 303.9,1618.9 304.9,1618.9 305.9,1618.9 306.9,1618.9 307.9,1618.9 308.9,1618.9 309.9,1618.9 310.9,1618.9 311.9,1618.9 312.9,1618.9 313.9,1618.9 314.9,1618.9 315.9,1618.9 316.9,1618.9 317.9,1618.9 318.9,1618.9 319.9,1618.9 320.9,1618.9 321.9,1618.9 322.9,1618.9 323.9,1618.9 324.9,1618.9 325.9,1618.9 326.9,1618.9 327.9,1618.9 328.9,1618.9 329.9,1618.9 330.9,1618.9 331.9,1618.9 332.9,1618.9 333.9,1618.9 334.9,1618.9 336,1618.9 337,1618.9 338,1618.9 339,1618.9 340,1618.9 341,1618.9 342,1618.9 343,1618.9 344,1618.9 345,1618.9 346,1618.9 347,1618.9 348,1618.9 349,1618.9 350,1618.9 351,1618.9 352,1618.9 353,1618.9 354,1618.9 355,1618.9 356,1618.9 357,1618.9 358,1618.9 359,1618.9 360,1618.9 361,1618.9 362,1618.9 363,1618.9 364,1618.9 365,1618.9 366,1618.9 367,1618.9 368,1618.9 369,1618.9 370,1618.9 371,1618.9 372,1618.9 373.1,1618.9 374.1,1618.9 375.1,1618.9 376.1,1618.9 377.1,1618.9 378.1,1618.9 379.1,1618.9 380.1,1618.9 381.1,1618.9 382.1,1618.9 383.1,1618.9 384.1,1618.9 385.1,1618.9 386.1,1618.9 387.1,1618.9 388.1,1618.9 389.1,1618.9 390.1,1618.9 391.1,1618.9 392.1,1618.9 393.1,1618.9 394.1,1618.9 395.1,1618.9 396.1,1618.9 397.1,1618.9 398.1,1618.9 399.1,1618.9 400.1,1618.9 401.1,1618.9 402.1,1618.9 403.1,1618.9 404.1,1618.9 405.1,1618.9 406.1,1618.9 407.1,1618.9 408.1,1618.9 409.1,1618.9 410.2,1618.9 411.2,1618.9 412.2,1618.9 413.2,1618.9 414.2,1618.9 415.2,1618.9 416.2,1618.9 417.2,1618.9 418.2,1618.9 419.2,1618.9 420.2,1618.9 421.2,1618.9 422.2,1618.9 423.2,1618.9 424.2,1618.9 425.2,1618.9 426.2,1618.9 427.2,1618.9 428.2,1618.9 429.2,1618.9 430.2,1618.9 431.2,1618.9 432.2,1618.9 433.2,1618.9 434.2,1618.9 435.2,1618.9 436.2,1618.9 437.2,1618.9 438.2,1618.9 439.2,1618.9 440.2,1618.9 441.2,1618.9 442.2,1618.9 443.2,1618.9 444.2,1618.9 445.2,1618.9 446.2,1618.9 447.3,1618.9 448.3,1618.9 449.3,1618.9 450.3,1618.9 451.3,1618.9 452.3,1618.9 453.3,1618.9 454.3,1618.9 455.3,1618.9 456.3,1618.9 457.3,1618.9 458.3,1618.9 459.3,1618.9 460.3,1618.9 461.3,1618.9 462.3,1618.9 463.3,1618.9 464.3,1618.9 465.3,1618.9 466.3,1618.9 467.3,1618.9 468.3,1618.9 469.3,1618.9 470.3,1618.9 471.3,1618.9 472.3,1618.9 473.3,1618.9 474.3,1618.9 475.3,1618.9 476.3,1618.9 477.3,1618.9 478.3,1618.9 479.3,1618.9 480.3,1618.9 481.3,1618.9 482.3,1618.9 483.3,1618.9 484.4,1618.9 485.4,1618.9 486.4,1618.9 487.4,1618.9 488.4,1618.9 489.4,1618.9 490.4,1618.9 491.4,1618.9 492.4,1618.9 493.4,1618.9 494.4,1618.9 495.4,1618.9 496.4,1618.9 497.4,1618.9 498.4,1618.9 499.4,1618.9 500.4,1618.9 501.4,1618.9 502.4,1618.9 503.4,1618.9 504.4,1618.9 505.4,1618.9 506.4,1618.9 507.4,1618.9 508.4,1618.9 509.4,1618.9 510.4,1618.9 511.4,1618.9 512.4,1618.9 513.4,1618.9 514.4,1618.9 515.4,1618.9 516.4,1618.9 517.4,1618.9 518.4,1618.9 519.4,1618.9 520.4,1618.9 521.5,1618.9 522.5,1618.9 523.5,1618.9 524.5,1618.9 525.5,1618.9 526.5,1618.9 527.5,1618.9 528.5,1618.9 529.5,1618.9 530.5,1618.9 531.5,1618.9 532.5,1618.9 533.5,1618.9 534.5,1618.9 535.5,1618.9 536.5,1618.9 537.5,1618.9 538.5,1618.9 539.5,1618.9 540.5,1618.9 541.5,1618.9 542.5,1618.9 543.5,1618.9 544.5,1618.9 545.5,1618.9 546.5,1618.9 547.5,1618.9 548.5,1618.9 549.5,1618.9 550.5,1618.9 551.5,1618.9 552.5,1618.9 553.5,1618.9 554.5,1618.9 555.5,1618.9 556.5,1618.9 557.5,1618.9 558.6,1618.9 559.6,1618.9 560.6,1618.9 561.6,1618.9 562.6,1618.9 563.6,1618.9 564.6,1618.9 565.6,1618.9 566.6,1618.9 567.6,1618.9 568.6,1618.9 569.6,1618.9 570.6,1618.9 571.6,1618.9 572.6,1618.9 573.6,1618.9 574.6,1618.9 575.6,1618.9 576.6,1618.9 577.6,1618.9 578.6,1618.9 579.6,1618.9 580.6,1618.9 581.6,1618.9 582.6,1618.9" fill="none" stroke="#000" stroke-width="3.5" stroke-linejoin="round" stroke-linecap="round" stroke-dasharray="14 11" stroke-linecap="butt"/>
<polyline points="131.4,1585.4 132.4,1585.2 133.4,1585 134.4,1584.9 135.4,1584.7 136.4,1584.5 137.4,1584.4 138.4,1584.2 139.4,1584 140.4,1583.9 141.4,1583.7 142.4,1583.5 143.4,1583.4 144.4,1583.2 145.4,1583.1 146.4,1583 147.4,1582.9 148.4,1582.9 149.4,1582.8 150.5,1582.7 151.5,1582.7 152.5,1582.7 153.5,1582.6 154.5,1582.6 155.5,1582.7 156.5,1582.8 157.5,1583 158.5,1583.2 159.5,1583.5 160.5,1583.8 161.5,1584.2 162.5,1584.9 163.5,1585.6 164.5,1586.5 165.5,1587.4 166.5,1588.4 167.5,1589.6 168.5,1591 169.5,1592.3 170.5,1593.5 171.5,1594.5 172.5,1595.2 173.5,1596 174.5,1596.8 175.5,1597.4 176.5,1597.9 177.5,1598.3 178.5,1598.4 179.5,1598.4 180.5,1598.4 181.5,1598.3 182.5,1598.3 183.5,1598.2 184.5,1598.2 185.5,1598.1 186.5,1598 187.6,1597.9 188.6,1597.8 189.6,1597.6 190.6,1597.4 191.6,1597.2 192.6,1596.9 193.6,1596.7 194.6,1596.5 195.6,1596.2 196.6,1596 197.6,1595.8 198.6,1595.6 199.6,1595.4 200.6,1595.2 201.6,1595 202.6,1594.8 203.6,1594.6 204.6,1594.4 205.6,1594.2 206.6,1594.1 207.6,1593.9 208.6,1593.7 209.6,1593.6 210.6,1593.4 211.6,1593.3 212.6,1593.1 213.6,1593 214.6,1592.9 215.6,1592.8 216.6,1592.6 217.6,1592.5 218.6,1592.4 219.6,1592.3 220.6,1592.2 221.6,1592.1 222.6,1592 223.6,1591.9 224.7,1591.8 225.7,1591.7 226.7,1591.6 227.7,1591.6 228.7,1591.5 229.7,1591.4 230.7,1591.4 231.7,1591.3 232.7,1591.2 233.7,1591.2 234.7,1591.1 235.7,1591.1 236.7,1591 237.7,1591 238.7,1590.9 239.7,1590.9 240.7,1590.8 241.7,1590.8 242.7,1590.7 243.7,1590.7 244.7,1590.6 245.7,1590.6 246.7,1590.6 247.7,1590.6 248.7,1590.5 249.7,1590.5 250.7,1590.5 251.7,1590.5 252.7,1590.5 253.7,1590.5 254.7,1590.5 255.7,1590.5 256.7,1590.5 257.7,1590.5 258.7,1590.5 259.7,1590.5 260.7,1590.5 261.8,1590.5 262.8,1590.5 263.8,1590.5 264.8,1590.5 265.8,1590.5 266.8,1590.5 267.8,1590.5 268.8,1590.6 269.8,1590.7 270.8,1590.8 271.8,1590.9 272.8,1591.1 273.8,1591.2 274.8,1591.4 275.8,1591.6 276.8,1591.8 277.8,1592 278.8,1592.3 279.8,1592.5 280.8,1592.7 281.8,1593 282.8,1593.3 283.8,1593.6 284.8,1594 285.8,1594.4 286.8,1594.8 287.8,1595.2 288.8,1595.6 289.8,1596 290.8,1596.4 291.8,1596.8 292.8,1597.2 293.8,1597.7 294.8,1598.1 295.8,1598.5 296.8,1599 297.8,1599.5 298.9,1599.9 299.9,1600.3 300.9,1600.8 301.9,1601.2 302.9,1601.5 303.9,1601.9 304.9,1602.3 305.9,1602.7 306.9,1603.1 307.9,1603.5 308.9,1603.9 309.9,1604.2 310.9,1604.6 311.9,1604.9 312.9,1605.2 313.9,1605.5 314.9,1605.8 315.9,1606.1 316.9,1606.3 317.9,1606.5 318.9,1606.7 319.9,1606.9 320.9,1607.1 321.9,1607.3 322.9,1607.4 323.9,1607.6 324.9,1607.8 325.9,1607.9 326.9,1608.1 327.9,1608.2 328.9,1608.3 329.9,1608.5 330.9,1608.6 331.9,1608.7 332.9,1608.8 333.9,1608.9 334.9,1609 336,1609.1 337,1609.2 338,1609.3 339,1609.4 340,1609.5 341,1609.6 342,1609.7 343,1609.8 344,1609.9 345,1609.9 346,1610 347,1610.1 348,1610.2 349,1610.2 350,1610.3 351,1610.4 352,1610.4 353,1610.5 354,1610.6 355,1610.6 356,1610.7 357,1610.7 358,1610.8 359,1610.9 360,1610.9 361,1611 362,1611 363,1611.1 364,1611.1 365,1611.2 366,1611.2 367,1611.3 368,1611.3 369,1611.3 370,1611.4 371,1611.4 372,1611.5 373.1,1611.5 374.1,1611.6 375.1,1611.6 376.1,1611.6 377.1,1611.7 378.1,1611.7 379.1,1611.8 380.1,1611.8 381.1,1611.8 382.1,1611.9 383.1,1611.9 384.1,1611.9 385.1,1612 386.1,1612 387.1,1612 388.1,1612.1 389.1,1612.1 390.1,1612.1 391.1,1612.2 392.1,1612.2 393.1,1612.2 394.1,1612.3 395.1,1612.3 396.1,1612.3 397.1,1612.4 398.1,1612.4 399.1,1612.4 400.1,1612.4 401.1,1612.5 402.1,1612.5 403.1,1612.5 404.1,1612.6 405.1,1612.6 406.1,1612.6 407.1,1612.6 408.1,1612.7 409.1,1612.7 410.2,1612.7 411.2,1612.8 412.2,1612.8 413.2,1612.8 414.2,1612.8 415.2,1612.9 416.2,1612.9 417.2,1612.9 418.2,1612.9 419.2,1613 420.2,1613 421.2,1613 422.2,1613 423.2,1613.1 424.2,1613.1 425.2,1613.1 426.2,1613.1 427.2,1613.2 428.2,1613.2 429.2,1613.2 430.2,1613.2 431.2,1613.3 432.2,1613.3 433.2,1613.3 434.2,1613.3 435.2,1613.4 436.2,1613.4 437.2,1613.4 438.2,1613.4 439.2,1613.4 440.2,1613.5 441.2,1613.5 442.2,1613.5 443.2,1613.5 444.2,1613.5 445.2,1613.6 446.2,1613.6 447.3,1613.6 448.3,1613.6 449.3,1613.7 450.3,1613.7 451.3,1613.7 452.3,1613.7 453.3,1613.7 454.3,1613.8 455.3,1613.8 456.3,1613.8 457.3,1613.8 458.3,1613.8 459.3,1613.9 460.3,1613.9 461.3,1613.9 462.3,1613.9 463.3,1613.9 464.3,1614 465.3,1614 466.3,1614 467.3,1614 468.3,1614 469.3,1614.1 470.3,1614.1 471.3,1614.1 472.3,1614.1 473.3,1614.1 474.3,1614.1 475.3,1614.2 476.3,1614.2 477.3,1614.2 478.3,1614.2 479.3,1614.2 480.3,1614.3 481.3,1614.3 482.3,1614.3 483.3,1614.3 484.4,1614.3 485.4,1614.3 486.4,1614.4 487.4,1614.4 488.4,1614.4 489.4,1614.4 490.4,1614.4 491.4,1614.4 492.4,1614.5 493.4,1614.5 494.4,1614.5 495.4,1614.5 496.4,1614.5 497.4,1614.5 498.4,1614.6 499.4,1614.6 500.4,1614.6 501.4,1614.6 502.4,1614.6 503.4,1614.6 504.4,1614.7 505.4,1614.7 506.4,1614.7 507.4,1614.7 508.4,1614.7 509.4,1614.7 510.4,1614.8 511.4,1614.8 512.4,1614.8 513.4,1614.8 514.4,1614.8 515.4,1614.8 516.4,1614.9 517.4,1614.9 518.4,1614.9 519.4,1614.9 520.4,1614.9 521.5,1614.9 522.5,1615 523.5,1615 524.5,1615 525.5,1615 526.5,1615 527.5,1615 528.5,1615.1 529.5,1615.1 530.5,1615.1 531.5,1615.1 532.5,1615.1 533.5,1615.2 534.5,1615.2 535.5,1615.2 536.5,1615.2 537.5,1615.2 538.5,1615.3 539.5,1615.3 540.5,1615.3 541.5,1615.3 542.5,1615.3 543.5,1615.3 544.5,1615.4 545.5,1615.4 546.5,1615.4 547.5,1615.4 548.5,1615.4 549.5,1615.5 550.5,1615.5 551.5,1615.5 552.5,1615.5 553.5,1615.5 554.5,1615.6 555.5,1615.6 556.5,1615.6 557.5,1615.6 558.6,1615.6 559.6,1615.7 560.6,1615.7 561.6,1615.7 562.6,1615.7 563.6,1615.7 564.6,1615.8 565.6,1615.8 566.6,1615.8 567.6,1615.8 568.6,1615.8 569.6,1615.9 570.6,1615.9 571.6,1615.9 572.6,1615.9 573.6,1615.9 574.6,1616 575.6,1616 576.6,1616 577.6,1616 578.6,1616.1 579.6,1616.1 580.6,1616.1 581.6,1616.1 582.6,1616.1" fill="none" stroke="#ffbdbd" stroke-width="4" stroke-linejoin="round"/>
<polyline points="131.4,1564.9 132.4,1565 133.4,1565 134.4,1565.1 135.4,1565.2 136.4,1565.3 137.4,1565.4 138.4,1565.5 139.4,1565.6 140.4,1565.7 141.4,1565.8 142.4,1565.8 143.4,1566 144.4,1566.1 145.4,1566.2 146.4,1566.4 147.4,1566.6 148.4,1566.8 149.4,1567 150.5,1567.2 151.5,1567.4 152.5,1567.7 153.5,1567.9 154.5,1568.2 155.5,1568.5 156.5,1568.9 157.5,1569.4 158.5,1569.9 159.5,1570.5 160.5,1571.1 161.5,1571.8 162.5,1572.7 163.5,1573.7 164.5,1574.8 165.5,1575.9 166.5,1577.1 167.5,1578.6 168.5,1580.1 169.5,1581.6 170.5,1583 171.5,1584.1 172.5,1584.9 173.5,1585.7 174.5,1586.4 175.5,1587.1 176.5,1587.5 177.5,1587.8 178.5,1587.9 179.5,1587.8 180.5,1587.7 181.5,1587.5 182.5,1587.3 183.5,1587.1 184.5,1586.9 185.5,1586.6 186.5,1586.4 187.6,1586.1 188.6,1585.7 189.6,1585.3 190.6,1584.9 191.6,1584.5 192.6,1584 193.6,1583.5 194.6,1583 195.6,1582.5 196.6,1581.9 197.6,1581.5 198.6,1580.9 199.6,1580.4 200.6,1579.9 201.6,1579.4 202.6,1578.9 203.6,1578.4 204.6,1577.9 205.6,1577.4 206.6,1576.8 207.6,1576.4 208.6,1575.9 209.6,1575.4 210.6,1574.9 211.6,1574.4 212.6,1574 213.6,1573.6 214.6,1573.1 215.6,1572.7 216.6,1572.4 217.6,1572 218.6,1571.6 219.6,1571.3 220.6,1570.9 221.6,1570.6 222.6,1570.3 223.6,1570 224.7,1569.7 225.7,1569.5 226.7,1569.2 227.7,1569 228.7,1568.7 229.7,1568.5 230.7,1568.3 231.7,1568.2 232.7,1568 233.7,1567.9 234.7,1567.7 235.7,1567.6 236.7,1567.5 237.7,1567.3 238.7,1567.2 239.7,1567.1 240.7,1567 241.7,1566.9 242.7,1566.8 243.7,1566.7 244.7,1566.6 245.7,1566.5 246.7,1566.5 247.7,1566.4 248.7,1566.3 249.7,1566.3 250.7,1566.2 251.7,1566.1 252.7,1566.1 253.7,1566 254.7,1566 255.7,1565.9 256.7,1565.8 257.7,1565.8 258.7,1565.7 259.7,1565.6 260.7,1565.5 261.8,1565.5 262.8,1565.4 263.8,1565.3 264.8,1565.3 265.8,1565.3 266.8,1565.3 267.8,1565.3 268.8,1565.4 269.8,1565.5 270.8,1565.7 271.8,1565.9 272.8,1566.1 273.8,1566.4 274.8,1566.7 275.8,1567.1 276.8,1567.4 277.8,1567.8 278.8,1568.2 279.8,1568.7 280.8,1569.1 281.8,1569.6 282.8,1570.2 283.8,1570.8 284.8,1571.5 285.8,1572.3 286.8,1573.1 287.8,1573.9 288.8,1574.7 289.8,1575.5 290.8,1576.3 291.8,1577.1 292.8,1577.9 293.8,1578.8 294.8,1579.6 295.8,1580.5 296.8,1581.4 297.8,1582.2 298.9,1583.1 299.9,1583.9 300.9,1584.8 301.9,1585.6 302.9,1586.4 303.9,1587.2 304.9,1588 305.9,1588.8 306.9,1589.6 307.9,1590.3 308.9,1591.1 309.9,1591.8 310.9,1592.6 311.9,1593.3 312.9,1593.9 313.9,1594.6 314.9,1595.2 315.9,1595.7 316.9,1596.3 317.9,1596.8 318.9,1597.3 319.9,1597.8 320.9,1598.3 321.9,1598.7 322.9,1599.1 323.9,1599.5 324.9,1599.8 325.9,1600.2 326.9,1600.5 327.9,1600.8 328.9,1601 329.9,1601.3 330.9,1601.6 331.9,1601.8 332.9,1602 333.9,1602.2 334.9,1602.4 336,1602.6 337,1602.8 338,1603 339,1603.2 340,1603.4 341,1603.6 342,1603.7 343,1603.9 344,1604 345,1604.2 346,1604.3 347,1604.5 348,1604.6 349,1604.8 350,1604.9 351,1605 352,1605.1 353,1605.3 354,1605.4 355,1605.5 356,1605.6 357,1605.7 358,1605.9 359,1606 360,1606.1 361,1606.2 362,1606.3 363,1606.4 364,1606.5 365,1606.6 366,1606.7 367,1606.8 368,1606.9 369,1607 370,1607.1 371,1607.2 372,1607.3 373.1,1607.4 374.1,1607.4 375.1,1607.5 376.1,1607.6 377.1,1607.7 378.1,1607.7 379.1,1607.8 380.1,1607.9 381.1,1608 382.1,1608 383.1,1608.1 384.1,1608.1 385.1,1608.2 386.1,1608.3 387.1,1608.3 388.1,1608.4 389.1,1608.5 390.1,1608.5 391.1,1608.6 392.1,1608.6 393.1,1608.7 394.1,1608.8 395.1,1608.8 396.1,1608.9 397.1,1609 398.1,1609 399.1,1609.1 400.1,1609.1 401.1,1609.2 402.1,1609.3 403.1,1609.3 404.1,1609.4 405.1,1609.4 406.1,1609.5 407.1,1609.5 408.1,1609.6 409.1,1609.6 410.2,1609.7 411.2,1609.7 412.2,1609.8 413.2,1609.8 414.2,1609.9 415.2,1609.9 416.2,1610 417.2,1610 418.2,1610.1 419.2,1610.1 420.2,1610.1 421.2,1610.2 422.2,1610.2 423.2,1610.3 424.2,1610.3 425.2,1610.3 426.2,1610.4 427.2,1610.4 428.2,1610.5 429.2,1610.5 430.2,1610.5 431.2,1610.6 432.2,1610.6 433.2,1610.6 434.2,1610.7 435.2,1610.7 436.2,1610.7 437.2,1610.7 438.2,1610.8 439.2,1610.8 440.2,1610.8 441.2,1610.9 442.2,1610.9 443.2,1610.9 444.2,1611 445.2,1611 446.2,1611 447.3,1611 448.3,1611.1 449.3,1611.1 450.3,1611.1 451.3,1611.1 452.3,1611.2 453.3,1611.2 454.3,1611.2 455.3,1611.2 456.3,1611.3 457.3,1611.3 458.3,1611.3 459.3,1611.3 460.3,1611.4 461.3,1611.4 462.3,1611.4 463.3,1611.4 464.3,1611.4 465.3,1611.5 466.3,1611.5 467.3,1611.5 468.3,1611.5 469.3,1611.6 470.3,1611.6 471.3,1611.6 472.3,1611.6 473.3,1611.6 474.3,1611.7 475.3,1611.7 476.3,1611.7 477.3,1611.7 478.3,1611.8 479.3,1611.8 480.3,1611.8 481.3,1611.8 482.3,1611.9 483.3,1611.9 484.4,1611.9 485.4,1611.9 486.4,1612 487.4,1612 488.4,1612 489.4,1612 490.4,1612.1 491.4,1612.1 492.4,1612.1 493.4,1612.2 494.4,1612.2 495.4,1612.3 496.4,1612.3 497.4,1612.3 498.4,1612.4 499.4,1612.4 500.4,1612.5 501.4,1612.5 502.4,1612.6 503.4,1612.6 504.4,1612.7 505.4,1612.7 506.4,1612.8 507.4,1612.8 508.4,1612.9 509.4,1612.9 510.4,1613 511.4,1613 512.4,1613.1 513.4,1613.1 514.4,1613.2 515.4,1613.2 516.4,1613.3 517.4,1613.3 518.4,1613.4 519.4,1613.5 520.4,1613.5 521.5,1613.6 522.5,1613.6 523.5,1613.7 524.5,1613.7 525.5,1613.8 526.5,1613.8 527.5,1613.9 528.5,1613.9 529.5,1614 530.5,1614 531.5,1614.1 532.5,1614.1 533.5,1614.2 534.5,1614.2 535.5,1614.2 536.5,1614.3 537.5,1614.3 538.5,1614.4 539.5,1614.4 540.5,1614.4 541.5,1614.5 542.5,1614.5 543.5,1614.6 544.5,1614.6 545.5,1614.6 546.5,1614.7 547.5,1614.7 548.5,1614.7 549.5,1614.8 550.5,1614.8 551.5,1614.8 552.5,1614.9 553.5,1614.9 554.5,1614.9 555.5,1614.9 556.5,1615 557.5,1615 558.6,1615 559.6,1615 560.6,1615.1 561.6,1615.1 562.6,1615.1 563.6,1615.1 564.6,1615.2 565.6,1615.2 566.6,1615.2 567.6,1615.2 568.6,1615.3 569.6,1615.3 570.6,1615.3 571.6,1615.3 572.6,1615.4 573.6,1615.4 574.6,1615.4 575.6,1615.4 576.6,1615.5 577.6,1615.5 578.6,1615.5 579.6,1615.5 580.6,1615.5 581.6,1615.6 582.6,1615.6" fill="none" stroke="#ff9f9f" stroke-width="4" stroke-linejoin="round"/>
<polyline points="131.4,1553.8 132.4,1553.9 133.4,1554 134.4,1554.1 135.4,1554.2 136.4,1554.2 137.4,1554.3 138.4,1554.4 139.4,1554.5 140.4,1554.6 141.4,1554.7 142.4,1554.8 143.4,1554.9 144.4,1555.1 145.4,1555.2 146.4,1555.4 147.4,1555.6 148.4,1555.8 149.4,1556.1 150.5,1556.3 151.5,1556.5 152.5,1556.8 153.5,1557.1 154.5,1557.4 155.5,1557.7 156.5,1558.2 157.5,1558.7 158.5,1559.2 159.5,1559.8 160.5,1560.4 161.5,1561.1 162.5,1562 163.5,1563 164.5,1564.1 165.5,1565.2 166.5,1566.4 167.5,1567.8 168.5,1569.2 169.5,1570.7 170.5,1572 171.5,1573 172.5,1573.8 173.5,1574.6 174.5,1575.3 175.5,1575.9 176.5,1576.3 177.5,1576.6 178.5,1576.5 179.5,1576.4 180.5,1576.2 181.5,1575.9 182.5,1575.5 183.5,1575.1 184.5,1574.7 185.5,1574.3 186.5,1573.8 187.6,1573.3 188.6,1572.7 189.6,1572.1 190.6,1571.5 191.6,1570.8 192.6,1570 193.6,1569.2 194.6,1568.4 195.6,1567.6 196.6,1566.8 197.6,1565.9 198.6,1565.1 199.6,1564.3 200.6,1563.4 201.6,1562.6 202.6,1561.7 203.6,1560.9 204.6,1560 205.6,1559.1 206.6,1558.3 207.6,1557.4 208.6,1556.6 209.6,1555.8 210.6,1555 211.6,1554.2 212.6,1553.4 213.6,1552.6 214.6,1551.9 215.6,1551.2 216.6,1550.5 217.6,1549.8 218.6,1549.2 219.6,1548.6 220.6,1548 221.6,1547.4 222.6,1546.9 223.6,1546.4 224.7,1545.9 225.7,1545.4 226.7,1545 227.7,1544.6 228.7,1544.2 229.7,1543.9 230.7,1543.5 231.7,1543.3 232.7,1543 233.7,1542.7 234.7,1542.5 235.7,1542.3 236.7,1542 237.7,1541.8 238.7,1541.6 239.7,1541.5 240.7,1541.3 241.7,1541.1 242.7,1541 243.7,1540.9 244.7,1540.7 245.7,1540.6 246.7,1540.5 247.7,1540.4 248.7,1540.2 249.7,1540.1 250.7,1540 251.7,1539.9 252.7,1539.8 253.7,1539.6 254.7,1539.5 255.7,1539.3 256.7,1539.2 257.7,1539.1 258.7,1538.9 259.7,1538.8 260.7,1538.6 261.8,1538.5 262.8,1538.3 263.8,1538.2 264.8,1538.1 265.8,1538.1 266.8,1538.1 267.8,1538.1 268.8,1538.2 269.8,1538.4 270.8,1538.6 271.8,1538.9 272.8,1539.2 273.8,1539.7 274.8,1540.1 275.8,1540.6 276.8,1541.1 277.8,1541.7 278.8,1542.3 279.8,1543 280.8,1543.7 281.8,1544.5 282.8,1545.3 283.8,1546.3 284.8,1547.3 285.8,1548.5 286.8,1549.7 287.8,1550.9 288.8,1552.2 289.8,1553.4 290.8,1554.6 291.8,1555.9 292.8,1557.1 293.8,1558.4 294.8,1559.7 295.8,1561 296.8,1562.3 297.8,1563.7 298.9,1565 299.9,1566.3 300.9,1567.6 301.9,1568.8 302.9,1570.1 303.9,1571.4 304.9,1572.6 305.9,1573.8 306.9,1575 307.9,1576.2 308.9,1577.3 309.9,1578.5 310.9,1579.6 311.9,1580.7 312.9,1581.7 313.9,1582.7 314.9,1583.7 315.9,1584.6 316.9,1585.5 317.9,1586.4 318.9,1587.2 319.9,1588 320.9,1588.8 321.9,1589.4 322.9,1590.1 323.9,1590.7 324.9,1591.3 325.9,1591.8 326.9,1592.3 327.9,1592.7 328.9,1593.2 329.9,1593.6 330.9,1594 331.9,1594.3 332.9,1594.7 333.9,1595 334.9,1595.3 336,1595.6 337,1595.9 338,1596.2 339,1596.5 340,1596.8 341,1597 342,1597.3 343,1597.5 344,1597.8 345,1598 346,1598.2 347,1598.4 348,1598.6 349,1598.8 350,1599 351,1599.2 352,1599.4 353,1599.6 354,1599.8 355,1600 356,1600.2 357,1600.3 358,1600.5 359,1600.7 360,1600.8 361,1601 362,1601.2 363,1601.3 364,1601.5 365,1601.7 366,1601.8 367,1602 368,1602.1 369,1602.3 370,1602.4 371,1602.6 372,1602.7 373.1,1602.9 374.1,1603 375.1,1603.1 376.1,1603.2 377.1,1603.4 378.1,1603.5 379.1,1603.6 380.1,1603.7 381.1,1603.8 382.1,1603.9 383.1,1604 384.1,1604.1 385.1,1604.2 386.1,1604.2 387.1,1604.3 388.1,1604.4 389.1,1604.5 390.1,1604.6 391.1,1604.7 392.1,1604.8 393.1,1604.9 394.1,1605 395.1,1605.1 396.1,1605.2 397.1,1605.3 398.1,1605.4 399.1,1605.5 400.1,1605.6 401.1,1605.7 402.1,1605.7 403.1,1605.8 404.1,1605.9 405.1,1606 406.1,1606.1 407.1,1606.2 408.1,1606.2 409.1,1606.3 410.2,1606.4 411.2,1606.5 412.2,1606.5 413.2,1606.6 414.2,1606.7 415.2,1606.7 416.2,1606.8 417.2,1606.9 418.2,1607 419.2,1607 420.2,1607.1 421.2,1607.1 422.2,1607.2 423.2,1607.2 424.2,1607.3 425.2,1607.3 426.2,1607.4 427.2,1607.4 428.2,1607.5 429.2,1607.5 430.2,1607.6 431.2,1607.6 432.2,1607.7 433.2,1607.7 434.2,1607.8 435.2,1607.8 436.2,1607.9 437.2,1607.9 438.2,1607.9 439.2,1608 440.2,1608 441.2,1608 442.2,1608.1 443.2,1608.1 444.2,1608.1 445.2,1608.2 446.2,1608.2 447.3,1608.2 448.3,1608.3 449.3,1608.3 450.3,1608.3 451.3,1608.4 452.3,1608.4 453.3,1608.4 454.3,1608.5 455.3,1608.5 456.3,1608.5 457.3,1608.5 458.3,1608.6 459.3,1608.6 460.3,1608.6 461.3,1608.7 462.3,1608.7 463.3,1608.7 464.3,1608.7 465.3,1608.8 466.3,1608.8 467.3,1608.8 468.3,1608.8 469.3,1608.9 470.3,1608.9 471.3,1608.9 472.3,1608.9 473.3,1609 474.3,1609 475.3,1609 476.3,1609 477.3,1609.1 478.3,1609.1 479.3,1609.1 480.3,1609.2 481.3,1609.2 482.3,1609.2 483.3,1609.2 484.4,1609.3 485.4,1609.3 486.4,1609.3 487.4,1609.4 488.4,1609.4 489.4,1609.5 490.4,1609.5 491.4,1609.6 492.4,1609.6 493.4,1609.7 494.4,1609.7 495.4,1609.8 496.4,1609.9 497.4,1610 498.4,1610 499.4,1610.1 500.4,1610.2 501.4,1610.3 502.4,1610.4 503.4,1610.4 504.4,1610.5 505.4,1610.6 506.4,1610.7 507.4,1610.8 508.4,1610.9 509.4,1611 510.4,1611.1 511.4,1611.2 512.4,1611.3 513.4,1611.3 514.4,1611.4 515.4,1611.5 516.4,1611.6 517.4,1611.7 518.4,1611.8 519.4,1611.9 520.4,1612 521.5,1612.1 522.5,1612.2 523.5,1612.2 524.5,1612.3 525.5,1612.4 526.5,1612.5 527.5,1612.6 528.5,1612.7 529.5,1612.7 530.5,1612.8 531.5,1612.9 532.5,1613 533.5,1613.1 534.5,1613.1 535.5,1613.2 536.5,1613.3 537.5,1613.3 538.5,1613.4 539.5,1613.5 540.5,1613.5 541.5,1613.6 542.5,1613.6 543.5,1613.7 544.5,1613.7 545.5,1613.8 546.5,1613.9 547.5,1613.9 548.5,1614 549.5,1614 550.5,1614 551.5,1614.1 552.5,1614.1 553.5,1614.2 554.5,1614.2 555.5,1614.2 556.5,1614.3 557.5,1614.3 558.6,1614.3 559.6,1614.4 560.6,1614.4 561.6,1614.4 562.6,1614.5 563.6,1614.5 564.6,1614.5 565.6,1614.6 566.6,1614.6 567.6,1614.6 568.6,1614.6 569.6,1614.7 570.6,1614.7 571.6,1614.7 572.6,1614.8 573.6,1614.8 574.6,1614.8 575.6,1614.8 576.6,1614.9 577.6,1614.9 578.6,1614.9 579.6,1614.9 580.6,1614.9 581.6,1615 582.6,1615" fill="none" stroke="#ff8585" stroke-width="4" stroke-linejoin="round"/>
<polyline points="131.4,1543.2 132.4,1543.3 133.4,1543.4 134.4,1543.5 135.4,1543.6 136.4,1543.7 137.4,1543.8 138.4,1543.9 139.4,1544 140.4,1544.1 141.4,1544.2 142.4,1544.3 143.4,1544.5 144.4,1544.6 145.4,1544.8 146.4,1545 147.4,1545.2 148.4,1545.5 149.4,1545.7 150.5,1546 151.5,1546.3 152.5,1546.6 153.5,1546.9 154.5,1547.2 155.5,1547.6 156.5,1548.1 157.5,1548.7 158.5,1549.2 159.5,1549.9 160.5,1550.5 161.5,1551.3 162.5,1552.2 163.5,1553.2 164.5,1554.2 165.5,1555.3 166.5,1556.5 167.5,1557.8 168.5,1559.2 169.5,1560.6 170.5,1561.9 171.5,1562.9 172.5,1563.7 173.5,1564.4 174.5,1565.1 175.5,1565.7 176.5,1566.1 177.5,1566.3 178.5,1566.2 179.5,1566 180.5,1565.7 181.5,1565.3 182.5,1564.8 183.5,1564.2 184.5,1563.7 185.5,1563 186.5,1562.4 187.6,1561.7 188.6,1560.9 189.6,1560.1 190.6,1559.2 191.6,1558.3 192.6,1557.3 193.6,1556.2 194.6,1555.1 195.6,1554 196.6,1552.9 197.6,1551.8 198.6,1550.6 199.6,1549.5 200.6,1548.4 201.6,1547.2 202.6,1546 203.6,1544.9 204.6,1543.7 205.6,1542.5 206.6,1541.3 207.6,1540.2 208.6,1539 209.6,1537.9 210.6,1536.7 211.6,1535.6 212.6,1534.5 213.6,1533.5 214.6,1532.4 215.6,1531.5 216.6,1530.5 217.6,1529.6 218.6,1528.7 219.6,1527.8 220.6,1527 221.6,1526.2 222.6,1525.5 223.6,1524.8 224.7,1524.2 225.7,1523.5 226.7,1522.9 227.7,1522.4 228.7,1521.8 229.7,1521.3 230.7,1520.9 231.7,1520.5 232.7,1520.1 233.7,1519.8 234.7,1519.4 235.7,1519.1 236.7,1518.8 237.7,1518.6 238.7,1518.3 239.7,1518.1 240.7,1517.8 241.7,1517.6 242.7,1517.4 243.7,1517.3 244.7,1517.1 245.7,1516.9 246.7,1516.8 247.7,1516.6 248.7,1516.4 249.7,1516.3 250.7,1516.1 251.7,1515.9 252.7,1515.7 253.7,1515.5 254.7,1515.3 255.7,1515.1 256.7,1514.9 257.7,1514.7 258.7,1514.5 259.7,1514.3 260.7,1514.1 261.8,1513.8 262.8,1513.6 263.8,1513.4 264.8,1513.3 265.8,1513.2 266.8,1513.2 267.8,1513.3 268.8,1513.4 269.8,1513.6 270.8,1513.9 271.8,1514.2 272.8,1514.7 273.8,1515.2 274.8,1515.8 275.8,1516.4 276.8,1517.1 277.8,1517.8 278.8,1518.7 279.8,1519.5 280.8,1520.5 281.8,1521.5 282.8,1522.6 283.8,1523.8 284.8,1525.2 285.8,1526.7 286.8,1528.3 287.8,1529.9 288.8,1531.6 289.8,1533.2 290.8,1534.8 291.8,1536.5 292.8,1538.1 293.8,1539.8 294.8,1541.5 295.8,1543.2 296.8,1545 297.8,1546.7 298.9,1548.4 299.9,1550.1 300.9,1551.8 301.9,1553.5 302.9,1555.2 303.9,1556.9 304.9,1558.5 305.9,1560.1 306.9,1561.7 307.9,1563.3 308.9,1564.8 309.9,1566.3 310.9,1567.8 311.9,1569.2 312.9,1570.6 313.9,1571.9 314.9,1573.2 315.9,1574.5 316.9,1575.7 317.9,1576.9 318.9,1578 319.9,1579.1 320.9,1580.1 321.9,1581 322.9,1581.9 323.9,1582.7 324.9,1583.4 325.9,1584.1 326.9,1584.8 327.9,1585.4 328.9,1586 329.9,1586.5 330.9,1587.1 331.9,1587.5 332.9,1588 333.9,1588.4 334.9,1588.8 336,1589.2 337,1589.6 338,1590 339,1590.4 340,1590.7 341,1591.1 342,1591.4 343,1591.7 344,1592 345,1592.3 346,1592.6 347,1592.9 348,1593.2 349,1593.5 350,1593.7 351,1594 352,1594.2 353,1594.5 354,1594.7 355,1594.9 356,1595.2 357,1595.4 358,1595.6 359,1595.9 360,1596.1 361,1596.3 362,1596.5 363,1596.7 364,1597 365,1597.2 366,1597.4 367,1597.6 368,1597.8 369,1598 370,1598.2 371,1598.4 372,1598.6 373.1,1598.8 374.1,1598.9 375.1,1599.1 376.1,1599.3 377.1,1599.4 378.1,1599.6 379.1,1599.7 380.1,1599.8 381.1,1600 382.1,1600.1 383.1,1600.2 384.1,1600.3 385.1,1600.5 386.1,1600.6 387.1,1600.7 388.1,1600.8 389.1,1600.9 390.1,1601.1 391.1,1601.2 392.1,1601.3 393.1,1601.4 394.1,1601.6 395.1,1601.7 396.1,1601.8 397.1,1601.9 398.1,1602.1 399.1,1602.2 400.1,1602.3 401.1,1602.4 402.1,1602.5 403.1,1602.7 404.1,1602.8 405.1,1602.9 406.1,1603 407.1,1603.1 408.1,1603.2 409.1,1603.3 410.2,1603.4 411.2,1603.5 412.2,1603.6 413.2,1603.7 414.2,1603.8 415.2,1603.9 416.2,1603.9 417.2,1604 418.2,1604.1 419.2,1604.2 420.2,1604.3 421.2,1604.3 422.2,1604.4 423.2,1604.5 424.2,1604.5 425.2,1604.6 426.2,1604.7 427.2,1604.7 428.2,1604.8 429.2,1604.9 430.2,1604.9 431.2,1605 432.2,1605 433.2,1605.1 434.2,1605.1 435.2,1605.2 436.2,1605.2 437.2,1605.3 438.2,1605.3 439.2,1605.4 440.2,1605.4 441.2,1605.5 442.2,1605.5 443.2,1605.6 444.2,1605.6 445.2,1605.6 446.2,1605.7 447.3,1605.7 448.3,1605.7 449.3,1605.8 450.3,1605.8 451.3,1605.8 452.3,1605.9 453.3,1605.9 454.3,1605.9 455.3,1606 456.3,1606 457.3,1606 458.3,1606.1 459.3,1606.1 460.3,1606.1 461.3,1606.2 462.3,1606.2 463.3,1606.2 464.3,1606.3 465.3,1606.3 466.3,1606.3 467.3,1606.3 468.3,1606.4 469.3,1606.4 470.3,1606.4 471.3,1606.5 472.3,1606.5 473.3,1606.5 474.3,1606.5 475.3,1606.6 476.3,1606.6 477.3,1606.6 478.3,1606.7 479.3,1606.7 480.3,1606.7 481.3,1606.8 482.3,1606.8 483.3,1606.8 484.4,1606.9 485.4,1606.9 486.4,1607 487.4,1607 488.4,1607.1 489.4,1607.1 490.4,1607.2 491.4,1607.2 492.4,1607.3 493.4,1607.4 494.4,1607.5 495.4,1607.6 496.4,1607.7 497.4,1607.8 498.4,1607.9 499.4,1608 500.4,1608.1 501.4,1608.2 502.4,1608.3 503.4,1608.5 504.4,1608.6 505.4,1608.7 506.4,1608.8 507.4,1609 508.4,1609.1 509.4,1609.2 510.4,1609.3 511.4,1609.5 512.4,1609.6 513.4,1609.7 514.4,1609.8 515.4,1610 516.4,1610.1 517.4,1610.2 518.4,1610.3 519.4,1610.5 520.4,1610.6 521.5,1610.7 522.5,1610.8 523.5,1610.9 524.5,1611.1 525.5,1611.2 526.5,1611.3 527.5,1611.4 528.5,1611.5 529.5,1611.6 530.5,1611.8 531.5,1611.9 532.5,1612 533.5,1612.1 534.5,1612.2 535.5,1612.3 536.5,1612.4 537.5,1612.4 538.5,1612.5 539.5,1612.6 540.5,1612.7 541.5,1612.8 542.5,1612.8 543.5,1612.9 544.5,1613 545.5,1613.1 546.5,1613.1 547.5,1613.2 548.5,1613.2 549.5,1613.3 550.5,1613.4 551.5,1613.4 552.5,1613.5 553.5,1613.5 554.5,1613.6 555.5,1613.6 556.5,1613.6 557.5,1613.7 558.6,1613.7 559.6,1613.8 560.6,1613.8 561.6,1613.8 562.6,1613.9 563.6,1613.9 564.6,1613.9 565.6,1614 566.6,1614 567.6,1614 568.6,1614.1 569.6,1614.1 570.6,1614.1 571.6,1614.2 572.6,1614.2 573.6,1614.2 574.6,1614.3 575.6,1614.3 576.6,1614.3 577.6,1614.3 578.6,1614.4 579.6,1614.4 580.6,1614.4 581.6,1614.4 582.6,1614.4" fill="none" stroke="#ff6d6d" stroke-width="4" stroke-linejoin="round"/>
<polyline points="131.4,1526.6 132.4,1526.8 133.4,1527.1 134.4,1527.3 135.4,1527.5 136.4,1527.8 137.4,1528 138.4,1528.3 139.4,1528.5 140.4,1528.8 141.4,1529 142.4,1529.3 143.4,1529.6 144.4,1529.9 145.4,1530.2 146.4,1530.6 147.4,1530.9 148.4,1531.3 149.4,1531.8 150.5,1532.2 151.5,1532.6 152.5,1533.1 153.5,1533.6 154.5,1534.1 155.5,1534.6 156.5,1535.3 157.5,1536 158.5,1536.7 159.5,1537.5 160.5,1538.4 161.5,1539.3 162.5,1540.3 163.5,1541.4 164.5,1542.6 165.5,1543.7 166.5,1545 167.5,1546.4 168.5,1547.9 169.5,1549.4 170.5,1550.7 171.5,1551.8 172.5,1552.5 173.5,1553.3 174.5,1554 175.5,1554.5 176.5,1554.9 177.5,1555 178.5,1554.9 179.5,1554.6 180.5,1554.2 181.5,1553.6 182.5,1553 183.5,1552.2 184.5,1551.5 185.5,1550.7 186.5,1549.8 187.6,1548.9 188.6,1547.9 189.6,1546.9 190.6,1545.7 191.6,1544.6 192.6,1543.3 193.6,1542 194.6,1540.6 195.6,1539.2 196.6,1537.7 197.6,1536.3 198.6,1534.8 199.6,1533.4 200.6,1531.9 201.6,1530.4 202.6,1528.9 203.6,1527.3 204.6,1525.8 205.6,1524.3 206.6,1522.8 207.6,1521.3 208.6,1519.8 209.6,1518.3 210.6,1516.8 211.6,1515.3 212.6,1513.9 213.6,1512.5 214.6,1511.1 215.6,1509.9 216.6,1508.6 217.6,1507.4 218.6,1506.3 219.6,1505.1 220.6,1504.1 221.6,1503 222.6,1502.1 223.6,1501.2 224.7,1500.3 225.7,1499.5 226.7,1498.7 227.7,1498 228.7,1497.3 229.7,1496.7 230.7,1496.1 231.7,1495.6 232.7,1495.1 233.7,1494.6 234.7,1494.2 235.7,1493.8 236.7,1493.4 237.7,1493.1 238.7,1492.8 239.7,1492.4 240.7,1492.2 241.7,1491.9 242.7,1491.7 243.7,1491.4 244.7,1491.2 245.7,1491 246.7,1490.8 247.7,1490.6 248.7,1490.3 249.7,1490.1 250.7,1489.9 251.7,1489.6 252.7,1489.4 253.7,1489.1 254.7,1488.8 255.7,1488.6 256.7,1488.3 257.7,1488 258.7,1487.8 259.7,1487.5 260.7,1487.1 261.8,1486.8 262.8,1486.5 263.8,1486.3 264.8,1486.1 265.8,1486 266.8,1486 267.8,1486.1 268.8,1486.3 269.8,1486.5 270.8,1486.8 271.8,1487.2 272.8,1487.8 273.8,1488.5 274.8,1489.1 275.8,1489.9 276.8,1490.8 277.8,1491.7 278.8,1492.8 279.8,1493.9 280.8,1495.1 281.8,1496.3 282.8,1497.7 283.8,1499.3 284.8,1501 285.8,1502.9 286.8,1504.9 287.8,1507 288.8,1509.1 289.8,1511.1 290.8,1513.2 291.8,1515.2 292.8,1517.3 293.8,1519.4 294.8,1521.6 295.8,1523.8 296.8,1526 297.8,1528.1 298.9,1530.3 299.9,1532.4 300.9,1534.6 301.9,1536.8 302.9,1538.9 303.9,1541 304.9,1543.1 305.9,1545.1 306.9,1547.1 307.9,1549.1 308.9,1551 309.9,1553 310.9,1554.8 311.9,1556.7 312.9,1558.4 313.9,1560.1 314.9,1561.8 315.9,1563.4 316.9,1564.9 317.9,1566.5 318.9,1567.9 319.9,1569.3 320.9,1570.6 321.9,1571.8 322.9,1572.9 323.9,1573.9 324.9,1574.9 325.9,1575.8 326.9,1576.6 327.9,1577.4 328.9,1578.1 329.9,1578.8 330.9,1579.5 331.9,1580.1 332.9,1580.6 333.9,1581.2 334.9,1581.7 336,1582.2 337,1582.7 338,1583.2 339,1583.7 340,1584.1 341,1584.5 342,1584.9 343,1585.4 344,1585.7 345,1586.1 346,1586.5 347,1586.9 348,1587.2 349,1587.5 350,1587.9 351,1588.2 352,1588.5 353,1588.8 354,1589.1 355,1589.4 356,1589.7 357,1590 358,1590.3 359,1590.6 360,1590.9 361,1591.1 362,1591.4 363,1591.7 364,1592 365,1592.3 366,1592.5 367,1592.8 368,1593.1 369,1593.3 370,1593.6 371,1593.8 372,1594.1 373.1,1594.3 374.1,1594.5 375.1,1594.7 376.1,1594.9 377.1,1595.1 378.1,1595.3 379.1,1595.4 380.1,1595.6 381.1,1595.8 382.1,1595.9 383.1,1596.1 384.1,1596.2 385.1,1596.4 386.1,1596.5 387.1,1596.7 388.1,1596.9 389.1,1597 390.1,1597.2 391.1,1597.3 392.1,1597.5 393.1,1597.6 394.1,1597.8 395.1,1598 396.1,1598.1 397.1,1598.3 398.1,1598.4 399.1,1598.6 400.1,1598.7 401.1,1598.9 402.1,1599 403.1,1599.2 404.1,1599.3 405.1,1599.4 406.1,1599.6 407.1,1599.7 408.1,1599.8 409.1,1600 410.2,1600.1 411.2,1600.2 412.2,1600.3 413.2,1600.4 414.2,1600.6 415.2,1600.7 416.2,1600.8 417.2,1600.9 418.2,1601 419.2,1601.1 420.2,1601.2 421.2,1601.3 422.2,1601.4 423.2,1601.5 424.2,1601.5 425.2,1601.6 426.2,1601.7 427.2,1601.8 428.2,1601.9 429.2,1601.9 430.2,1602 431.2,1602.1 432.2,1602.1 433.2,1602.2 434.2,1602.3 435.2,1602.3 436.2,1602.4 437.2,1602.4 438.2,1602.5 439.2,1602.5 440.2,1602.6 441.2,1602.6 442.2,1602.7 443.2,1602.7 444.2,1602.8 445.2,1602.8 446.2,1602.9 447.3,1602.9 448.3,1603 449.3,1603 450.3,1603 451.3,1603.1 452.3,1603.1 453.3,1603.2 454.3,1603.2 455.3,1603.2 456.3,1603.3 457.3,1603.3 458.3,1603.3 459.3,1603.4 460.3,1603.4 461.3,1603.4 462.3,1603.5 463.3,1603.5 464.3,1603.5 465.3,1603.6 466.3,1603.6 467.3,1603.6 468.3,1603.7 469.3,1603.7 470.3,1603.7 471.3,1603.8 472.3,1603.8 473.3,1603.8 474.3,1603.9 475.3,1603.9 476.3,1603.9 477.3,1604 478.3,1604 479.3,1604.1 480.3,1604.1 481.3,1604.1 482.3,1604.2 483.3,1604.2 484.4,1604.3 485.4,1604.3 486.4,1604.4 487.4,1604.4 488.4,1604.5 489.4,1604.5 490.4,1604.6 491.4,1604.7 492.4,1604.8 493.4,1604.9 494.4,1605 495.4,1605.2 496.4,1605.3 497.4,1605.4 498.4,1605.6 499.4,1605.7 500.4,1605.8 501.4,1606 502.4,1606.1 503.4,1606.3 504.4,1606.4 505.4,1606.6 506.4,1606.8 507.4,1606.9 508.4,1607.1 509.4,1607.3 510.4,1607.4 511.4,1607.6 512.4,1607.8 513.4,1607.9 514.4,1608.1 515.4,1608.2 516.4,1608.4 517.4,1608.6 518.4,1608.7 519.4,1608.9 520.4,1609.1 521.5,1609.2 522.5,1609.4 523.5,1609.5 524.5,1609.7 525.5,1609.8 526.5,1610 527.5,1610.1 528.5,1610.3 529.5,1610.4 530.5,1610.6 531.5,1610.7 532.5,1610.9 533.5,1611 534.5,1611.1 535.5,1611.2 536.5,1611.4 537.5,1611.5 538.5,1611.6 539.5,1611.7 540.5,1611.8 541.5,1611.9 542.5,1612 543.5,1612.1 544.5,1612.1 545.5,1612.2 546.5,1612.3 547.5,1612.4 548.5,1612.5 549.5,1612.5 550.5,1612.6 551.5,1612.7 552.5,1612.7 553.5,1612.8 554.5,1612.8 555.5,1612.9 556.5,1612.9 557.5,1613 558.6,1613 559.6,1613.1 560.6,1613.1 561.6,1613.2 562.6,1613.2 563.6,1613.3 564.6,1613.3 565.6,1613.3 566.6,1613.4 567.6,1613.4 568.6,1613.5 569.6,1613.5 570.6,1613.5 571.6,1613.6 572.6,1613.6 573.6,1613.6 574.6,1613.7 575.6,1613.7 576.6,1613.7 577.6,1613.7 578.6,1613.8 579.6,1613.8 580.6,1613.8 581.6,1613.8 582.6,1613.8" fill="none" stroke="#ff5757" stroke-width="4" stroke-linejoin="round"/>
<polyline points="131.4,1522.7 132.4,1522.6 133.4,1522.6 134.4,1522.5 135.4,1522.5 136.4,1522.4 137.4,1522.4 138.4,1522.4 139.4,1522.3 140.4,1522.3 141.4,1522.3 142.4,1522.3 143.4,1522.3 144.4,1522.3 145.4,1522.4 146.4,1522.5 147.4,1522.6 148.4,1522.8 149.4,1522.9 150.5,1523.1 151.5,1523.3 152.5,1523.5 153.5,1523.8 154.5,1524 155.5,1524.3 156.5,1524.7 157.5,1525.2 158.5,1525.7 159.5,1526.3 160.5,1526.9 161.5,1527.5 162.5,1528.3 163.5,1529.1 164.5,1529.9 165.5,1530.8 166.5,1531.7 167.5,1532.8 168.5,1533.9 169.5,1535 170.5,1535.9 171.5,1536.6 172.5,1537.4 173.5,1538.1 174.5,1538.8 175.5,1539.3 176.5,1539.7 177.5,1539.7 178.5,1539.4 179.5,1539 180.5,1538.5 181.5,1537.7 182.5,1536.9 183.5,1535.9 184.5,1535 185.5,1533.9 186.5,1532.8 187.6,1531.5 188.6,1530.3 189.6,1528.9 190.6,1527.4 191.6,1525.9 192.6,1524.3 193.6,1522.6 194.6,1520.8 195.6,1518.9 196.6,1517 197.6,1515.1 198.6,1513.2 199.6,1511.3 200.6,1509.4 201.6,1507.5 202.6,1505.5 203.6,1503.5 204.6,1501.5 205.6,1499.5 206.6,1497.5 207.6,1495.5 208.6,1493.6 209.6,1491.6 210.6,1489.6 211.6,1487.7 212.6,1485.8 213.6,1483.9 214.6,1482.1 215.6,1480.5 216.6,1478.9 217.6,1477.3 218.6,1475.7 219.6,1474.2 220.6,1472.8 221.6,1471.4 222.6,1470.2 223.6,1469 224.7,1467.9 225.7,1466.8 226.7,1465.8 227.7,1464.8 228.7,1463.9 229.7,1463.1 230.7,1462.3 231.7,1461.6 232.7,1461 233.7,1460.4 234.7,1459.8 235.7,1459.3 236.7,1458.8 237.7,1458.4 238.7,1457.9 239.7,1457.5 240.7,1457.2 241.7,1456.8 242.7,1456.5 243.7,1456.2 244.7,1455.9 245.7,1455.6 246.7,1455.4 247.7,1455.1 248.7,1454.8 249.7,1454.5 250.7,1454.2 251.7,1453.8 252.7,1453.5 253.7,1453.1 254.7,1452.8 255.7,1452.4 256.7,1452 257.7,1451.7 258.7,1451.3 259.7,1450.9 260.7,1450.5 261.8,1450 262.8,1449.6 263.8,1449.3 264.8,1449 265.8,1449 266.8,1449 267.8,1449.1 268.8,1449.3 269.8,1449.5 270.8,1449.9 271.8,1450.5 272.8,1451.2 273.8,1452 274.8,1452.9 275.8,1453.8 276.8,1454.9 277.8,1456.1 278.8,1457.5 279.8,1458.9 280.8,1460.4 281.8,1462 282.8,1463.8 283.8,1465.8 284.8,1468 285.8,1470.5 286.8,1473 287.8,1475.7 288.8,1478.4 289.8,1481 290.8,1483.6 291.8,1486.3 292.8,1489 293.8,1491.7 294.8,1494.5 295.8,1497.3 296.8,1500.1 297.8,1502.8 298.9,1505.6 299.9,1508.4 300.9,1511.2 301.9,1513.9 302.9,1516.7 303.9,1519.4 304.9,1522.1 305.9,1524.7 306.9,1527.2 307.9,1529.8 308.9,1532.3 309.9,1534.8 310.9,1537.2 311.9,1539.5 312.9,1541.8 313.9,1544 314.9,1546.1 315.9,1548.2 316.9,1550.3 317.9,1552.2 318.9,1554.1 319.9,1555.9 320.9,1557.6 321.9,1559.2 322.9,1560.6 323.9,1562 324.9,1563.2 325.9,1564.4 326.9,1565.4 327.9,1566.5 328.9,1567.4 329.9,1568.3 330.9,1569.1 331.9,1569.9 332.9,1570.6 333.9,1571.3 334.9,1572 336,1572.7 337,1573.3 338,1573.9 339,1574.5 340,1575.1 341,1575.6 342,1576.2 343,1576.7 344,1577.2 345,1577.7 346,1578.2 347,1578.6 348,1579.1 349,1579.5 350,1579.9 351,1580.3 352,1580.7 353,1581.1 354,1581.5 355,1581.9 356,1582.3 357,1582.7 358,1583 359,1583.4 360,1583.7 361,1584.1 362,1584.5 363,1584.8 364,1585.2 365,1585.5 366,1585.9 367,1586.3 368,1586.6 369,1586.9 370,1587.3 371,1587.6 372,1587.9 373.1,1588.2 374.1,1588.4 375.1,1588.7 376.1,1589 377.1,1589.2 378.1,1589.4 379.1,1589.7 380.1,1589.9 381.1,1590.1 382.1,1590.3 383.1,1590.5 384.1,1590.7 385.1,1590.9 386.1,1591.1 387.1,1591.3 388.1,1591.5 389.1,1591.7 390.1,1591.9 391.1,1592.1 392.1,1592.3 393.1,1592.5 394.1,1592.7 395.1,1592.9 396.1,1593.1 397.1,1593.3 398.1,1593.5 399.1,1593.7 400.1,1593.9 401.1,1594.1 402.1,1594.3 403.1,1594.4 404.1,1594.6 405.1,1594.8 406.1,1594.9 407.1,1595.1 408.1,1595.3 409.1,1595.4 410.2,1595.6 411.2,1595.8 412.2,1595.9 413.2,1596.1 414.2,1596.2 415.2,1596.4 416.2,1596.5 417.2,1596.6 418.2,1596.8 419.2,1596.9 420.2,1597 421.2,1597.1 422.2,1597.2 423.2,1597.3 424.2,1597.4 425.2,1597.5 426.2,1597.6 427.2,1597.7 428.2,1597.8 429.2,1597.9 430.2,1598 431.2,1598.1 432.2,1598.2 433.2,1598.3 434.2,1598.3 435.2,1598.4 436.2,1598.5 437.2,1598.5 438.2,1598.6 439.2,1598.7 440.2,1598.7 441.2,1598.8 442.2,1598.9 443.2,1598.9 444.2,1599 445.2,1599 446.2,1599.1 447.3,1599.1 448.3,1599.2 449.3,1599.2 450.3,1599.3 451.3,1599.3 452.3,1599.4 453.3,1599.4 454.3,1599.5 455.3,1599.5 456.3,1599.5 457.3,1599.6 458.3,1599.6 459.3,1599.7 460.3,1599.7 461.3,1599.7 462.3,1599.8 463.3,1599.8 464.3,1599.8 465.3,1599.9 466.3,1599.9 467.3,1600 468.3,1600 469.3,1600 470.3,1600.1 471.3,1600.1 472.3,1600.1 473.3,1600.2 474.3,1600.2 475.3,1600.3 476.3,1600.3 477.3,1600.4 478.3,1600.4 479.3,1600.4 480.3,1600.5 481.3,1600.5 482.3,1600.6 483.3,1600.6 484.4,1600.7 485.4,1600.8 486.4,1600.8 487.4,1600.9 488.4,1601 489.4,1601 490.4,1601.1 491.4,1601.2 492.4,1601.4 493.4,1601.5 494.4,1601.7 495.4,1601.8 496.4,1602 497.4,1602.2 498.4,1602.4 499.4,1602.5 500.4,1602.7 501.4,1602.9 502.4,1603.1 503.4,1603.3 504.4,1603.5 505.4,1603.7 506.4,1604 507.4,1604.2 508.4,1604.4 509.4,1604.6 510.4,1604.8 511.4,1605 512.4,1605.3 513.4,1605.5 514.4,1605.7 515.4,1605.9 516.4,1606.1 517.4,1606.3 518.4,1606.6 519.4,1606.8 520.4,1607 521.5,1607.2 522.5,1607.4 523.5,1607.6 524.5,1607.8 525.5,1608 526.5,1608.2 527.5,1608.4 528.5,1608.6 529.5,1608.8 530.5,1609 531.5,1609.2 532.5,1609.3 533.5,1609.5 534.5,1609.7 535.5,1609.8 536.5,1610 537.5,1610.1 538.5,1610.3 539.5,1610.4 540.5,1610.5 541.5,1610.6 542.5,1610.8 543.5,1610.9 544.5,1611 545.5,1611.1 546.5,1611.2 547.5,1611.3 548.5,1611.4 549.5,1611.5 550.5,1611.6 551.5,1611.7 552.5,1611.8 553.5,1611.8 554.5,1611.9 555.5,1611.9 556.5,1612 557.5,1612.1 558.6,1612.1 559.6,1612.2 560.6,1612.2 561.6,1612.3 562.6,1612.3 563.6,1612.4 564.6,1612.4 565.6,1612.5 566.6,1612.5 567.6,1612.6 568.6,1612.6 569.6,1612.6 570.6,1612.7 571.6,1612.7 572.6,1612.8 573.6,1612.8 574.6,1612.8 575.6,1612.9 576.6,1612.9 577.6,1612.9 578.6,1612.9 579.6,1613 580.6,1613 581.6,1613 582.6,1613" fill="none" stroke="#ff3333" stroke-width="4" stroke-linejoin="round"/>
<polyline points="131.4,1509.7 132.4,1509.8 133.4,1509.9 134.4,1510 135.4,1510.2 136.4,1510.3 137.4,1510.4 138.4,1510.6 139.4,1510.7 140.4,1510.9 141.4,1511.1 142.4,1511.2 143.4,1511.4 144.4,1511.6 145.4,1511.9 146.4,1512.2 147.4,1512.5 148.4,1512.8 149.4,1513.2 150.5,1513.5 151.5,1513.9 152.5,1514.3 153.5,1514.7 154.5,1515.2 155.5,1515.7 156.5,1516.3 157.5,1517 158.5,1517.7 159.5,1518.4 160.5,1519.2 161.5,1520.1 162.5,1521 163.5,1522 164.5,1523 165.5,1524 166.5,1525.1 167.5,1526.3 168.5,1527.6 169.5,1528.8 170.5,1529.8 171.5,1530.7 172.5,1531.4 173.5,1532.2 174.5,1532.8 175.5,1533.4 176.5,1533.7 177.5,1533.6 178.5,1533.3 179.5,1532.9 180.5,1532.3 181.5,1531.5 182.5,1530.5 183.5,1529.5 184.5,1528.5 185.5,1527.3 186.5,1526 187.6,1524.7 188.6,1523.3 189.6,1521.8 190.6,1520.2 191.6,1518.6 192.6,1516.8 193.6,1514.9 194.6,1513 195.6,1511 196.6,1508.9 197.6,1506.8 198.6,1504.7 199.6,1502.7 200.6,1500.6 201.6,1498.4 202.6,1496.3 203.6,1494.1 204.6,1491.9 205.6,1489.7 206.6,1487.5 207.6,1485.4 208.6,1483.2 209.6,1481.1 210.6,1478.9 211.6,1476.8 212.6,1474.7 213.6,1472.7 214.6,1470.7 215.6,1468.9 216.6,1467.1 217.6,1465.4 218.6,1463.7 219.6,1462.1 220.6,1460.5 221.6,1459 222.6,1457.6 223.6,1456.3 224.7,1455.1 225.7,1453.9 226.7,1452.8 227.7,1451.7 228.7,1450.7 229.7,1449.8 230.7,1449 231.7,1448.3 232.7,1447.6 233.7,1446.9 234.7,1446.3 235.7,1445.7 236.7,1445.2 237.7,1444.7 238.7,1444.2 239.7,1443.8 240.7,1443.4 241.7,1443 242.7,1442.7 243.7,1442.3 244.7,1442 245.7,1441.7 246.7,1441.4 247.7,1441.1 248.7,1440.8 249.7,1440.5 250.7,1440.1 251.7,1439.8 252.7,1439.4 253.7,1439 254.7,1438.6 255.7,1438.2 256.7,1437.7 257.7,1437.3 258.7,1437 259.7,1436.5 260.7,1436 261.8,1435.6 262.8,1435.1 263.8,1434.7 264.8,1434.5 265.8,1434.4 266.8,1434.4 267.8,1434.5 268.8,1434.7 269.8,1435 270.8,1435.4 271.8,1436 272.8,1436.8 273.8,1437.7 274.8,1438.6 275.8,1439.6 276.8,1440.8 277.8,1442.1 278.8,1443.6 279.8,1445.1 280.8,1446.8 281.8,1448.5 282.8,1450.4 283.8,1452.6 284.8,1455 285.8,1457.7 286.8,1460.5 287.8,1463.4 288.8,1466.3 289.8,1469.2 290.8,1472 291.8,1474.9 292.8,1477.8 293.8,1480.8 294.8,1483.8 295.8,1486.8 296.8,1489.9 297.8,1492.9 298.9,1495.9 299.9,1498.9 300.9,1501.9 301.9,1504.9 302.9,1507.9 303.9,1510.9 304.9,1513.8 305.9,1516.6 306.9,1519.4 307.9,1522.2 308.9,1524.9 309.9,1527.6 310.9,1530.2 311.9,1532.8 312.9,1535.3 313.9,1537.7 314.9,1540 315.9,1542.3 316.9,1544.5 317.9,1546.7 318.9,1548.7 319.9,1550.7 320.9,1552.5 321.9,1554.2 322.9,1555.8 323.9,1557.3 324.9,1558.6 325.9,1559.9 326.9,1561.1 327.9,1562.2 328.9,1563.2 329.9,1564.2 330.9,1565.1 331.9,1565.9 332.9,1566.7 333.9,1567.5 334.9,1568.2 336,1568.9 337,1569.6 338,1570.3 339,1570.9 340,1571.5 341,1572.1 342,1572.7 343,1573.3 344,1573.8 345,1574.4 346,1574.9 347,1575.4 348,1575.9 349,1576.3 350,1576.8 351,1577.2 352,1577.7 353,1578.1 354,1578.5 355,1578.9 356,1579.4 357,1579.8 358,1580.2 359,1580.6 360,1580.9 361,1581.3 362,1581.7 363,1582.1 364,1582.5 365,1582.9 366,1583.3 367,1583.7 368,1584 369,1584.4 370,1584.8 371,1585.1 372,1585.4 373.1,1585.8 374.1,1586.1 375.1,1586.4 376.1,1586.6 377.1,1586.9 378.1,1587.1 379.1,1587.4 380.1,1587.6 381.1,1587.8 382.1,1588.1 383.1,1588.3 384.1,1588.5 385.1,1588.7 386.1,1588.9 387.1,1589.1 388.1,1589.3 389.1,1589.5 390.1,1589.8 391.1,1590 392.1,1590.2 393.1,1590.4 394.1,1590.6 395.1,1590.9 396.1,1591.1 397.1,1591.3 398.1,1591.5 399.1,1591.7 400.1,1592 401.1,1592.2 402.1,1592.4 403.1,1592.6 404.1,1592.8 405.1,1592.9 406.1,1593.1 407.1,1593.3 408.1,1593.5 409.1,1593.7 410.2,1593.8 411.2,1594 412.2,1594.2 413.2,1594.3 414.2,1594.5 415.2,1594.7 416.2,1594.8 417.2,1595 418.2,1595.1 419.2,1595.2 420.2,1595.4 421.2,1595.5 422.2,1595.6 423.2,1595.7 424.2,1595.8 425.2,1595.9 426.2,1596 427.2,1596.1 428.2,1596.2 429.2,1596.3 430.2,1596.4 431.2,1596.5 432.2,1596.6 433.2,1596.7 434.2,1596.8 435.2,1596.9 436.2,1596.9 437.2,1597 438.2,1597.1 439.2,1597.2 440.2,1597.2 441.2,1597.3 442.2,1597.4 443.2,1597.4 444.2,1597.5 445.2,1597.5 446.2,1597.6 447.3,1597.6 448.3,1597.7 449.3,1597.7 450.3,1597.8 451.3,1597.8 452.3,1597.9 453.3,1597.9 454.3,1598 455.3,1598 456.3,1598.1 457.3,1598.1 458.3,1598.2 459.3,1598.2 460.3,1598.2 461.3,1598.3 462.3,1598.3 463.3,1598.4 464.3,1598.4 465.3,1598.4 466.3,1598.5 467.3,1598.5 468.3,1598.5 469.3,1598.6 470.3,1598.6 471.3,1598.7 472.3,1598.7 473.3,1598.7 474.3,1598.8 475.3,1598.8 476.3,1598.9 477.3,1598.9 478.3,1599 479.3,1599 480.3,1599.1 481.3,1599.1 482.3,1599.2 483.3,1599.2 484.4,1599.3 485.4,1599.4 486.4,1599.4 487.4,1599.5 488.4,1599.6 489.4,1599.7 490.4,1599.8 491.4,1599.9 492.4,1600 493.4,1600.2 494.4,1600.3 495.4,1600.5 496.4,1600.7 497.4,1600.9 498.4,1601.1 499.4,1601.3 500.4,1601.5 501.4,1601.7 502.4,1601.9 503.4,1602.2 504.4,1602.4 505.4,1602.6 506.4,1602.9 507.4,1603.1 508.4,1603.3 509.4,1603.6 510.4,1603.8 511.4,1604 512.4,1604.3 513.4,1604.5 514.4,1604.7 515.4,1605 516.4,1605.2 517.4,1605.5 518.4,1605.7 519.4,1605.9 520.4,1606.2 521.5,1606.4 522.5,1606.6 523.5,1606.8 524.5,1607 525.5,1607.3 526.5,1607.5 527.5,1607.7 528.5,1607.9 529.5,1608.1 530.5,1608.3 531.5,1608.5 532.5,1608.7 533.5,1608.9 534.5,1609.1 535.5,1609.3 536.5,1609.4 537.5,1609.6 538.5,1609.7 539.5,1609.9 540.5,1610 541.5,1610.2 542.5,1610.3 543.5,1610.4 544.5,1610.5 545.5,1610.7 546.5,1610.8 547.5,1610.9 548.5,1611 549.5,1611.1 550.5,1611.2 551.5,1611.3 552.5,1611.4 553.5,1611.4 554.5,1611.5 555.5,1611.6 556.5,1611.6 557.5,1611.7 558.6,1611.7 559.6,1611.8 560.6,1611.9 561.6,1611.9 562.6,1612 563.6,1612 564.6,1612.1 565.6,1612.1 566.6,1612.2 567.6,1612.2 568.6,1612.3 569.6,1612.3 570.6,1612.4 571.6,1612.4 572.6,1612.4 573.6,1612.5 574.6,1612.5 575.6,1612.5 576.6,1612.6 577.6,1612.6 578.6,1612.6 579.6,1612.6 580.6,1612.7 581.6,1612.7 582.6,1612.7" fill="none" stroke="#ff1a1a" stroke-width="4" stroke-linejoin="round"/>
<polyline points="131.4,1505.7 132.4,1505.7 133.4,1505.7 134.4,1505.7 135.4,1505.7 136.4,1505.7 137.4,1505.8 138.4,1505.8 139.4,1505.8 140.4,1505.8 141.4,1505.9 142.4,1505.9 143.4,1506 144.4,1506.1 145.4,1506.3 146.4,1506.4 147.4,1506.6 148.4,1506.9 149.4,1507.1 150.5,1507.4 151.5,1507.6 152.5,1507.9 153.5,1508.3 154.5,1508.6 155.5,1509 156.5,1509.5 157.5,1510.1 158.5,1510.7 159.5,1511.4 160.5,1512 161.5,1512.8 162.5,1513.6 163.5,1514.4 164.5,1515.3 165.5,1516.2 166.5,1517.1 167.5,1518.2 168.5,1519.2 169.5,1520.3 170.5,1521.1 171.5,1521.8 172.5,1522.6 173.5,1523.3 174.5,1524 175.5,1524.5 176.5,1524.7 177.5,1524.7 178.5,1524.3 179.5,1523.8 180.5,1523.1 181.5,1522.2 182.5,1521.1 183.5,1520 184.5,1518.8 185.5,1517.5 186.5,1516 187.6,1514.5 188.6,1513 189.6,1511.3 190.6,1509.5 191.6,1507.6 192.6,1505.7 193.6,1503.6 194.6,1501.4 195.6,1499.1 196.6,1496.8 197.6,1494.5 198.6,1492.1 199.6,1489.8 200.6,1487.4 201.6,1485 202.6,1482.6 203.6,1480.1 204.6,1477.6 205.6,1475.2 206.6,1472.7 207.6,1470.3 208.6,1467.9 209.6,1465.5 210.6,1463 211.6,1460.6 212.6,1458.3 213.6,1456 214.6,1453.8 215.6,1451.7 216.6,1449.7 217.6,1447.7 218.6,1445.8 219.6,1444 220.6,1442.2 221.6,1440.5 222.6,1439 223.6,1437.5 224.7,1436.1 225.7,1434.8 226.7,1433.5 227.7,1432.3 228.7,1431.2 229.7,1430.2 230.7,1429.2 231.7,1428.4 232.7,1427.6 233.7,1426.9 234.7,1426.2 235.7,1425.6 236.7,1425 237.7,1424.4 238.7,1423.9 239.7,1423.4 240.7,1422.9 241.7,1422.5 242.7,1422.1 243.7,1421.7 244.7,1421.4 245.7,1421 246.7,1420.7 247.7,1420.4 248.7,1420 249.7,1419.6 250.7,1419.2 251.7,1418.8 252.7,1418.4 253.7,1417.9 254.7,1417.5 255.7,1417 256.7,1416.5 257.7,1416.1 258.7,1415.6 259.7,1415.1 260.7,1414.6 261.8,1414 262.8,1413.5 263.8,1413.1 264.8,1412.8 265.8,1412.7 266.8,1412.7 267.8,1412.9 268.8,1413.1 269.8,1413.3 270.8,1413.8 271.8,1414.5 272.8,1415.3 273.8,1416.3 274.8,1417.4 275.8,1418.5 276.8,1419.8 277.8,1421.3 278.8,1422.9 279.8,1424.7 280.8,1426.5 281.8,1428.5 282.8,1430.6 283.8,1433 284.8,1435.7 285.8,1438.7 286.8,1441.8 287.8,1445.1 288.8,1448.3 289.8,1451.6 290.8,1454.7 291.8,1457.9 292.8,1461.2 293.8,1464.5 294.8,1467.9 295.8,1471.3 296.8,1474.7 297.8,1478.1 298.9,1481.4 299.9,1484.8 300.9,1488.2 301.9,1491.6 302.9,1494.9 303.9,1498.2 304.9,1501.5 305.9,1504.7 306.9,1507.8 307.9,1510.9 308.9,1514 309.9,1517 310.9,1519.9 311.9,1522.8 312.9,1525.6 313.9,1528.2 314.9,1530.8 315.9,1533.4 316.9,1535.9 317.9,1538.3 318.9,1540.7 319.9,1542.9 320.9,1545 321.9,1546.9 322.9,1548.6 323.9,1550.3 324.9,1551.8 325.9,1553.2 326.9,1554.5 327.9,1555.8 328.9,1556.9 329.9,1558 330.9,1559 331.9,1560 332.9,1560.8 333.9,1561.7 334.9,1562.5 336,1563.3 337,1564.1 338,1564.8 339,1565.6 340,1566.3 341,1566.9 342,1567.6 343,1568.2 344,1568.8 345,1569.4 346,1570 347,1570.5 348,1571.1 349,1571.6 350,1572.1 351,1572.6 352,1573.1 353,1573.6 354,1574.1 355,1574.5 356,1575 357,1575.5 358,1575.9 359,1576.3 360,1576.8 361,1577.2 362,1577.7 363,1578.1 364,1578.6 365,1579 366,1579.4 367,1579.8 368,1580.3 369,1580.7 370,1581.1 371,1581.5 372,1581.8 373.1,1582.2 374.1,1582.5 375.1,1582.8 376.1,1583.2 377.1,1583.4 378.1,1583.7 379.1,1584 380.1,1584.3 381.1,1584.5 382.1,1584.8 383.1,1585 384.1,1585.2 385.1,1585.5 386.1,1585.7 387.1,1585.9 388.1,1586.2 389.1,1586.4 390.1,1586.7 391.1,1586.9 392.1,1587.1 393.1,1587.4 394.1,1587.6 395.1,1587.9 396.1,1588.1 397.1,1588.4 398.1,1588.6 399.1,1588.9 400.1,1589.1 401.1,1589.3 402.1,1589.6 403.1,1589.8 404.1,1590 405.1,1590.2 406.1,1590.4 407.1,1590.6 408.1,1590.8 409.1,1591 410.2,1591.2 411.2,1591.4 412.2,1591.6 413.2,1591.8 414.2,1592 415.2,1592.1 416.2,1592.3 417.2,1592.5 418.2,1592.6 419.2,1592.8 420.2,1592.9 421.2,1593.1 422.2,1593.2 423.2,1593.3 424.2,1593.4 425.2,1593.6 426.2,1593.7 427.2,1593.8 428.2,1593.9 429.2,1594 430.2,1594.1 431.2,1594.2 432.2,1594.3 433.2,1594.4 434.2,1594.5 435.2,1594.6 436.2,1594.7 437.2,1594.7 438.2,1594.8 439.2,1594.9 440.2,1595 441.2,1595 442.2,1595.1 443.2,1595.2 444.2,1595.2 445.2,1595.3 446.2,1595.4 447.3,1595.4 448.3,1595.5 449.3,1595.5 450.3,1595.6 451.3,1595.6 452.3,1595.7 453.3,1595.7 454.3,1595.8 455.3,1595.8 456.3,1595.9 457.3,1595.9 458.3,1596 459.3,1596 460.3,1596.1 461.3,1596.1 462.3,1596.2 463.3,1596.2 464.3,1596.2 465.3,1596.3 466.3,1596.3 467.3,1596.3 468.3,1596.4 469.3,1596.4 470.3,1596.5 471.3,1596.5 472.3,1596.6 473.3,1596.6 474.3,1596.6 475.3,1596.7 476.3,1596.8 477.3,1596.8 478.3,1596.9 479.3,1596.9 480.3,1597 481.3,1597 482.3,1597.1 483.3,1597.1 484.4,1597.2 485.4,1597.3 486.4,1597.3 487.4,1597.4 488.4,1597.5 489.4,1597.6 490.4,1597.7 491.4,1597.9 492.4,1598 493.4,1598.2 494.4,1598.4 495.4,1598.6 496.4,1598.8 497.4,1599 498.4,1599.2 499.4,1599.5 500.4,1599.7 501.4,1599.9 502.4,1600.2 503.4,1600.4 504.4,1600.7 505.4,1600.9 506.4,1601.2 507.4,1601.5 508.4,1601.8 509.4,1602 510.4,1602.3 511.4,1602.6 512.4,1602.8 513.4,1603.1 514.4,1603.4 515.4,1603.6 516.4,1603.9 517.4,1604.2 518.4,1604.4 519.4,1604.7 520.4,1604.9 521.5,1605.2 522.5,1605.5 523.5,1605.7 524.5,1605.9 525.5,1606.2 526.5,1606.4 527.5,1606.7 528.5,1606.9 529.5,1607.2 530.5,1607.4 531.5,1607.6 532.5,1607.8 533.5,1608.1 534.5,1608.3 535.5,1608.5 536.5,1608.6 537.5,1608.8 538.5,1609 539.5,1609.1 540.5,1609.3 541.5,1609.4 542.5,1609.6 543.5,1609.7 544.5,1609.9 545.5,1610 546.5,1610.1 547.5,1610.3 548.5,1610.4 549.5,1610.5 550.5,1610.6 551.5,1610.7 552.5,1610.8 553.5,1610.9 554.5,1610.9 555.5,1611 556.5,1611.1 557.5,1611.1 558.6,1611.2 559.6,1611.3 560.6,1611.3 561.6,1611.4 562.6,1611.4 563.6,1611.5 564.6,1611.6 565.6,1611.6 566.6,1611.7 567.6,1611.7 568.6,1611.8 569.6,1611.8 570.6,1611.9 571.6,1611.9 572.6,1612 573.6,1612 574.6,1612 575.6,1612.1 576.6,1612.1 577.6,1612.1 578.6,1612.1 579.6,1612.2 580.6,1612.2 581.6,1612.2 582.6,1612.2" fill="none" stroke="#f20000" stroke-width="4" stroke-linejoin="round"/>
<polyline points="131.4,1474.6 132.4,1474.7 133.4,1474.9 134.4,1475.1 135.4,1475.3 136.4,1475.4 137.4,1475.7 138.4,1475.9 139.4,1476.1 140.4,1476.3 141.4,1476.5 142.4,1476.8 143.4,1477 144.4,1477.4 145.4,1477.7 146.4,1478.1 147.4,1478.5 148.4,1478.9 149.4,1479.4 150.5,1479.8 151.5,1480.4 152.5,1480.9 153.5,1481.4 154.5,1482 155.5,1482.7 156.5,1483.4 157.5,1484.2 158.5,1485.1 159.5,1486 160.5,1486.9 161.5,1487.8 162.5,1488.8 163.5,1489.8 164.5,1490.8 165.5,1491.8 166.5,1492.8 167.5,1493.9 168.5,1495 169.5,1496.1 170.5,1497 171.5,1497.7 172.5,1498.4 173.5,1499.1 174.5,1499.7 175.5,1500.2 176.5,1500.4 177.5,1500.2 178.5,1499.7 179.5,1499 180.5,1498.1 181.5,1496.9 182.5,1495.5 183.5,1493.9 184.5,1492.4 185.5,1490.7 186.5,1488.8 187.6,1486.8 188.6,1484.7 189.6,1482.6 190.6,1480.3 191.6,1477.9 192.6,1475.3 193.6,1472.6 194.6,1469.7 195.6,1466.8 196.6,1463.8 197.6,1460.8 198.6,1457.7 199.6,1454.6 200.6,1451.6 201.6,1448.4 202.6,1445.2 203.6,1442 204.6,1438.8 205.6,1435.6 206.6,1432.4 207.6,1429.2 208.6,1426.1 209.6,1422.9 210.6,1419.7 211.6,1416.5 212.6,1413.4 213.6,1410.4 214.6,1407.5 215.6,1404.8 216.6,1402.1 217.6,1399.6 218.6,1397 219.6,1394.6 220.6,1392.3 221.6,1390.1 222.6,1388.1 223.6,1386.2 224.7,1384.3 225.7,1382.6 226.7,1380.9 227.7,1379.4 228.7,1377.9 229.7,1376.5 230.7,1375.3 231.7,1374.2 232.7,1373.2 233.7,1372.2 234.7,1371.3 235.7,1370.5 236.7,1369.7 237.7,1369 238.7,1368.3 239.7,1367.7 240.7,1367.1 241.7,1366.5 242.7,1366 243.7,1365.6 244.7,1365.1 245.7,1364.7 246.7,1364.2 247.7,1363.8 248.7,1363.3 249.7,1362.8 250.7,1362.3 251.7,1361.7 252.7,1361.1 253.7,1360.5 254.7,1359.9 255.7,1359.3 256.7,1358.7 257.7,1358.1 258.7,1357.5 259.7,1356.8 260.7,1356.1 261.8,1355.3 262.8,1354.7 263.8,1354.1 264.8,1353.7 265.8,1353.5 266.8,1353.6 267.8,1353.8 268.8,1354 269.8,1354.4 270.8,1354.9 271.8,1355.8 272.8,1356.9 273.8,1358.1 274.8,1359.5 275.8,1360.9 276.8,1362.6 277.8,1364.5 278.8,1366.6 279.8,1368.8 280.8,1371.2 281.8,1373.8 282.8,1376.5 283.8,1379.6 284.8,1383.1 285.8,1386.9 286.8,1391 287.8,1395.1 288.8,1399.4 289.8,1403.5 290.8,1407.6 291.8,1411.7 292.8,1416 293.8,1420.3 294.8,1424.6 295.8,1429 296.8,1433.4 297.8,1437.7 298.9,1442 299.9,1446.4 300.9,1450.7 301.9,1455.1 302.9,1459.5 303.9,1463.8 304.9,1468 305.9,1472.1 306.9,1476.1 307.9,1480.1 308.9,1484.1 309.9,1488 310.9,1491.8 311.9,1495.5 312.9,1499.1 313.9,1502.5 314.9,1505.9 315.9,1509.2 316.9,1512.5 317.9,1515.7 318.9,1518.7 319.9,1521.6 320.9,1524.3 321.9,1526.8 322.9,1529.1 323.9,1531.2 324.9,1533.2 325.9,1535 326.9,1536.7 327.9,1538.3 328.9,1539.8 329.9,1541.2 330.9,1542.5 331.9,1543.7 332.9,1544.9 333.9,1546 334.9,1547.1 336,1548.1 337,1549.1 338,1550.1 339,1551 340,1551.9 341,1552.7 342,1553.6 343,1554.4 344,1555.2 345,1555.9 346,1556.7 347,1557.4 348,1558.1 349,1558.8 350,1559.4 351,1560.1 352,1560.7 353,1561.3 354,1561.9 355,1562.5 356,1563.1 357,1563.7 358,1564.3 359,1564.9 360,1565.4 361,1566 362,1566.6 363,1567.2 364,1567.7 365,1568.3 366,1568.8 367,1569.4 368,1569.9 369,1570.5 370,1571 371,1571.5 372,1572 373.1,1572.4 374.1,1572.9 375.1,1573.3 376.1,1573.7 377.1,1574.1 378.1,1574.4 379.1,1574.8 380.1,1575.1 381.1,1575.4 382.1,1575.7 383.1,1576 384.1,1576.3 385.1,1576.7 386.1,1577 387.1,1577.3 388.1,1577.6 389.1,1577.9 390.1,1578.2 391.1,1578.5 392.1,1578.8 393.1,1579.1 394.1,1579.5 395.1,1579.8 396.1,1580.1 397.1,1580.4 398.1,1580.7 399.1,1581 400.1,1581.4 401.1,1581.7 402.1,1581.9 403.1,1582.2 404.1,1582.5 405.1,1582.8 406.1,1583 407.1,1583.3 408.1,1583.5 409.1,1583.8 410.2,1584.1 411.2,1584.3 412.2,1584.5 413.2,1584.8 414.2,1585 415.2,1585.2 416.2,1585.5 417.2,1585.7 418.2,1585.9 419.2,1586.1 420.2,1586.2 421.2,1586.4 422.2,1586.6 423.2,1586.7 424.2,1586.9 425.2,1587 426.2,1587.2 427.2,1587.3 428.2,1587.5 429.2,1587.6 430.2,1587.7 431.2,1587.9 432.2,1588 433.2,1588.1 434.2,1588.2 435.2,1588.3 436.2,1588.4 437.2,1588.5 438.2,1588.6 439.2,1588.7 440.2,1588.8 441.2,1588.9 442.2,1589 443.2,1589.1 444.2,1589.1 445.2,1589.2 446.2,1589.3 447.3,1589.4 448.3,1589.4 449.3,1589.5 450.3,1589.6 451.3,1589.6 452.3,1589.7 453.3,1589.8 454.3,1589.8 455.3,1589.9 456.3,1589.9 457.3,1590 458.3,1590 459.3,1590.1 460.3,1590.1 461.3,1590.2 462.3,1590.2 463.3,1590.3 464.3,1590.3 465.3,1590.4 466.3,1590.4 467.3,1590.5 468.3,1590.5 469.3,1590.6 470.3,1590.6 471.3,1590.7 472.3,1590.7 473.3,1590.8 474.3,1590.8 475.3,1590.9 476.3,1591 477.3,1591 478.3,1591.1 479.3,1591.1 480.3,1591.2 481.3,1591.3 482.3,1591.3 483.3,1591.4 484.4,1591.5 485.4,1591.6 486.4,1591.7 487.4,1591.8 488.4,1591.9 489.4,1592 490.4,1592.2 491.4,1592.3 492.4,1592.5 493.4,1592.8 494.4,1593 495.4,1593.3 496.4,1593.6 497.4,1593.9 498.4,1594.1 499.4,1594.4 500.4,1594.7 501.4,1595 502.4,1595.3 503.4,1595.7 504.4,1596 505.4,1596.4 506.4,1596.7 507.4,1597.1 508.4,1597.5 509.4,1597.8 510.4,1598.1 511.4,1598.5 512.4,1598.8 513.4,1599.2 514.4,1599.5 515.4,1599.9 516.4,1600.2 517.4,1600.6 518.4,1600.9 519.4,1601.3 520.4,1601.6 521.5,1602 522.5,1602.3 523.5,1602.6 524.5,1602.9 525.5,1603.3 526.5,1603.6 527.5,1603.9 528.5,1604.2 529.5,1604.5 530.5,1604.8 531.5,1605.1 532.5,1605.4 533.5,1605.7 534.5,1606 535.5,1606.2 536.5,1606.5 537.5,1606.7 538.5,1606.9 539.5,1607.1 540.5,1607.3 541.5,1607.5 542.5,1607.7 543.5,1607.9 544.5,1608.1 545.5,1608.2 546.5,1608.4 547.5,1608.6 548.5,1608.7 549.5,1608.9 550.5,1609 551.5,1609.1 552.5,1609.2 553.5,1609.3 554.5,1609.4 555.5,1609.5 556.5,1609.6 557.5,1609.6 558.6,1609.7 559.6,1609.8 560.6,1609.9 561.6,1610 562.6,1610 563.6,1610.1 564.6,1610.2 565.6,1610.2 566.6,1610.3 567.6,1610.4 568.6,1610.4 569.6,1610.5 570.6,1610.5 571.6,1610.6 572.6,1610.6 573.6,1610.7 574.6,1610.7 575.6,1610.8 576.6,1610.8 577.6,1610.8 578.6,1610.8 579.6,1610.9 580.6,1610.9 581.6,1610.9 582.6,1610.9" fill="none" stroke="#d40000" stroke-width="4" stroke-linejoin="round"/>
<polyline points="131.4,1463.5 132.4,1463.7 133.4,1463.9 134.4,1464.1 135.4,1464.4 136.4,1464.6 137.4,1464.8 138.4,1465.1 139.4,1465.3 140.4,1465.6 141.4,1465.9 142.4,1466.2 143.4,1466.5 144.4,1466.8 145.4,1467.2 146.4,1467.7 147.4,1468.1 148.4,1468.6 149.4,1469.1 150.5,1469.7 151.5,1470.2 152.5,1470.8 153.5,1471.4 154.5,1472.1 155.5,1472.8 156.5,1473.6 157.5,1474.5 158.5,1475.4 159.5,1476.4 160.5,1477.3 161.5,1478.3 162.5,1479.4 163.5,1480.4 164.5,1481.4 165.5,1482.4 166.5,1483.4 167.5,1484.5 168.5,1485.6 169.5,1486.6 170.5,1487.5 171.5,1488.2 172.5,1488.9 173.5,1489.6 174.5,1490.2 175.5,1490.7 176.5,1490.8 177.5,1490.5 178.5,1490 179.5,1489.2 180.5,1488.3 181.5,1487 182.5,1485.4 183.5,1483.7 184.5,1482 185.5,1480.1 186.5,1478.1 187.6,1475.9 188.6,1473.7 189.6,1471.3 190.6,1468.8 191.6,1466.2 192.6,1463.4 193.6,1460.4 194.6,1457.3 195.6,1454.1 196.6,1450.8 197.6,1447.5 198.6,1444.1 199.6,1440.8 200.6,1437.4 201.6,1434 202.6,1430.5 203.6,1427 204.6,1423.5 205.6,1420 206.6,1416.5 207.6,1413.1 208.6,1409.6 209.6,1406.1 210.6,1402.6 211.6,1399.1 212.6,1395.7 213.6,1392.5 214.6,1389.3 215.6,1386.3 216.6,1383.4 217.6,1380.6 218.6,1377.9 219.6,1375.2 220.6,1372.7 221.6,1370.3 222.6,1368 223.6,1366 224.7,1364 225.7,1362.1 226.7,1360.2 227.7,1358.5 228.7,1356.9 229.7,1355.4 230.7,1354.1 231.7,1352.9 232.7,1351.8 233.7,1350.7 234.7,1349.8 235.7,1348.8 236.7,1348 237.7,1347.2 238.7,1346.5 239.7,1345.8 240.7,1345.1 241.7,1344.5 242.7,1344 243.7,1343.5 244.7,1343 245.7,1342.5 246.7,1342 247.7,1341.5 248.7,1341 249.7,1340.4 250.7,1339.9 251.7,1339.3 252.7,1338.6 253.7,1338 254.7,1337.3 255.7,1336.6 256.7,1335.9 257.7,1335.2 258.7,1334.6 259.7,1333.9 260.7,1333.1 261.8,1332.3 262.8,1331.5 263.8,1330.9 264.8,1330.4 265.8,1330.3 266.8,1330.3 267.8,1330.5 268.8,1330.8 269.8,1331.2 270.8,1331.8 271.8,1332.7 272.8,1333.9 273.8,1335.3 274.8,1336.7 275.8,1338.3 276.8,1340.1 277.8,1342.2 278.8,1344.4 279.8,1346.9 280.8,1349.5 281.8,1352.2 282.8,1355.2 283.8,1358.6 284.8,1362.4 285.8,1366.6 286.8,1371 287.8,1375.5 288.8,1380.1 289.8,1384.6 290.8,1389 291.8,1393.6 292.8,1398.2 293.8,1402.9 294.8,1407.6 295.8,1412.3 296.8,1417.1 297.8,1421.8 298.9,1426.5 299.9,1431.3 300.9,1436 301.9,1440.8 302.9,1445.5 303.9,1450.2 304.9,1454.8 305.9,1459.3 306.9,1463.6 307.9,1468 308.9,1472.3 309.9,1476.5 310.9,1480.7 311.9,1484.7 312.9,1488.6 313.9,1492.4 314.9,1496.1 315.9,1499.7 316.9,1503.3 317.9,1506.8 318.9,1510.1 319.9,1513.2 320.9,1516.2 321.9,1518.9 322.9,1521.4 323.9,1523.7 324.9,1525.9 325.9,1527.9 326.9,1529.7 327.9,1531.5 328.9,1533.1 329.9,1534.6 330.9,1536 331.9,1537.4 332.9,1538.6 333.9,1539.8 334.9,1541 336,1542.1 337,1543.2 338,1544.2 339,1545.2 340,1546.2 341,1547.2 342,1548.1 343,1548.9 344,1549.8 345,1550.6 346,1551.4 347,1552.2 348,1553 349,1553.7 350,1554.4 351,1555.1 352,1555.8 353,1556.5 354,1557.2 355,1557.8 356,1558.5 357,1559.1 358,1559.7 359,1560.4 360,1561 361,1561.6 362,1562.2 363,1562.8 364,1563.5 365,1564.1 366,1564.7 367,1565.3 368,1565.9 369,1566.5 370,1567 371,1567.6 372,1568.1 373.1,1568.6 374.1,1569.1 375.1,1569.5 376.1,1570 377.1,1570.4 378.1,1570.8 379.1,1571.1 380.1,1571.5 381.1,1571.8 382.1,1572.2 383.1,1572.5 384.1,1572.9 385.1,1573.2 386.1,1573.5 387.1,1573.8 388.1,1574.2 389.1,1574.5 390.1,1574.8 391.1,1575.2 392.1,1575.5 393.1,1575.9 394.1,1576.2 395.1,1576.6 396.1,1576.9 397.1,1577.3 398.1,1577.6 399.1,1578 400.1,1578.3 401.1,1578.6 402.1,1578.9 403.1,1579.3 404.1,1579.6 405.1,1579.8 406.1,1580.1 407.1,1580.4 408.1,1580.7 409.1,1581 410.2,1581.2 411.2,1581.5 412.2,1581.8 413.2,1582 414.2,1582.3 415.2,1582.5 416.2,1582.8 417.2,1583 418.2,1583.2 419.2,1583.4 420.2,1583.6 421.2,1583.8 422.2,1584 423.2,1584.2 424.2,1584.3 425.2,1584.5 426.2,1584.6 427.2,1584.8 428.2,1585 429.2,1585.1 430.2,1585.2 431.2,1585.4 432.2,1585.5 433.2,1585.6 434.2,1585.8 435.2,1585.9 436.2,1586 437.2,1586.1 438.2,1586.2 439.2,1586.3 440.2,1586.4 441.2,1586.5 442.2,1586.6 443.2,1586.7 444.2,1586.8 445.2,1586.8 446.2,1586.9 447.3,1587 448.3,1587.1 449.3,1587.1 450.3,1587.2 451.3,1587.3 452.3,1587.3 453.3,1587.4 454.3,1587.5 455.3,1587.5 456.3,1587.6 457.3,1587.6 458.3,1587.7 459.3,1587.8 460.3,1587.8 461.3,1587.9 462.3,1587.9 463.3,1588 464.3,1588 465.3,1588.1 466.3,1588.1 467.3,1588.2 468.3,1588.2 469.3,1588.3 470.3,1588.3 471.3,1588.4 472.3,1588.4 473.3,1588.5 474.3,1588.5 475.3,1588.6 476.3,1588.7 477.3,1588.7 478.3,1588.8 479.3,1588.9 480.3,1588.9 481.3,1589 482.3,1589.1 483.3,1589.2 484.4,1589.3 485.4,1589.4 486.4,1589.5 487.4,1589.6 488.4,1589.7 489.4,1589.8 490.4,1590 491.4,1590.2 492.4,1590.4 493.4,1590.6 494.4,1590.9 495.4,1591.2 496.4,1591.5 497.4,1591.8 498.4,1592.1 499.4,1592.4 500.4,1592.8 501.4,1593.1 502.4,1593.5 503.4,1593.8 504.4,1594.2 505.4,1594.6 506.4,1595 507.4,1595.4 508.4,1595.8 509.4,1596.1 510.4,1596.5 511.4,1596.9 512.4,1597.3 513.4,1597.7 514.4,1598 515.4,1598.4 516.4,1598.8 517.4,1599.2 518.4,1599.6 519.4,1599.9 520.4,1600.3 521.5,1600.7 522.5,1601.1 523.5,1601.4 524.5,1601.8 525.5,1602.1 526.5,1602.4 527.5,1602.8 528.5,1603.1 529.5,1603.5 530.5,1603.8 531.5,1604.1 532.5,1604.5 533.5,1604.8 534.5,1605.1 535.5,1605.3 536.5,1605.6 537.5,1605.8 538.5,1606.1 539.5,1606.3 540.5,1606.5 541.5,1606.7 542.5,1606.9 543.5,1607.1 544.5,1607.3 545.5,1607.5 546.5,1607.7 547.5,1607.9 548.5,1608 549.5,1608.2 550.5,1608.3 551.5,1608.5 552.5,1608.6 553.5,1608.7 554.5,1608.8 555.5,1608.9 556.5,1609 557.5,1609.1 558.6,1609.1 559.6,1609.2 560.6,1609.3 561.6,1609.4 562.6,1609.5 563.6,1609.5 564.6,1609.6 565.6,1609.7 566.6,1609.8 567.6,1609.8 568.6,1609.9 569.6,1609.9 570.6,1610 571.6,1610.1 572.6,1610.1 573.6,1610.2 574.6,1610.2 575.6,1610.2 576.6,1610.3 577.6,1610.3 578.6,1610.3 579.6,1610.4 580.6,1610.4 581.6,1610.4 582.6,1610.4" fill="none" stroke="#bb0000" stroke-width="4" stroke-linejoin="round"/>
<polyline points="131.4,1449 132.4,1449.1 133.4,1449.3 134.4,1449.5 135.4,1449.7 136.4,1450 137.4,1450.2 138.4,1450.5 139.4,1450.7 140.4,1451 141.4,1451.2 142.4,1451.5 143.4,1451.9 144.4,1452.2 145.4,1452.6 146.4,1453.1 147.4,1453.6 148.4,1454.1 149.4,1454.6 150.5,1455.2 151.5,1455.7 152.5,1456.4 153.5,1457 154.5,1457.7 155.5,1458.4 156.5,1459.3 157.5,1460.2 158.5,1461.1 159.5,1462.1 160.5,1463.2 161.5,1464.2 162.5,1465.2 163.5,1466.2 164.5,1467.2 165.5,1468.1 166.5,1469.1 167.5,1470.1 168.5,1471.1 169.5,1472 170.5,1472.8 171.5,1473.4 172.5,1474.1 173.5,1474.8 174.5,1475.4 175.5,1475.8 176.5,1475.9 177.5,1475.5 178.5,1474.9 179.5,1474 180.5,1472.9 181.5,1471.4 182.5,1469.7 183.5,1467.7 184.5,1465.8 185.5,1463.7 186.5,1461.3 187.6,1458.9 188.6,1456.4 189.6,1453.7 190.6,1450.9 191.6,1447.9 192.6,1444.7 193.6,1441.4 194.6,1437.9 195.6,1434.3 196.6,1430.6 197.6,1426.8 198.6,1423 199.6,1419.2 200.6,1415.4 201.6,1411.6 202.6,1407.6 203.6,1403.7 204.6,1399.7 205.6,1395.7 206.6,1391.7 207.6,1387.8 208.6,1383.9 209.6,1380 210.6,1376 211.6,1372.1 212.6,1368.2 213.6,1364.5 214.6,1360.9 215.6,1357.5 216.6,1354.3 217.6,1351.1 218.6,1348 219.6,1344.9 220.6,1342.1 221.6,1339.4 222.6,1336.8 223.6,1334.5 224.7,1332.2 225.7,1330.1 226.7,1328 227.7,1326 228.7,1324.2 229.7,1322.5 230.7,1321 231.7,1319.7 232.7,1318.4 233.7,1317.2 234.7,1316.1 235.7,1315.1 236.7,1314.1 237.7,1313.2 238.7,1312.4 239.7,1311.6 240.7,1310.9 241.7,1310.2 242.7,1309.6 243.7,1309 244.7,1308.4 245.7,1307.9 246.7,1307.3 247.7,1306.8 248.7,1306.2 249.7,1305.6 250.7,1304.9 251.7,1304.2 252.7,1303.5 253.7,1302.8 254.7,1302 255.7,1301.2 256.7,1300.4 257.7,1299.6 258.7,1298.9 259.7,1298.1 260.7,1297.2 261.8,1296.3 262.8,1295.4 263.8,1294.7 264.8,1294.2 265.8,1294 266.8,1294.1 267.8,1294.3 268.8,1294.6 269.8,1295 270.8,1295.7 271.8,1296.7 272.8,1298.1 273.8,1299.6 274.8,1301.2 275.8,1303 276.8,1305.1 277.8,1307.4 278.8,1309.9 279.8,1312.6 280.8,1315.6 281.8,1318.7 282.8,1322 283.8,1325.8 284.8,1330.1 285.8,1334.8 286.8,1339.8 287.8,1344.9 288.8,1350 289.8,1355.1 290.8,1360.1 291.8,1365.2 292.8,1370.4 293.8,1375.7 294.8,1381 295.8,1386.4 296.8,1391.7 297.8,1397 298.9,1402.3 299.9,1407.7 300.9,1413.1 301.9,1418.4 302.9,1423.8 303.9,1429 304.9,1434.2 305.9,1439.3 306.9,1444.2 307.9,1449.1 308.9,1454 309.9,1458.7 310.9,1463.4 311.9,1468 312.9,1472.4 313.9,1476.6 314.9,1480.8 315.9,1484.9 316.9,1489 317.9,1492.9 318.9,1496.6 319.9,1500.2 320.9,1503.5 321.9,1506.6 322.9,1509.4 323.9,1512 324.9,1514.4 325.9,1516.7 326.9,1518.8 327.9,1520.8 328.9,1522.6 329.9,1524.3 330.9,1525.9 331.9,1527.4 332.9,1528.8 333.9,1530.2 334.9,1531.5 336,1532.8 337,1534 338,1535.2 339,1536.3 340,1537.4 341,1538.5 342,1539.5 343,1540.5 344,1541.4 345,1542.4 346,1543.3 347,1544.2 348,1545 349,1545.8 350,1546.7 351,1547.4 352,1548.2 353,1549 354,1549.7 355,1550.5 356,1551.2 357,1551.9 358,1552.6 359,1553.3 360,1554 361,1554.7 362,1555.4 363,1556.1 364,1556.8 365,1557.5 366,1558.2 367,1558.9 368,1559.5 369,1560.2 370,1560.8 371,1561.5 372,1562 373.1,1562.6 374.1,1563.1 375.1,1563.7 376.1,1564.1 377.1,1564.6 378.1,1565 379.1,1565.5 380.1,1565.9 381.1,1566.3 382.1,1566.7 383.1,1567 384.1,1567.4 385.1,1567.8 386.1,1568.1 387.1,1568.5 388.1,1568.9 389.1,1569.3 390.1,1569.6 391.1,1570 392.1,1570.4 393.1,1570.8 394.1,1571.2 395.1,1571.6 396.1,1572 397.1,1572.4 398.1,1572.8 399.1,1573.2 400.1,1573.5 401.1,1573.9 402.1,1574.3 403.1,1574.6 404.1,1575 405.1,1575.3 406.1,1575.6 407.1,1575.9 408.1,1576.2 409.1,1576.5 410.2,1576.8 411.2,1577.1 412.2,1577.4 413.2,1577.7 414.2,1578 415.2,1578.3 416.2,1578.6 417.2,1578.8 418.2,1579.1 419.2,1579.3 420.2,1579.5 421.2,1579.7 422.2,1579.9 423.2,1580.1 424.2,1580.3 425.2,1580.5 426.2,1580.7 427.2,1580.8 428.2,1581 429.2,1581.2 430.2,1581.3 431.2,1581.5 432.2,1581.6 433.2,1581.8 434.2,1581.9 435.2,1582 436.2,1582.2 437.2,1582.3 438.2,1582.4 439.2,1582.5 440.2,1582.6 441.2,1582.7 442.2,1582.8 443.2,1582.9 444.2,1583 445.2,1583.1 446.2,1583.2 447.3,1583.3 448.3,1583.4 449.3,1583.4 450.3,1583.5 451.3,1583.6 452.3,1583.7 453.3,1583.7 454.3,1583.8 455.3,1583.9 456.3,1583.9 457.3,1584 458.3,1584.1 459.3,1584.1 460.3,1584.2 461.3,1584.2 462.3,1584.3 463.3,1584.4 464.3,1584.4 465.3,1584.5 466.3,1584.5 467.3,1584.6 468.3,1584.6 469.3,1584.7 470.3,1584.7 471.3,1584.8 472.3,1584.8 473.3,1584.9 474.3,1585 475.3,1585 476.3,1585.1 477.3,1585.2 478.3,1585.3 479.3,1585.3 480.3,1585.4 481.3,1585.5 482.3,1585.6 483.3,1585.7 484.4,1585.8 485.4,1585.9 486.4,1586 487.4,1586.1 488.4,1586.2 489.4,1586.4 490.4,1586.6 491.4,1586.8 492.4,1587 493.4,1587.3 494.4,1587.6 495.4,1588 496.4,1588.3 497.4,1588.7 498.4,1589 499.4,1589.4 500.4,1589.7 501.4,1590.1 502.4,1590.5 503.4,1590.9 504.4,1591.4 505.4,1591.8 506.4,1592.2 507.4,1592.7 508.4,1593.1 509.4,1593.5 510.4,1594 511.4,1594.4 512.4,1594.8 513.4,1595.3 514.4,1595.7 515.4,1596.1 516.4,1596.6 517.4,1597 518.4,1597.4 519.4,1597.9 520.4,1598.3 521.5,1598.7 522.5,1599.1 523.5,1599.5 524.5,1599.9 525.5,1600.3 526.5,1600.7 527.5,1601.1 528.5,1601.5 529.5,1601.9 530.5,1602.2 531.5,1602.6 532.5,1603 533.5,1603.3 534.5,1603.7 535.5,1604 536.5,1604.3 537.5,1604.5 538.5,1604.8 539.5,1605 540.5,1605.3 541.5,1605.5 542.5,1605.8 543.5,1606 544.5,1606.2 545.5,1606.4 546.5,1606.6 547.5,1606.8 548.5,1607 549.5,1607.2 550.5,1607.4 551.5,1607.5 552.5,1607.6 553.5,1607.8 554.5,1607.9 555.5,1608 556.5,1608.1 557.5,1608.1 558.6,1608.2 559.6,1608.3 560.6,1608.4 561.6,1608.5 562.6,1608.6 563.6,1608.7 564.6,1608.8 565.6,1608.8 566.6,1608.9 567.6,1609 568.6,1609.1 569.6,1609.1 570.6,1609.2 571.6,1609.2 572.6,1609.3 573.6,1609.3 574.6,1609.4 575.6,1609.4 576.6,1609.5 577.6,1609.5 578.6,1609.5 579.6,1609.6 580.6,1609.6 581.6,1609.6 582.6,1609.6" fill="none" stroke="#a00000" stroke-width="4" stroke-linejoin="round"/>
<polyline points="131.4,1432 132.4,1432.4 133.4,1432.8 134.4,1433.2 135.4,1433.6 136.4,1434 137.4,1434.5 138.4,1434.9 139.4,1435.4 140.4,1435.8 141.4,1436.3 142.4,1436.8 143.4,1437.4 144.4,1438 145.4,1438.6 146.4,1439.2 147.4,1439.9 148.4,1440.6 149.4,1441.4 150.5,1442.2 151.5,1443 152.5,1443.8 153.5,1444.7 154.5,1445.6 155.5,1446.6 156.5,1447.6 157.5,1448.8 158.5,1450 159.5,1451.2 160.5,1452.4 161.5,1453.7 162.5,1454.9 163.5,1456.1 164.5,1457.2 165.5,1458.3 166.5,1459.5 167.5,1460.7 168.5,1461.8 169.5,1462.8 170.5,1463.8 171.5,1464.5 172.5,1465.2 173.5,1465.9 174.5,1466.5 175.5,1466.9 176.5,1466.9 177.5,1466.6 178.5,1465.8 179.5,1464.9 180.5,1463.8 181.5,1462.2 182.5,1460.2 183.5,1458.2 184.5,1456.1 185.5,1453.8 186.5,1451.3 187.6,1448.7 188.6,1446 189.6,1443.2 190.6,1440.1 191.6,1437 192.6,1433.6 193.6,1430.1 194.6,1426.3 195.6,1422.4 196.6,1418.5 197.6,1414.5 198.6,1410.4 199.6,1406.4 200.6,1402.3 201.6,1398.2 202.6,1393.9 203.6,1389.7 204.6,1385.4 205.6,1381.2 206.6,1376.9 207.6,1372.8 208.6,1368.6 209.6,1364.4 210.6,1360.1 211.6,1355.9 212.6,1351.8 213.6,1347.8 214.6,1344 215.6,1340.3 216.6,1336.8 217.6,1333.4 218.6,1330.1 219.6,1326.9 220.6,1323.8 221.6,1320.9 222.6,1318.1 223.6,1315.6 224.7,1313.2 225.7,1310.9 226.7,1308.7 227.7,1306.6 228.7,1304.7 229.7,1302.9 230.7,1301.2 231.7,1299.8 232.7,1298.4 233.7,1297.2 234.7,1296 235.7,1294.9 236.7,1293.9 237.7,1292.9 238.7,1292 239.7,1291.2 240.7,1290.4 241.7,1289.7 242.7,1289 243.7,1288.4 244.7,1287.8 245.7,1287.2 246.7,1286.6 247.7,1286 248.7,1285.4 249.7,1284.7 250.7,1284 251.7,1283.3 252.7,1282.5 253.7,1281.7 254.7,1280.9 255.7,1280 256.7,1279.2 257.7,1278.4 258.7,1277.6 259.7,1276.7 260.7,1275.7 261.8,1274.7 262.8,1273.8 263.8,1273 264.8,1272.5 265.8,1272.3 266.8,1272.4 267.8,1272.6 268.8,1273 269.8,1273.4 270.8,1274.1 271.8,1275.2 272.8,1276.6 273.8,1278.2 274.8,1279.9 275.8,1281.9 276.8,1284.1 277.8,1286.5 278.8,1289.3 279.8,1292.2 280.8,1295.3 281.8,1298.6 282.8,1302.2 283.8,1306.2 284.8,1310.8 285.8,1315.8 286.8,1321.1 287.8,1326.6 288.8,1332.1 289.8,1337.5 290.8,1342.9 291.8,1348.3 292.8,1353.8 293.8,1359.5 294.8,1365.2 295.8,1370.9 296.8,1376.6 297.8,1382.2 298.9,1387.9 299.9,1393.6 300.9,1399.3 301.9,1405.1 302.9,1410.8 303.9,1416.4 304.9,1421.9 305.9,1427.3 306.9,1432.6 307.9,1437.8 308.9,1443 309.9,1448.1 310.9,1453.1 311.9,1458 312.9,1462.7 313.9,1467.2 314.9,1471.7 315.9,1476.1 316.9,1480.4 317.9,1484.6 318.9,1488.6 319.9,1492.4 320.9,1495.9 321.9,1499.2 322.9,1502.2 323.9,1505 324.9,1507.6 325.9,1510 326.9,1512.3 327.9,1514.4 328.9,1516.3 329.9,1518.2 330.9,1519.9 331.9,1521.5 332.9,1523 333.9,1524.4 334.9,1525.8 336,1527.2 337,1528.5 338,1529.7 339,1530.9 340,1532.1 341,1533.2 342,1534.3 343,1535.4 344,1536.4 345,1537.4 346,1538.4 347,1539.3 348,1540.2 349,1541.1 350,1542 351,1542.8 352,1543.7 353,1544.5 354,1545.3 355,1546.1 356,1546.8 357,1547.6 358,1548.4 359,1549.1 360,1549.9 361,1550.6 362,1551.3 363,1552.1 364,1552.8 365,1553.6 366,1554.3 367,1555.1 368,1555.8 369,1556.5 370,1557.1 371,1557.8 372,1558.4 373.1,1559 374.1,1559.6 375.1,1560.2 376.1,1560.7 377.1,1561.2 378.1,1561.6 379.1,1562.1 380.1,1562.5 381.1,1562.9 382.1,1563.4 383.1,1563.8 384.1,1564.2 385.1,1564.5 386.1,1564.9 387.1,1565.3 388.1,1565.7 389.1,1566.1 390.1,1566.5 391.1,1566.9 392.1,1567.4 393.1,1567.8 394.1,1568.2 395.1,1568.6 396.1,1569.1 397.1,1569.5 398.1,1569.9 399.1,1570.3 400.1,1570.7 401.1,1571.1 402.1,1571.5 403.1,1571.8 404.1,1572.2 405.1,1572.6 406.1,1572.9 407.1,1573.2 408.1,1573.6 409.1,1573.9 410.2,1574.2 411.2,1574.5 412.2,1574.9 413.2,1575.2 414.2,1575.5 415.2,1575.8 416.2,1576 417.2,1576.3 418.2,1576.6 419.2,1576.8 420.2,1577.1 421.2,1577.3 422.2,1577.5 423.2,1577.7 424.2,1577.9 425.2,1578.1 426.2,1578.3 427.2,1578.5 428.2,1578.7 429.2,1578.8 430.2,1579 431.2,1579.2 432.2,1579.3 433.2,1579.5 434.2,1579.6 435.2,1579.8 436.2,1579.9 437.2,1580 438.2,1580.1 439.2,1580.3 440.2,1580.4 441.2,1580.5 442.2,1580.6 443.2,1580.7 444.2,1580.8 445.2,1580.9 446.2,1581 447.3,1581.1 448.3,1581.1 449.3,1581.2 450.3,1581.3 451.3,1581.4 452.3,1581.5 453.3,1581.5 454.3,1581.6 455.3,1581.7 456.3,1581.7 457.3,1581.8 458.3,1581.9 459.3,1582 460.3,1582 461.3,1582.1 462.3,1582.1 463.3,1582.2 464.3,1582.2 465.3,1582.3 466.3,1582.4 467.3,1582.4 468.3,1582.5 469.3,1582.5 470.3,1582.6 471.3,1582.6 472.3,1582.7 473.3,1582.8 474.3,1582.8 475.3,1582.9 476.3,1583 477.3,1583.1 478.3,1583.1 479.3,1583.2 480.3,1583.3 481.3,1583.4 482.3,1583.5 483.3,1583.6 484.4,1583.7 485.4,1583.8 486.4,1583.9 487.4,1584 488.4,1584.2 489.4,1584.3 490.4,1584.5 491.4,1584.8 492.4,1585 493.4,1585.3 494.4,1585.7 495.4,1586 496.4,1586.4 497.4,1586.8 498.4,1587.1 499.4,1587.5 500.4,1587.9 501.4,1588.3 502.4,1588.7 503.4,1589.2 504.4,1589.6 505.4,1590.1 506.4,1590.6 507.4,1591.1 508.4,1591.5 509.4,1592 510.4,1592.5 511.4,1592.9 512.4,1593.4 513.4,1593.8 514.4,1594.3 515.4,1594.8 516.4,1595.2 517.4,1595.7 518.4,1596.2 519.4,1596.6 520.4,1597.1 521.5,1597.5 522.5,1598 523.5,1598.4 524.5,1598.8 525.5,1599.2 526.5,1599.6 527.5,1600.1 528.5,1600.5 529.5,1600.9 530.5,1601.3 531.5,1601.7 532.5,1602.1 533.5,1602.5 534.5,1602.8 535.5,1603.2 536.5,1603.5 537.5,1603.7 538.5,1604 539.5,1604.3 540.5,1604.6 541.5,1604.8 542.5,1605.1 543.5,1605.3 544.5,1605.5 545.5,1605.8 546.5,1606 547.5,1606.2 548.5,1606.4 549.5,1606.6 550.5,1606.8 551.5,1606.9 552.5,1607.1 553.5,1607.2 554.5,1607.3 555.5,1607.4 556.5,1607.5 557.5,1607.6 558.6,1607.7 559.6,1607.8 560.6,1607.9 561.6,1608 562.6,1608.1 563.6,1608.2 564.6,1608.2 565.6,1608.3 566.6,1608.4 567.6,1608.5 568.6,1608.6 569.6,1608.6 570.6,1608.7 571.6,1608.8 572.6,1608.8 573.6,1608.9 574.6,1608.9 575.6,1609 576.6,1609 577.6,1609 578.6,1609.1 579.6,1609.1 580.6,1609.1 581.6,1609.1 582.6,1609.1" fill="none" stroke="#860000" stroke-width="4" stroke-linejoin="round"/>
<polyline points="131.4,1411.5 132.4,1412 133.4,1412.5 134.4,1413 135.4,1413.5 136.4,1414.1 137.4,1414.7 138.4,1415.2 139.4,1415.8 140.4,1416.4 141.4,1417 142.4,1417.6 143.4,1418.3 144.4,1419 145.4,1419.7 146.4,1420.5 147.4,1421.3 148.4,1422.2 149.4,1423.1 150.5,1424 151.5,1425 152.5,1426 153.5,1427 154.5,1428.1 155.5,1429.2 156.5,1430.4 157.5,1431.7 158.5,1433.1 159.5,1434.4 160.5,1435.8 161.5,1437.2 162.5,1438.6 163.5,1439.9 164.5,1441.1 165.5,1442.3 166.5,1443.5 167.5,1444.7 168.5,1445.8 169.5,1446.9 170.5,1447.8 171.5,1448.6 172.5,1449.3 173.5,1449.9 174.5,1450.5 175.5,1450.9 176.5,1450.9 177.5,1450.4 178.5,1449.6 179.5,1448.6 180.5,1447.3 181.5,1445.4 182.5,1443.3 183.5,1441 184.5,1438.7 185.5,1436.1 186.5,1433.3 187.6,1430.4 188.6,1427.4 189.6,1424.2 190.6,1420.9 191.6,1417.3 192.6,1413.6 193.6,1409.6 194.6,1405.4 195.6,1401.1 196.6,1396.7 197.6,1392.2 198.6,1387.7 199.6,1383.2 200.6,1378.6 201.6,1374 202.6,1369.3 203.6,1364.6 204.6,1359.8 205.6,1355 206.6,1350.3 207.6,1345.7 208.6,1341 209.6,1336.2 210.6,1331.5 211.6,1326.8 212.6,1322.2 213.6,1317.7 214.6,1313.4 215.6,1309.4 216.6,1305.5 217.6,1301.6 218.6,1297.9 219.6,1294.3 220.6,1290.9 221.6,1287.6 222.6,1284.6 223.6,1281.7 224.7,1279.1 225.7,1276.5 226.7,1274 227.7,1271.7 228.7,1269.5 229.7,1267.5 230.7,1265.7 231.7,1264 232.7,1262.5 233.7,1261.1 234.7,1259.8 235.7,1258.6 236.7,1257.4 237.7,1256.3 238.7,1255.3 239.7,1254.4 240.7,1253.6 241.7,1252.8 242.7,1252 243.7,1251.3 244.7,1250.6 245.7,1250 246.7,1249.3 247.7,1248.7 248.7,1248 249.7,1247.2 250.7,1246.4 251.7,1245.6 252.7,1244.7 253.7,1243.8 254.7,1242.9 255.7,1241.9 256.7,1241 257.7,1240.1 258.7,1239.2 259.7,1238.2 260.7,1237.1 261.8,1236 262.8,1235 263.8,1234.1 264.8,1233.5 265.8,1233.3 266.8,1233.4 267.8,1233.6 268.8,1234 269.8,1234.5 270.8,1235.2 271.8,1236.5 272.8,1238.1 273.8,1239.9 274.8,1241.7 275.8,1243.9 276.8,1246.3 277.8,1249.1 278.8,1252.1 279.8,1255.3 280.8,1258.8 281.8,1262.5 282.8,1266.4 283.8,1271 284.8,1276.1 285.8,1281.7 286.8,1287.5 287.8,1293.6 288.8,1299.8 289.8,1305.8 290.8,1311.8 291.8,1317.8 292.8,1324 293.8,1330.3 294.8,1336.6 295.8,1342.9 296.8,1349.3 297.8,1355.6 298.9,1361.9 299.9,1368.2 300.9,1374.6 301.9,1381 302.9,1387.4 303.9,1393.6 304.9,1399.8 305.9,1405.8 306.9,1411.7 307.9,1417.5 308.9,1423.3 309.9,1429 310.9,1434.5 311.9,1439.9 312.9,1445.2 313.9,1450.2 314.9,1455.2 315.9,1460.1 316.9,1464.9 317.9,1469.6 318.9,1474.1 319.9,1478.3 320.9,1482.3 321.9,1485.9 322.9,1489.3 323.9,1492.4 324.9,1495.3 325.9,1498 326.9,1500.5 327.9,1502.8 328.9,1505 329.9,1507.1 330.9,1509 331.9,1510.8 332.9,1512.4 333.9,1514.1 334.9,1515.6 336,1517.1 337,1518.6 338,1520 339,1521.3 340,1522.6 341,1523.9 342,1525.1 343,1526.3 344,1527.4 345,1528.5 346,1529.6 347,1530.7 348,1531.7 349,1532.7 350,1533.6 351,1534.6 352,1535.5 353,1536.4 354,1537.3 355,1538.1 356,1539 357,1539.8 358,1540.7 359,1541.5 360,1542.4 361,1543.2 362,1544 363,1544.9 364,1545.7 365,1546.5 366,1547.3 367,1548.2 368,1549 369,1549.7 370,1550.5 371,1551.2 372,1551.9 373.1,1552.6 374.1,1553.2 375.1,1553.8 376.1,1554.4 377.1,1555 378.1,1555.5 379.1,1556 380.1,1556.5 381.1,1556.9 382.1,1557.4 383.1,1557.8 384.1,1558.3 385.1,1558.7 386.1,1559.2 387.1,1559.6 388.1,1560 389.1,1560.5 390.1,1560.9 391.1,1561.4 392.1,1561.9 393.1,1562.3 394.1,1562.8 395.1,1563.3 396.1,1563.7 397.1,1564.2 398.1,1564.7 399.1,1565.1 400.1,1565.6 401.1,1566 402.1,1566.4 403.1,1566.9 404.1,1567.3 405.1,1567.6 406.1,1568 407.1,1568.4 408.1,1568.8 409.1,1569.1 410.2,1569.5 411.2,1569.9 412.2,1570.2 413.2,1570.5 414.2,1570.9 415.2,1571.2 416.2,1571.5 417.2,1571.8 418.2,1572.1 419.2,1572.4 420.2,1572.7 421.2,1572.9 422.2,1573.2 423.2,1573.4 424.2,1573.6 425.2,1573.8 426.2,1574 427.2,1574.2 428.2,1574.4 429.2,1574.6 430.2,1574.8 431.2,1575 432.2,1575.2 433.2,1575.3 434.2,1575.5 435.2,1575.6 436.2,1575.8 437.2,1575.9 438.2,1576.1 439.2,1576.2 440.2,1576.3 441.2,1576.4 442.2,1576.5 443.2,1576.7 444.2,1576.8 445.2,1576.9 446.2,1577 447.3,1577.1 448.3,1577.2 449.3,1577.2 450.3,1577.3 451.3,1577.4 452.3,1577.5 453.3,1577.6 454.3,1577.7 455.3,1577.7 456.3,1577.8 457.3,1577.9 458.3,1578 459.3,1578 460.3,1578.1 461.3,1578.2 462.3,1578.2 463.3,1578.3 464.3,1578.4 465.3,1578.4 466.3,1578.5 467.3,1578.5 468.3,1578.6 469.3,1578.6 470.3,1578.7 471.3,1578.8 472.3,1578.8 473.3,1578.9 474.3,1579 475.3,1579.1 476.3,1579.2 477.3,1579.2 478.3,1579.3 479.3,1579.4 480.3,1579.5 481.3,1579.6 482.3,1579.7 483.3,1579.8 484.4,1579.9 485.4,1580 486.4,1580.2 487.4,1580.3 488.4,1580.5 489.4,1580.7 490.4,1580.9 491.4,1581.1 492.4,1581.4 493.4,1581.8 494.4,1582.1 495.4,1582.5 496.4,1582.9 497.4,1583.4 498.4,1583.8 499.4,1584.2 500.4,1584.6 501.4,1585.1 502.4,1585.6 503.4,1586.1 504.4,1586.6 505.4,1587.1 506.4,1587.6 507.4,1588.2 508.4,1588.7 509.4,1589.2 510.4,1589.7 511.4,1590.2 512.4,1590.7 513.4,1591.3 514.4,1591.8 515.4,1592.3 516.4,1592.8 517.4,1593.3 518.4,1593.9 519.4,1594.4 520.4,1594.9 521.5,1595.4 522.5,1595.9 523.5,1596.4 524.5,1596.8 525.5,1597.3 526.5,1597.8 527.5,1598.2 528.5,1598.7 529.5,1599.2 530.5,1599.6 531.5,1600.1 532.5,1600.5 533.5,1600.9 534.5,1601.3 535.5,1601.7 536.5,1602 537.5,1602.3 538.5,1602.6 539.5,1602.9 540.5,1603.2 541.5,1603.5 542.5,1603.8 543.5,1604.1 544.5,1604.3 545.5,1604.6 546.5,1604.8 547.5,1605.1 548.5,1605.3 549.5,1605.5 550.5,1605.7 551.5,1605.9 552.5,1606 553.5,1606.2 554.5,1606.3 555.5,1606.4 556.5,1606.5 557.5,1606.6 558.6,1606.7 559.6,1606.8 560.6,1606.9 561.6,1607 562.6,1607.1 563.6,1607.2 564.6,1607.3 565.6,1607.4 566.6,1607.5 567.6,1607.6 568.6,1607.7 569.6,1607.7 570.6,1607.8 571.6,1607.9 572.6,1607.9 573.6,1608 574.6,1608 575.6,1608.1 576.6,1608.1 577.6,1608.2 578.6,1608.2 579.6,1608.2 580.6,1608.2 581.6,1608.3 582.6,1608.3" fill="none" stroke="#6a0000" stroke-width="4" stroke-linejoin="round"/>
<rect x="131.4" y="1146" width="451.2" height="472.9" fill="none" stroke="#000" stroke-width="3"/>
<text transform="translate(376.5 1228.8) scale(1 1.04)" font-size="35.7" font-weight="bold">26 µM</text>
<text transform="translate(376.5 1527.8) scale(1 1.04)" font-size="35.7" font-weight="bold">0 µM</text>
<line x1="410.2" y1="1494.4" x2="410.2" y2="1262" stroke="#c00000" stroke-width="4.4" stroke-linecap="butt"/>
<polygon points="410.2,1241.5 422.4,1265 398,1265" fill="#c00000"/>
<text transform="translate(702 1086.8) scale(1 1.04)" font-size="48.5" font-weight="bold">E</text>
<line x1="731.5" y1="1623.2" x2="740.8" y2="1623.2" stroke="#000" stroke-width="3" />
<text transform="translate(712.2 1634) scale(1 1.04)" font-size="32.4" text-anchor="end">0</text>
<line x1="733.2" y1="1583.9" x2="740.8" y2="1583.9" stroke="#000" stroke-width="3" />
<line x1="731.5" y1="1544.5" x2="740.8" y2="1544.5" stroke="#000" stroke-width="3" />
<text transform="translate(712.2 1555.3) scale(1 1.04)" font-size="32.4" text-anchor="end">0.2</text>
<line x1="733.2" y1="1505.2" x2="740.8" y2="1505.2" stroke="#000" stroke-width="3" />
<line x1="731.5" y1="1465.8" x2="740.8" y2="1465.8" stroke="#000" stroke-width="3" />
<text transform="translate(712.2 1476.6) scale(1 1.04)" font-size="32.4" text-anchor="end">0.4</text>
<line x1="733.2" y1="1426.5" x2="740.8" y2="1426.5" stroke="#000" stroke-width="3" />
<line x1="731.5" y1="1387.1" x2="740.8" y2="1387.1" stroke="#000" stroke-width="3" />
<text transform="translate(712.2 1397.9) scale(1 1.04)" font-size="32.4" text-anchor="end">0.6</text>
<line x1="733.2" y1="1347.8" x2="740.8" y2="1347.8" stroke="#000" stroke-width="3" />
<line x1="731.5" y1="1308.4" x2="740.8" y2="1308.4" stroke="#000" stroke-width="3" />
<text transform="translate(712.2 1319.2) scale(1 1.04)" font-size="32.4" text-anchor="end">0.8</text>
<line x1="733.2" y1="1269" x2="740.8" y2="1269" stroke="#000" stroke-width="3" />
<line x1="731.5" y1="1229.7" x2="740.8" y2="1229.7" stroke="#000" stroke-width="3" />
<text transform="translate(712.2 1240.5) scale(1 1.04)" font-size="32.4" text-anchor="end">1</text>
<line x1="733.2" y1="1190.3" x2="740.8" y2="1190.3" stroke="#000" stroke-width="3" />
<line x1="731.5" y1="1151" x2="740.8" y2="1151" stroke="#000" stroke-width="3" />
<text transform="translate(712.2 1161.8) scale(1 1.04)" font-size="32.4" text-anchor="end">1.2</text>
<line x1="740.3" y1="1623.2" x2="740.3" y2="1630.5" stroke="#000" stroke-width="3" />
<text transform="translate(740.3 1673.2) scale(1 1.04)" font-size="32.4" text-anchor="middle">0</text>
<line x1="814.9" y1="1623.2" x2="814.9" y2="1630.5" stroke="#000" stroke-width="3" />
<line x1="889.6" y1="1623.2" x2="889.6" y2="1630.5" stroke="#000" stroke-width="3" />
<text transform="translate(889.6 1673.2) scale(1 1.04)" font-size="32.4" text-anchor="middle">10</text>
<line x1="964.2" y1="1623.2" x2="964.2" y2="1630.5" stroke="#000" stroke-width="3" />
<line x1="1038.9" y1="1623.2" x2="1038.9" y2="1630.5" stroke="#000" stroke-width="3" />
<text transform="translate(1038.9 1673.2) scale(1 1.04)" font-size="32.4" text-anchor="middle">20</text>
<line x1="1113.5" y1="1623.2" x2="1113.5" y2="1630.5" stroke="#000" stroke-width="3" />
<line x1="1188.2" y1="1623.2" x2="1188.2" y2="1630.5" stroke="#000" stroke-width="3" />
<text transform="translate(1188.2 1673.2) scale(1 1.04)" font-size="32.4" text-anchor="middle">30</text>
<text transform="translate(945.8 1708.6) scale(1 1.04)" font-size="36.2" text-anchor="middle" xml:space="preserve">[Heme]  (µM)</text>
<text transform="translate(641 1375.5) rotate(-90) scale(1 1.04)" font-size="36.9" text-anchor="middle">Δ Absorbance (482 nm) AU</text>
<line x1="740.3" y1="1623.2" x2="1125.5" y2="1257.2" stroke="#000" stroke-width="3.2" stroke-dasharray="0.1 6.6" stroke-linecap="round"/>
<circle cx="740.3" cy="1623.2" r="5.6" fill="#000"/>
<circle cx="770.2" cy="1597.2" r="5.6" fill="#000"/>
<circle cx="800" cy="1569.7" r="5.6" fill="#000"/>
<circle cx="829.9" cy="1542.9" r="5.6" fill="#000"/>
<circle cx="859.7" cy="1518.1" r="5.6" fill="#000"/>
<circle cx="889.6" cy="1489.8" r="5.6" fill="#000"/>
<circle cx="919.5" cy="1454.4" r="5.6" fill="#000"/>
<circle cx="949.3" cy="1439" r="5.6" fill="#000"/>
<circle cx="979.2" cy="1416.2" r="5.6" fill="#000"/>
<circle cx="1009" cy="1359.9" r="5.6" fill="#000"/>
<circle cx="1038.9" cy="1337.1" r="5.6" fill="#000"/>
<circle cx="1068.8" cy="1299" r="5.6" fill="#000"/>
<circle cx="1098.6" cy="1277.7" r="5.6" fill="#000"/>
<circle cx="1128.5" cy="1239.1" r="5.6" fill="#000"/>
<rect x="740.8" y="1150.8" width="447.3" height="472.4" fill="none" stroke="#000" stroke-width="3"/>
<text transform="translate(759.7 1203.4) scale(1 1.04)" font-size="35.5" font-weight="bold">K<tspan font-size="24" dy="7.2">d</tspan><tspan dy="-7.2"> = 36.22 nM</tspan></text>
<text transform="translate(759.7 1279.6) scale(1 1.04)" font-size="35.5" font-weight="bold">R<tspan font-size="22" dy="-9.5">2</tspan><tspan dy="9.5"> = 0.99</tspan></text>
<text transform="translate(1218 1113.6) scale(1 1.04)" font-size="48.5" font-weight="bold">F</text>
<line x1="1363.9" y1="1111.1" x2="1373.9" y2="1111.1" stroke="#000" stroke-width="3" />
<text transform="translate(1345.5 1122.1) scale(1 1.04)" font-size="32.2" text-anchor="end">45</text>
<line x1="1366.4" y1="1160.1" x2="1373.9" y2="1160.1" stroke="#000" stroke-width="3" />
<line x1="1363.9" y1="1209" x2="1373.9" y2="1209" stroke="#000" stroke-width="3" />
<text transform="translate(1345.5 1220) scale(1 1.04)" font-size="32.2" text-anchor="end">35</text>
<line x1="1366.4" y1="1258" x2="1373.9" y2="1258" stroke="#000" stroke-width="3" />
<line x1="1363.9" y1="1306.9" x2="1373.9" y2="1306.9" stroke="#000" stroke-width="3" />
<text transform="translate(1345.5 1317.9) scale(1 1.04)" font-size="32.2" text-anchor="end">25</text>
<line x1="1366.4" y1="1355.9" x2="1373.9" y2="1355.9" stroke="#000" stroke-width="3" />
<line x1="1363.9" y1="1404.8" x2="1373.9" y2="1404.8" stroke="#000" stroke-width="3" />
<text transform="translate(1345.5 1415.8) scale(1 1.04)" font-size="32.2" text-anchor="end">15</text>
<line x1="1366.4" y1="1453.8" x2="1373.9" y2="1453.8" stroke="#000" stroke-width="3" />
<line x1="1363.9" y1="1502.7" x2="1373.9" y2="1502.7" stroke="#000" stroke-width="3" />
<text transform="translate(1345.5 1513.7) scale(1 1.04)" font-size="32.2" text-anchor="end">5</text>
<line x1="1366.4" y1="1551.7" x2="1373.9" y2="1551.7" stroke="#000" stroke-width="3" />
<line x1="1363.9" y1="1600.6" x2="1373.9" y2="1600.6" stroke="#000" stroke-width="3" />
<text transform="translate(1345.5 1611.6) scale(1 1.04)" font-size="32.2" text-anchor="end">-5</text>
<line x1="1366.4" y1="1649.6" x2="1373.9" y2="1649.6" stroke="#000" stroke-width="3" />
<line x1="1363.9" y1="1698.5" x2="1373.9" y2="1698.5" stroke="#000" stroke-width="3" />
<text transform="translate(1345.5 1709.5) scale(1 1.04)" font-size="32.2" text-anchor="end">-15</text>
<line x1="1373.9" y1="1698.9" x2="1373.9" y2="1708.3" stroke="#000" stroke-width="3" />
<text transform="translate(1373.9 1748) scale(1 1.04)" font-size="32.2" text-anchor="middle">200</text>
<line x1="1473.6" y1="1698.9" x2="1473.6" y2="1704.9" stroke="#000" stroke-width="3" />
<line x1="1573.3" y1="1698.9" x2="1573.3" y2="1708.3" stroke="#000" stroke-width="3" />
<text transform="translate(1573.3 1748) scale(1 1.04)" font-size="32.2" text-anchor="middle">220</text>
<line x1="1673" y1="1698.9" x2="1673" y2="1704.9" stroke="#000" stroke-width="3" />
<line x1="1772.7" y1="1698.9" x2="1772.7" y2="1708.3" stroke="#000" stroke-width="3" />
<text transform="translate(1772.7 1748) scale(1 1.04)" font-size="32.2" text-anchor="middle">240</text>
<line x1="1872.4" y1="1698.9" x2="1872.4" y2="1704.9" stroke="#000" stroke-width="3" />
<line x1="1972.1" y1="1698.9" x2="1972.1" y2="1708.3" stroke="#000" stroke-width="3" />
<text transform="translate(1972.1 1748) scale(1 1.04)" font-size="32.2" text-anchor="middle">260</text>
<text transform="translate(1621 1784.8) scale(1 1.04)" font-size="36.3" text-anchor="middle">Wavelength (nm)</text>
<text transform="translate(1292 1399.8) rotate(-90) scale(1 1.04)" font-size="36.7" text-anchor="middle">CD (deg cm<tspan font-size="23" dy="-13">2</tspan><tspan dy="13"> dmol</tspan><tspan font-size="23" dy="-13">-1</tspan><tspan dy="13">)</tspan></text>
<defs><clipPath id="clipF"><rect x="1373.9" y="1111.1" width="598.7" height="587.8"/></clipPath></defs>
<line x1="1373.9" y1="1551.7" x2="1972.6" y2="1551.7" stroke="#000" stroke-width="3" />
<g clip-path="url(#clipF)">
<polyline points="1373.9,1223.7 1383.9,1252.1 1393.8,1306.9 1403.8,1380.3 1413.8,1448.9 1423.8,1504.7 1433.7,1545.8 1443.7,1581 1453.7,1608.7 1463.6,1619.6 1473.6,1629.6 1483.6,1634.6 1493.5,1630.7 1503.5,1628.6 1513.5,1628.6 1523.5,1627.6 1533.4,1626.6 1543.4,1625.6 1553.4,1625.6 1563.3,1626.6 1573.3,1627.6 1583.3,1629.6 1593.2,1632.6 1603.2,1631.6 1613.2,1629.6 1623.2,1628.6 1633.1,1627 1643.1,1624.2 1653.1,1621.6 1663,1617.7 1673,1613.3 1683,1607.7 1692.9,1601.6 1702.9,1594.1 1712.9,1585.9 1722.9,1579.8 1732.8,1572.7 1742.8,1566.5 1752.8,1557.5 1762.7,1550.7 1772.7,1547.7 1782.7,1547.7 1792.6,1548.7 1802.6,1549.7 1812.6,1549.7 1822.6,1549.7 1832.5,1550.7 1842.5,1551.7 1852.5,1550.7 1862.4,1549.7 1872.4,1548.7 1882.4,1548.7 1892.3,1548.7 1902.3,1549.7 1912.3,1549.7 1922.2,1549.7 1932.2,1550.7 1942.2,1550.7 1952.2,1550.7 1962.1,1550.7 1972.1,1551.7" fill="none" stroke="#f49494" stroke-width="4" stroke-linejoin="round"/>
<circle cx="1373.9" cy="1223.7" r="5.2" fill="#f49494"/>
<circle cx="1383.9" cy="1252.1" r="5.2" fill="#f49494"/>
<circle cx="1393.8" cy="1306.9" r="5.2" fill="#f49494"/>
<circle cx="1403.8" cy="1380.3" r="5.2" fill="#f49494"/>
<circle cx="1413.8" cy="1448.9" r="5.2" fill="#f49494"/>
<circle cx="1423.8" cy="1504.7" r="5.2" fill="#f49494"/>
<circle cx="1433.7" cy="1545.8" r="5.2" fill="#f49494"/>
<circle cx="1443.7" cy="1581" r="5.2" fill="#f49494"/>
<circle cx="1453.7" cy="1608.7" r="5.2" fill="#f49494"/>
<circle cx="1463.6" cy="1619.6" r="5.2" fill="#f49494"/>
<circle cx="1473.6" cy="1629.6" r="5.2" fill="#f49494"/>
<circle cx="1483.6" cy="1634.6" r="5.2" fill="#f49494"/>
<circle cx="1493.5" cy="1630.7" r="5.2" fill="#f49494"/>
<circle cx="1503.5" cy="1628.6" r="5.2" fill="#f49494"/>
<circle cx="1513.5" cy="1628.6" r="5.2" fill="#f49494"/>
<circle cx="1523.5" cy="1627.6" r="5.2" fill="#f49494"/>
<circle cx="1533.4" cy="1626.6" r="5.2" fill="#f49494"/>
<circle cx="1543.4" cy="1625.6" r="5.2" fill="#f49494"/>
<circle cx="1553.4" cy="1625.6" r="5.2" fill="#f49494"/>
<circle cx="1563.3" cy="1626.6" r="5.2" fill="#f49494"/>
<circle cx="1573.3" cy="1627.6" r="5.2" fill="#f49494"/>
<circle cx="1583.3" cy="1629.6" r="5.2" fill="#f49494"/>
<circle cx="1593.2" cy="1632.6" r="5.2" fill="#f49494"/>
<circle cx="1603.2" cy="1631.6" r="5.2" fill="#f49494"/>
<circle cx="1613.2" cy="1629.6" r="5.2" fill="#f49494"/>
<circle cx="1623.2" cy="1628.6" r="5.2" fill="#f49494"/>
<circle cx="1633.1" cy="1627" r="5.2" fill="#f49494"/>
<circle cx="1643.1" cy="1624.2" r="5.2" fill="#f49494"/>
<circle cx="1653.1" cy="1621.6" r="5.2" fill="#f49494"/>
<circle cx="1663" cy="1617.7" r="5.2" fill="#f49494"/>
<circle cx="1673" cy="1613.3" r="5.2" fill="#f49494"/>
<circle cx="1683" cy="1607.7" r="5.2" fill="#f49494"/>
<circle cx="1692.9" cy="1601.6" r="5.2" fill="#f49494"/>
<circle cx="1702.9" cy="1594.1" r="5.2" fill="#f49494"/>
<circle cx="1712.9" cy="1585.9" r="5.2" fill="#f49494"/>
<circle cx="1722.9" cy="1579.8" r="5.2" fill="#f49494"/>
<circle cx="1732.8" cy="1572.7" r="5.2" fill="#f49494"/>
<circle cx="1742.8" cy="1566.5" r="5.2" fill="#f49494"/>
<circle cx="1752.8" cy="1557.5" r="5.2" fill="#f49494"/>
<circle cx="1762.7" cy="1550.7" r="5.2" fill="#f49494"/>
<circle cx="1772.7" cy="1547.7" r="5.2" fill="#f49494"/>
<circle cx="1782.7" cy="1547.7" r="5.2" fill="#f49494"/>
<circle cx="1792.6" cy="1548.7" r="5.2" fill="#f49494"/>
<circle cx="1802.6" cy="1549.7" r="5.2" fill="#f49494"/>
<circle cx="1812.6" cy="1549.7" r="5.2" fill="#f49494"/>
<circle cx="1822.6" cy="1549.7" r="5.2" fill="#f49494"/>
<circle cx="1832.5" cy="1550.7" r="5.2" fill="#f49494"/>
<circle cx="1842.5" cy="1551.7" r="5.2" fill="#f49494"/>
<circle cx="1852.5" cy="1550.7" r="5.2" fill="#f49494"/>
<circle cx="1862.4" cy="1549.7" r="5.2" fill="#f49494"/>
<circle cx="1872.4" cy="1548.7" r="5.2" fill="#f49494"/>
<circle cx="1882.4" cy="1548.7" r="5.2" fill="#f49494"/>
<circle cx="1892.3" cy="1548.7" r="5.2" fill="#f49494"/>
<circle cx="1902.3" cy="1549.7" r="5.2" fill="#f49494"/>
<circle cx="1912.3" cy="1549.7" r="5.2" fill="#f49494"/>
<circle cx="1922.2" cy="1549.7" r="5.2" fill="#f49494"/>
<circle cx="1932.2" cy="1550.7" r="5.2" fill="#f49494"/>
<circle cx="1942.2" cy="1550.7" r="5.2" fill="#f49494"/>
<circle cx="1952.2" cy="1550.7" r="5.2" fill="#f49494"/>
<circle cx="1962.1" cy="1550.7" r="5.2" fill="#f49494"/>
<circle cx="1972.1" cy="1551.7" r="5.2" fill="#f49494"/>
<polyline points="1373.9,1235.4 1383.9,1315.7 1393.8,1375.4 1403.8,1446.9 1413.8,1501.2 1423.8,1543 1433.7,1572.9 1443.7,1588.4 1453.7,1594.7 1463.6,1589.8 1473.6,1586.8 1483.6,1580.4 1493.5,1573.9 1503.5,1570.9 1513.5,1570.9 1523.5,1573.9 1533.4,1576.4 1543.4,1578.4 1553.4,1579.7 1563.3,1580.8 1573.3,1581 1583.3,1581 1593.2,1580.5 1603.2,1579.6 1613.2,1578.6 1623.2,1578.1 1633.1,1580 1643.1,1582 1653.1,1584 1663,1584 1673,1581 1683,1577.1 1692.9,1574.2 1702.9,1571.2 1712.9,1566.3 1722.9,1561.4 1732.8,1554.6 1742.8,1548.7 1752.8,1545.8 1762.7,1543.8 1772.7,1543.8 1782.7,1544.8 1792.6,1545.8 1802.6,1546.8 1812.6,1547.7 1822.6,1548.7 1832.5,1549.7 1842.5,1549.7 1852.5,1548.7 1862.4,1547.7 1872.4,1545.8 1882.4,1544.8 1892.3,1544.8 1902.3,1545.8 1912.3,1546.8 1922.2,1546.8 1932.2,1547.7 1942.2,1548.7 1952.2,1548.7 1962.1,1549.7 1972.1,1548.7" fill="none" stroke="#f06060" stroke-width="4" stroke-linejoin="round"/>
<circle cx="1373.9" cy="1235.4" r="5.2" fill="#f06060"/>
<circle cx="1383.9" cy="1315.7" r="5.2" fill="#f06060"/>
<circle cx="1393.8" cy="1375.4" r="5.2" fill="#f06060"/>
<circle cx="1403.8" cy="1446.9" r="5.2" fill="#f06060"/>
<circle cx="1413.8" cy="1501.2" r="5.2" fill="#f06060"/>
<circle cx="1423.8" cy="1543" r="5.2" fill="#f06060"/>
<circle cx="1433.7" cy="1572.9" r="5.2" fill="#f06060"/>
<circle cx="1443.7" cy="1588.4" r="5.2" fill="#f06060"/>
<circle cx="1453.7" cy="1594.7" r="5.2" fill="#f06060"/>
<circle cx="1463.6" cy="1589.8" r="5.2" fill="#f06060"/>
<circle cx="1473.6" cy="1586.8" r="5.2" fill="#f06060"/>
<circle cx="1483.6" cy="1580.4" r="5.2" fill="#f06060"/>
<circle cx="1493.5" cy="1573.9" r="5.2" fill="#f06060"/>
<circle cx="1503.5" cy="1570.9" r="5.2" fill="#f06060"/>
<circle cx="1513.5" cy="1570.9" r="5.2" fill="#f06060"/>
<circle cx="1523.5" cy="1573.9" r="5.2" fill="#f06060"/>
<circle cx="1533.4" cy="1576.4" r="5.2" fill="#f06060"/>
<circle cx="1543.4" cy="1578.4" r="5.2" fill="#f06060"/>
<circle cx="1553.4" cy="1579.7" r="5.2" fill="#f06060"/>
<circle cx="1563.3" cy="1580.8" r="5.2" fill="#f06060"/>
<circle cx="1573.3" cy="1581" r="5.2" fill="#f06060"/>
<circle cx="1583.3" cy="1581" r="5.2" fill="#f06060"/>
<circle cx="1593.2" cy="1580.5" r="5.2" fill="#f06060"/>
<circle cx="1603.2" cy="1579.6" r="5.2" fill="#f06060"/>
<circle cx="1613.2" cy="1578.6" r="5.2" fill="#f06060"/>
<circle cx="1623.2" cy="1578.1" r="5.2" fill="#f06060"/>
<circle cx="1633.1" cy="1580" r="5.2" fill="#f06060"/>
<circle cx="1643.1" cy="1582" r="5.2" fill="#f06060"/>
<circle cx="1653.1" cy="1584" r="5.2" fill="#f06060"/>
<circle cx="1663" cy="1584" r="5.2" fill="#f06060"/>
<circle cx="1673" cy="1581" r="5.2" fill="#f06060"/>
<circle cx="1683" cy="1577.1" r="5.2" fill="#f06060"/>
<circle cx="1692.9" cy="1574.2" r="5.2" fill="#f06060"/>
<circle cx="1702.9" cy="1571.2" r="5.2" fill="#f06060"/>
<circle cx="1712.9" cy="1566.3" r="5.2" fill="#f06060"/>
<circle cx="1722.9" cy="1561.4" r="5.2" fill="#f06060"/>
<circle cx="1732.8" cy="1554.6" r="5.2" fill="#f06060"/>
<circle cx="1742.8" cy="1548.7" r="5.2" fill="#f06060"/>
<circle cx="1752.8" cy="1545.8" r="5.2" fill="#f06060"/>
<circle cx="1762.7" cy="1543.8" r="5.2" fill="#f06060"/>
<circle cx="1772.7" cy="1543.8" r="5.2" fill="#f06060"/>
<circle cx="1782.7" cy="1544.8" r="5.2" fill="#f06060"/>
<circle cx="1792.6" cy="1545.8" r="5.2" fill="#f06060"/>
<circle cx="1802.6" cy="1546.8" r="5.2" fill="#f06060"/>
<circle cx="1812.6" cy="1547.7" r="5.2" fill="#f06060"/>
<circle cx="1822.6" cy="1548.7" r="5.2" fill="#f06060"/>
<circle cx="1832.5" cy="1549.7" r="5.2" fill="#f06060"/>
<circle cx="1842.5" cy="1549.7" r="5.2" fill="#f06060"/>
<circle cx="1852.5" cy="1548.7" r="5.2" fill="#f06060"/>
<circle cx="1862.4" cy="1547.7" r="5.2" fill="#f06060"/>
<circle cx="1872.4" cy="1545.8" r="5.2" fill="#f06060"/>
<circle cx="1882.4" cy="1544.8" r="5.2" fill="#f06060"/>
<circle cx="1892.3" cy="1544.8" r="5.2" fill="#f06060"/>
<circle cx="1902.3" cy="1545.8" r="5.2" fill="#f06060"/>
<circle cx="1912.3" cy="1546.8" r="5.2" fill="#f06060"/>
<circle cx="1922.2" cy="1546.8" r="5.2" fill="#f06060"/>
<circle cx="1932.2" cy="1547.7" r="5.2" fill="#f06060"/>
<circle cx="1942.2" cy="1548.7" r="5.2" fill="#f06060"/>
<circle cx="1952.2" cy="1548.7" r="5.2" fill="#f06060"/>
<circle cx="1962.1" cy="1549.7" r="5.2" fill="#f06060"/>
<circle cx="1972.1" cy="1548.7" r="5.2" fill="#f06060"/>
<polyline points="1373.9,1032.8 1383.9,1240.9 1393.8,1323.9 1403.8,1408.6 1413.8,1472.4 1423.8,1511.1 1433.7,1545 1443.7,1571.2 1453.7,1587.9 1463.6,1594.7 1473.6,1598.6 1483.6,1597.7 1493.5,1593.7 1503.5,1588.9 1513.5,1589.8 1523.5,1592.8 1533.4,1594.7 1543.4,1595.7 1553.4,1595.7 1563.3,1594.7 1573.3,1592.8 1583.3,1590.5 1593.2,1587.9 1603.2,1585.4 1613.2,1584.4 1623.2,1584.4 1633.1,1584 1643.1,1582 1653.1,1580 1663,1578.1 1673,1576.6 1683,1575.1 1692.9,1573.2 1702.9,1571.2 1712.9,1567.3 1722.9,1563.4 1732.8,1559.5 1742.8,1555.6 1752.8,1551.7 1762.7,1549.7 1772.7,1548.7 1782.7,1548.7 1792.6,1548.7 1802.6,1549.7 1812.6,1548.7 1822.6,1547.7 1832.5,1548.7 1842.5,1549.7 1852.5,1549.7 1862.4,1548.7 1872.4,1546.8 1882.4,1545.8 1892.3,1545.8 1902.3,1546.8 1912.3,1547.7 1922.2,1547.7 1932.2,1548.7 1942.2,1549.7 1952.2,1550.7 1962.1,1550.7 1972.1,1551.7" fill="none" stroke="#ea1c1c" stroke-width="4" stroke-linejoin="round"/>
<circle cx="1373.9" cy="1032.8" r="5.2" fill="#ea1c1c"/>
<circle cx="1383.9" cy="1240.9" r="5.2" fill="#ea1c1c"/>
<circle cx="1393.8" cy="1323.9" r="5.2" fill="#ea1c1c"/>
<circle cx="1403.8" cy="1408.6" r="5.2" fill="#ea1c1c"/>
<circle cx="1413.8" cy="1472.4" r="5.2" fill="#ea1c1c"/>
<circle cx="1423.8" cy="1511.1" r="5.2" fill="#ea1c1c"/>
<circle cx="1433.7" cy="1545" r="5.2" fill="#ea1c1c"/>
<circle cx="1443.7" cy="1571.2" r="5.2" fill="#ea1c1c"/>
<circle cx="1453.7" cy="1587.9" r="5.2" fill="#ea1c1c"/>
<circle cx="1463.6" cy="1594.7" r="5.2" fill="#ea1c1c"/>
<circle cx="1473.6" cy="1598.6" r="5.2" fill="#ea1c1c"/>
<circle cx="1483.6" cy="1597.7" r="5.2" fill="#ea1c1c"/>
<circle cx="1493.5" cy="1593.7" r="5.2" fill="#ea1c1c"/>
<circle cx="1503.5" cy="1588.9" r="5.2" fill="#ea1c1c"/>
<circle cx="1513.5" cy="1589.8" r="5.2" fill="#ea1c1c"/>
<circle cx="1523.5" cy="1592.8" r="5.2" fill="#ea1c1c"/>
<circle cx="1533.4" cy="1594.7" r="5.2" fill="#ea1c1c"/>
<circle cx="1543.4" cy="1595.7" r="5.2" fill="#ea1c1c"/>
<circle cx="1553.4" cy="1595.7" r="5.2" fill="#ea1c1c"/>
<circle cx="1563.3" cy="1594.7" r="5.2" fill="#ea1c1c"/>
<circle cx="1573.3" cy="1592.8" r="5.2" fill="#ea1c1c"/>
<circle cx="1583.3" cy="1590.5" r="5.2" fill="#ea1c1c"/>
<circle cx="1593.2" cy="1587.9" r="5.2" fill="#ea1c1c"/>
<circle cx="1603.2" cy="1585.4" r="5.2" fill="#ea1c1c"/>
<circle cx="1613.2" cy="1584.4" r="5.2" fill="#ea1c1c"/>
<circle cx="1623.2" cy="1584.4" r="5.2" fill="#ea1c1c"/>
<circle cx="1633.1" cy="1584" r="5.2" fill="#ea1c1c"/>
<circle cx="1643.1" cy="1582" r="5.2" fill="#ea1c1c"/>
<circle cx="1653.1" cy="1580" r="5.2" fill="#ea1c1c"/>
<circle cx="1663" cy="1578.1" r="5.2" fill="#ea1c1c"/>
<circle cx="1673" cy="1576.6" r="5.2" fill="#ea1c1c"/>
<circle cx="1683" cy="1575.1" r="5.2" fill="#ea1c1c"/>
<circle cx="1692.9" cy="1573.2" r="5.2" fill="#ea1c1c"/>
<circle cx="1702.9" cy="1571.2" r="5.2" fill="#ea1c1c"/>
<circle cx="1712.9" cy="1567.3" r="5.2" fill="#ea1c1c"/>
<circle cx="1722.9" cy="1563.4" r="5.2" fill="#ea1c1c"/>
<circle cx="1732.8" cy="1559.5" r="5.2" fill="#ea1c1c"/>
<circle cx="1742.8" cy="1555.6" r="5.2" fill="#ea1c1c"/>
<circle cx="1752.8" cy="1551.7" r="5.2" fill="#ea1c1c"/>
<circle cx="1762.7" cy="1549.7" r="5.2" fill="#ea1c1c"/>
<circle cx="1772.7" cy="1548.7" r="5.2" fill="#ea1c1c"/>
<circle cx="1782.7" cy="1548.7" r="5.2" fill="#ea1c1c"/>
<circle cx="1792.6" cy="1548.7" r="5.2" fill="#ea1c1c"/>
<circle cx="1802.6" cy="1549.7" r="5.2" fill="#ea1c1c"/>
<circle cx="1812.6" cy="1548.7" r="5.2" fill="#ea1c1c"/>
<circle cx="1822.6" cy="1547.7" r="5.2" fill="#ea1c1c"/>
<circle cx="1832.5" cy="1548.7" r="5.2" fill="#ea1c1c"/>
<circle cx="1842.5" cy="1549.7" r="5.2" fill="#ea1c1c"/>
<circle cx="1852.5" cy="1549.7" r="5.2" fill="#ea1c1c"/>
<circle cx="1862.4" cy="1548.7" r="5.2" fill="#ea1c1c"/>
<circle cx="1872.4" cy="1546.8" r="5.2" fill="#ea1c1c"/>
<circle cx="1882.4" cy="1545.8" r="5.2" fill="#ea1c1c"/>
<circle cx="1892.3" cy="1545.8" r="5.2" fill="#ea1c1c"/>
<circle cx="1902.3" cy="1546.8" r="5.2" fill="#ea1c1c"/>
<circle cx="1912.3" cy="1547.7" r="5.2" fill="#ea1c1c"/>
<circle cx="1922.2" cy="1547.7" r="5.2" fill="#ea1c1c"/>
<circle cx="1932.2" cy="1548.7" r="5.2" fill="#ea1c1c"/>
<circle cx="1942.2" cy="1549.7" r="5.2" fill="#ea1c1c"/>
<circle cx="1952.2" cy="1550.7" r="5.2" fill="#ea1c1c"/>
<circle cx="1962.1" cy="1550.7" r="5.2" fill="#ea1c1c"/>
<circle cx="1972.1" cy="1551.7" r="5.2" fill="#ea1c1c"/>
<polyline points="1373.9,788 1383.9,1003.4 1393.8,1214.2 1403.8,1348.4 1413.8,1427 1423.8,1488.7 1433.7,1523.5 1443.7,1546.6 1453.7,1570.9 1463.6,1585.4 1473.6,1592.8 1483.6,1589.4 1493.5,1582.8 1503.5,1581 1513.5,1584.8 1523.5,1586.9 1533.4,1587.9 1543.4,1586.9 1553.4,1586.9 1563.3,1585.9 1573.3,1584.9 1583.3,1584 1593.2,1582 1603.2,1580 1613.2,1578.1 1623.2,1577.7 1633.1,1580.6 1643.1,1583.7 1653.1,1585.9 1663,1586.4 1673,1582 1683,1578.1 1692.9,1575.1 1702.9,1573.2 1712.9,1569.3 1722.9,1565.4 1732.8,1564.5 1742.8,1564.5 1752.8,1564.5 1762.7,1564.9 1772.7,1564.5 1782.7,1563.4 1792.6,1561.4 1802.6,1557.5 1812.6,1555.6 1822.6,1555.6 1832.5,1557.5 1842.5,1559.5 1852.5,1559.5 1862.4,1558.5 1872.4,1557.5 1882.4,1555.6 1892.3,1555.6 1902.3,1557.5 1912.3,1559.5 1922.2,1561.4 1932.2,1561.4 1942.2,1557.5 1952.2,1553.6 1962.1,1551.7 1972.1,1561.4" fill="none" stroke="#c01818" stroke-width="4" stroke-linejoin="round"/>
<circle cx="1373.9" cy="788" r="5.2" fill="#c01818"/>
<circle cx="1383.9" cy="1003.4" r="5.2" fill="#c01818"/>
<circle cx="1393.8" cy="1214.2" r="5.2" fill="#c01818"/>
<circle cx="1403.8" cy="1348.4" r="5.2" fill="#c01818"/>
<circle cx="1413.8" cy="1427" r="5.2" fill="#c01818"/>
<circle cx="1423.8" cy="1488.7" r="5.2" fill="#c01818"/>
<circle cx="1433.7" cy="1523.5" r="5.2" fill="#c01818"/>
<circle cx="1443.7" cy="1546.6" r="5.2" fill="#c01818"/>
<circle cx="1453.7" cy="1570.9" r="5.2" fill="#c01818"/>
<circle cx="1463.6" cy="1585.4" r="5.2" fill="#c01818"/>
<circle cx="1473.6" cy="1592.8" r="5.2" fill="#c01818"/>
<circle cx="1483.6" cy="1589.4" r="5.2" fill="#c01818"/>
<circle cx="1493.5" cy="1582.8" r="5.2" fill="#c01818"/>
<circle cx="1503.5" cy="1581" r="5.2" fill="#c01818"/>
<circle cx="1513.5" cy="1584.8" r="5.2" fill="#c01818"/>
<circle cx="1523.5" cy="1586.9" r="5.2" fill="#c01818"/>
<circle cx="1533.4" cy="1587.9" r="5.2" fill="#c01818"/>
<circle cx="1543.4" cy="1586.9" r="5.2" fill="#c01818"/>
<circle cx="1553.4" cy="1586.9" r="5.2" fill="#c01818"/>
<circle cx="1563.3" cy="1585.9" r="5.2" fill="#c01818"/>
<circle cx="1573.3" cy="1584.9" r="5.2" fill="#c01818"/>
<circle cx="1583.3" cy="1584" r="5.2" fill="#c01818"/>
<circle cx="1593.2" cy="1582" r="5.2" fill="#c01818"/>
<circle cx="1603.2" cy="1580" r="5.2" fill="#c01818"/>
<circle cx="1613.2" cy="1578.1" r="5.2" fill="#c01818"/>
<circle cx="1623.2" cy="1577.7" r="5.2" fill="#c01818"/>
<circle cx="1633.1" cy="1580.6" r="5.2" fill="#c01818"/>
<circle cx="1643.1" cy="1583.7" r="5.2" fill="#c01818"/>
<circle cx="1653.1" cy="1585.9" r="5.2" fill="#c01818"/>
<circle cx="1663" cy="1586.4" r="5.2" fill="#c01818"/>
<circle cx="1673" cy="1582" r="5.2" fill="#c01818"/>
<circle cx="1683" cy="1578.1" r="5.2" fill="#c01818"/>
<circle cx="1692.9" cy="1575.1" r="5.2" fill="#c01818"/>
<circle cx="1702.9" cy="1573.2" r="5.2" fill="#c01818"/>
<circle cx="1712.9" cy="1569.3" r="5.2" fill="#c01818"/>
<circle cx="1722.9" cy="1565.4" r="5.2" fill="#c01818"/>
<circle cx="1732.8" cy="1564.5" r="5.2" fill="#c01818"/>
<circle cx="1742.8" cy="1564.5" r="5.2" fill="#c01818"/>
<circle cx="1752.8" cy="1564.5" r="5.2" fill="#c01818"/>
<circle cx="1762.7" cy="1564.9" r="5.2" fill="#c01818"/>
<circle cx="1772.7" cy="1564.5" r="5.2" fill="#c01818"/>
<circle cx="1782.7" cy="1563.4" r="5.2" fill="#c01818"/>
<circle cx="1792.6" cy="1561.4" r="5.2" fill="#c01818"/>
<circle cx="1802.6" cy="1557.5" r="5.2" fill="#c01818"/>
<circle cx="1812.6" cy="1555.6" r="5.2" fill="#c01818"/>
<circle cx="1822.6" cy="1555.6" r="5.2" fill="#c01818"/>
<circle cx="1832.5" cy="1557.5" r="5.2" fill="#c01818"/>
<circle cx="1842.5" cy="1559.5" r="5.2" fill="#c01818"/>
<circle cx="1852.5" cy="1559.5" r="5.2" fill="#c01818"/>
<circle cx="1862.4" cy="1558.5" r="5.2" fill="#c01818"/>
<circle cx="1872.4" cy="1557.5" r="5.2" fill="#c01818"/>
<circle cx="1882.4" cy="1555.6" r="5.2" fill="#c01818"/>
<circle cx="1892.3" cy="1555.6" r="5.2" fill="#c01818"/>
<circle cx="1902.3" cy="1557.5" r="5.2" fill="#c01818"/>
<circle cx="1912.3" cy="1559.5" r="5.2" fill="#c01818"/>
<circle cx="1922.2" cy="1561.4" r="5.2" fill="#c01818"/>
<circle cx="1932.2" cy="1561.4" r="5.2" fill="#c01818"/>
<circle cx="1942.2" cy="1557.5" r="5.2" fill="#c01818"/>
<circle cx="1952.2" cy="1553.6" r="5.2" fill="#c01818"/>
<circle cx="1962.1" cy="1551.7" r="5.2" fill="#c01818"/>
<circle cx="1972.1" cy="1561.4" r="5.2" fill="#c01818"/>
</g>
<rect x="1373.9" y="1111.1" width="598.7" height="587.8" fill="none" stroke="#000" stroke-width="3"/>
<text transform="translate(1735.9 1169.5) scale(1 1.04)" font-size="41" font-weight="bold" textLength="191" lengthAdjust="spacingAndGlyphs">TrK13-WT</text>
<line x1="1715.2" y1="1246.9" x2="1799.8" y2="1246.9" stroke="#ffcccc" stroke-width="7" stroke-linecap="butt"/>
<text transform="translate(1816.4 1262.3) scale(1 1.04)" font-size="40">0 <tspan font-family="'Liberation Serif', serif">μ</tspan>M</text>
<line x1="1715.2" y1="1295.9" x2="1799.8" y2="1295.9" stroke="#ff9999" stroke-width="7" stroke-linecap="butt"/>
<text transform="translate(1816.4 1311.3) scale(1 1.04)" font-size="40">10 <tspan font-family="'Liberation Serif', serif">μ</tspan>M</text>
<line x1="1715.2" y1="1344.9" x2="1799.8" y2="1344.9" stroke="#ff6666" stroke-width="7" stroke-linecap="butt"/>
<text transform="translate(1816.4 1358.6) scale(1 1.04)" font-size="40">20 <tspan font-family="'Liberation Serif', serif">μ</tspan>M</text>
<line x1="1715.2" y1="1393.6" x2="1799.8" y2="1393.6" stroke="#ff0000" stroke-width="7" stroke-linecap="butt"/>
<text transform="translate(1816.4 1407.6) scale(1 1.04)" font-size="40">30 <tspan font-family="'Liberation Serif', serif">μ</tspan>M</text>
<text transform="translate(7.1 1847) scale(1 1.04)" font-size="48.5" font-weight="bold">G</text>
<line x1="173.3" y1="1874.5" x2="183.4" y2="1874.5" stroke="#000" stroke-width="3" />
<text transform="translate(155.2 1885.4) scale(1 1.04)" font-size="32.2" text-anchor="end">0.7</text>
<line x1="175.5" y1="1949.9" x2="183.4" y2="1949.9" stroke="#000" stroke-width="3" />
<line x1="173.3" y1="2025.3" x2="183.4" y2="2025.3" stroke="#000" stroke-width="3" />
<text transform="translate(155.2 2036.2) scale(1 1.04)" font-size="32.2" text-anchor="end">0.5</text>
<line x1="175.5" y1="2100.7" x2="183.4" y2="2100.7" stroke="#000" stroke-width="3" />
<line x1="173.3" y1="2176.1" x2="183.4" y2="2176.1" stroke="#000" stroke-width="3" />
<text transform="translate(155.2 2187) scale(1 1.04)" font-size="32.2" text-anchor="end">0.3</text>
<line x1="175.5" y1="2251.5" x2="183.4" y2="2251.5" stroke="#000" stroke-width="3" />
<line x1="173.3" y1="2326.9" x2="183.4" y2="2326.9" stroke="#000" stroke-width="3" />
<text transform="translate(155.2 2337.8) scale(1 1.04)" font-size="32.2" text-anchor="end">0.1</text>
<line x1="175.5" y1="2402.3" x2="183.4" y2="2402.3" stroke="#000" stroke-width="3" />
<line x1="173.3" y1="2477.7" x2="183.4" y2="2477.7" stroke="#000" stroke-width="3" />
<text transform="translate(155.2 2488.6) scale(1 1.04)" font-size="32.2" text-anchor="end">-0.1</text>
<line x1="173.3" y1="2402.3" x2="1027.9" y2="2402.3" stroke="#000" stroke-width="3" />
<line x1="277.2" y1="2402.3" x2="277.2" y2="2409.8" stroke="#000" stroke-width="3" />
<line x1="371.1" y1="2402.3" x2="371.1" y2="2409.8" stroke="#000" stroke-width="3" />
<line x1="464.9" y1="2402.3" x2="464.9" y2="2409.8" stroke="#000" stroke-width="3" />
<line x1="558.7" y1="2402.3" x2="558.7" y2="2409.8" stroke="#000" stroke-width="3" />
<line x1="652.5" y1="2402.3" x2="652.5" y2="2409.8" stroke="#000" stroke-width="3" />
<line x1="746.4" y1="2402.3" x2="746.4" y2="2409.8" stroke="#000" stroke-width="3" />
<line x1="840.2" y1="2402.3" x2="840.2" y2="2409.8" stroke="#000" stroke-width="3" />
<line x1="934" y1="2402.3" x2="934" y2="2409.8" stroke="#000" stroke-width="3" />
<line x1="1027.8" y1="2402.3" x2="1027.8" y2="2409.8" stroke="#000" stroke-width="3" />
<text transform="translate(183.4 2452) scale(1 1.04)" font-size="32.2" text-anchor="middle">250</text>
<text transform="translate(371.1 2452) scale(1 1.04)" font-size="32.2" text-anchor="middle">350</text>
<text transform="translate(558.7 2452) scale(1 1.04)" font-size="32.2" text-anchor="middle">450</text>
<text transform="translate(746.4 2452) scale(1 1.04)" font-size="32.2" text-anchor="middle">550</text>
<text transform="translate(934 2452) scale(1 1.04)" font-size="32.2" text-anchor="middle">650</text>
<text transform="translate(559 2518.4) scale(1 1.04)" font-size="32.4" text-anchor="middle">Wavelength (nm)</text>
<text transform="translate(76.5 2180) rotate(-90) scale(1 1.04)" font-size="32.6" text-anchor="middle">Absorbance (AU)</text>
<polyline points="183.4,2398.5 185.3,2398.6 187.2,2398.6 189,2398.7 190.9,2398.7 192.8,2398.7 194.7,2398.8 196.5,2398.8 198.4,2398.8 200.3,2398.9 202.2,2398.9 204,2398.9 205.9,2399 207.8,2399 209.7,2399 211.5,2399 213.4,2399 215.3,2399.1 217.2,2399.1 219.1,2399.1 220.9,2399.1 222.8,2399.1 224.7,2399.2 226.6,2399.2 228.4,2399.2 230.3,2399.2 232.2,2399.2 234.1,2399.2 235.9,2399.2 237.8,2399.2 239.7,2399.2 241.6,2399.2 243.4,2399.2 245.3,2399.3 247.2,2399.3 249.1,2399.3 251,2399.3 252.8,2399.3 254.7,2399.3 256.6,2399.3 258.5,2399.3 260.3,2399.3 262.2,2399.3 264.1,2399.3 266,2399.3 267.8,2399.3 269.7,2399.3 271.6,2399.3 273.5,2399.3 275.3,2399.3 277.2,2399.3 279.1,2399.3 281,2399.3 282.9,2399.2 284.7,2399.2 286.6,2399.1 288.5,2399.1 290.4,2399 292.2,2398.9 294.1,2398.9 296,2398.8 297.9,2398.7 299.7,2398.6 301.6,2398.5 303.5,2398.4 305.4,2398.3 307.2,2398.2 309.1,2398.1 311,2398 312.9,2397.9 314.8,2397.9 316.6,2397.8 318.5,2397.7 320.4,2397.6 322.3,2397.6 324.1,2397.5 326,2397.4 327.9,2397.3 329.8,2397.3 331.6,2397.2 333.5,2397.1 335.4,2397.1 337.3,2397 339.1,2396.9 341,2396.8 342.9,2396.8 344.8,2396.7 346.7,2396.6 348.5,2396.5 350.4,2396.5 352.3,2396.4 354.2,2396.3 356,2396.2 357.9,2396.1 359.8,2396.1 361.7,2396 363.5,2395.9 365.4,2395.8 367.3,2395.7 369.2,2395.6 371.1,2395.5 372.9,2395.4 374.8,2395.3 376.7,2395.2 378.6,2395.1 380.4,2395 382.3,2394.8 384.2,2394.7 386.1,2394.6 387.9,2394.4 389.8,2394.3 391.7,2394.1 393.6,2394 395.4,2393.8 397.3,2393.7 399.2,2393.5 401.1,2393.4 403,2393.2 404.8,2393.1 406.7,2392.9 408.6,2392.8 410.5,2392.6 412.3,2392.5 414.2,2392.3 416.1,2392.2 418,2392.1 419.8,2391.9 421.7,2391.8 423.6,2391.7 425.5,2391.5 427.3,2391.4 429.2,2391.3 431.1,2391.2 433,2391.1 434.9,2391 436.7,2390.9 438.6,2390.8 440.5,2390.7 442.4,2390.6 444.2,2390.5 446.1,2390.4 448,2390.3 449.9,2390.2 451.7,2390.1 453.6,2390 455.5,2389.9 457.4,2389.8 459.2,2389.8 461.1,2389.7 463,2389.6 464.9,2389.6 466.8,2389.5 468.6,2389.5 470.5,2389.5 472.4,2389.5 474.3,2389.5 476.1,2389.5 478,2389.6 479.9,2389.7 481.8,2389.8 483.6,2389.9 485.5,2390.1 487.4,2390.2 489.3,2390.4 491.1,2390.5 493,2390.7 494.9,2390.8 496.8,2391 498.7,2391.2 500.5,2391.4 502.4,2391.6 504.3,2391.8 506.2,2392.1 508,2392.4 509.9,2392.6 511.8,2392.9 513.7,2393.2 515.5,2393.5 517.4,2393.8 519.3,2394.1 521.2,2394.4 523,2394.7 524.9,2394.9 526.8,2395.2 528.7,2395.4 530.6,2395.5 532.4,2395.7 534.3,2395.8 536.2,2395.9 538.1,2396 539.9,2396.1 541.8,2396.2 543.7,2396.3 545.6,2396.3 547.4,2396.4 549.3,2396.5 551.2,2396.6 553.1,2396.6 554.9,2396.7 556.8,2396.8 558.7,2396.8 560.6,2396.9 562.5,2397 564.3,2397 566.2,2397.1 568.1,2397.1 570,2397.2 571.8,2397.2 573.7,2397.3 575.6,2397.3 577.5,2397.4 579.3,2397.4 581.2,2397.4 583.1,2397.5 585,2397.5 586.8,2397.6 588.7,2397.6 590.6,2397.6 592.5,2397.7 594.4,2397.7 596.2,2397.7 598.1,2397.8 600,2397.8 601.9,2397.8 603.7,2397.9 605.6,2397.9 607.5,2398 609.4,2398 611.2,2398 613.1,2398.1 615,2398.1 616.9,2398.1 618.7,2398.2 620.6,2398.2 622.5,2398.2 624.4,2398.3 626.3,2398.3 628.1,2398.3 630,2398.3 631.9,2398.4 633.8,2398.4 635.6,2398.4 637.5,2398.4 639.4,2398.4 641.3,2398.5 643.1,2398.5 645,2398.5 646.9,2398.5 648.8,2398.5 650.6,2398.5 652.5,2398.5 654.4,2398.5 656.3,2398.5 658.2,2398.5 660,2398.5 661.9,2398.6 663.8,2398.6 665.7,2398.6 667.5,2398.6 669.4,2398.6 671.3,2398.6 673.2,2398.6 675,2398.6 676.9,2398.6 678.8,2398.6 680.7,2398.6 682.5,2398.6 684.4,2398.6 686.3,2398.6 688.2,2398.6 690.1,2398.6 691.9,2398.6 693.8,2398.6 695.7,2398.6 697.6,2398.6 699.4,2398.6 701.3,2398.6 703.2,2398.6 705.1,2398.6 706.9,2398.6 708.8,2398.6 710.7,2398.7 712.6,2398.7 714.4,2398.7 716.3,2398.7 718.2,2398.7 720.1,2398.7 722,2398.7 723.8,2398.7 725.7,2398.7 727.6,2398.7 729.5,2398.7 731.3,2398.7 733.2,2398.7 735.1,2398.7 737,2398.7 738.8,2398.7 740.7,2398.7 742.6,2398.7 744.5,2398.7 746.4,2398.7 748.2,2398.7 750.1,2398.7 752,2398.7 753.9,2398.7 755.7,2398.7 757.6,2398.7 759.5,2398.7 761.4,2398.7 763.2,2398.7 765.1,2398.7 767,2398.7 768.9,2398.7 770.7,2398.8 772.6,2398.8 774.5,2398.8 776.4,2398.8 778.3,2398.8 780.1,2398.8 782,2398.8 783.9,2398.8 785.8,2398.8 787.6,2398.8 789.5,2398.8 791.4,2398.8 793.3,2398.8 795.1,2398.8 797,2398.8 798.9,2398.8 800.8,2398.8 802.6,2398.8 804.5,2398.8 806.4,2398.8 808.3,2398.8 810.2,2398.8 812,2398.8 813.9,2398.8 815.8,2398.8 817.7,2398.8 819.5,2398.8 821.4,2398.8 823.3,2398.8 825.2,2398.8 827,2398.8 828.9,2398.8 830.8,2398.8 832.7,2398.8 834.5,2398.8 836.4,2398.8 838.3,2398.8 840.2,2398.8 842.1,2398.8 843.9,2398.8 845.8,2398.8 847.7,2398.8 849.6,2398.8 851.4,2398.8 853.3,2398.8 855.2,2398.8 857.1,2398.8 858.9,2398.8 860.8,2398.8 862.7,2398.8 864.6,2398.9 866.4,2398.9 868.3,2398.9 870.2,2398.9 872.1,2398.9 874,2398.9 875.8,2398.9 877.7,2398.9 879.6,2398.9 881.5,2398.9 883.3,2398.9 885.2,2398.9 887.1,2398.9 889,2398.9 890.8,2398.9 892.7,2398.9 894.6,2398.9 896.5,2398.9 898.3,2398.9 900.2,2398.9 902.1,2398.9 904,2398.9 905.9,2398.9 907.7,2398.9 909.6,2398.9 911.5,2398.9 913.4,2398.9 915.2,2398.9 917.1,2398.9 919,2398.9 920.9,2398.9 922.7,2398.9 924.6,2398.9 926.5,2398.9 928.4,2398.9 930.2,2398.9 932.1,2398.9 934,2398.9 935.9,2398.9 937.8,2398.9 939.6,2398.9 941.5,2398.9 943.4,2398.9 945.3,2398.9 947.1,2398.9 949,2398.9 950.9,2398.9 952.8,2398.9 954.6,2398.9 956.5,2398.9 958.4,2398.9 960.3,2398.9 962.1,2398.9 964,2398.9 965.9,2398.9 967.8,2398.9 969.7,2398.9 971.5,2398.9 973.4,2398.9 975.3,2398.9 977.2,2398.9 979,2398.9 980.9,2398.9 982.8,2398.9 984.7,2398.9 986.5,2398.9 988.4,2398.9 990.3,2398.9 992.2,2398.9 994,2398.9 995.9,2398.9 997.8,2398.9 999.7,2398.9 1001.6,2398.9 1003.4,2398.9 1005.3,2398.9 1007.2,2398.9 1009.1,2398.9 1010.9,2398.9 1012.8,2398.9 1014.7,2398.9 1016.6,2398.9 1018.4,2398.9 1020.3,2398.9 1022.2,2398.9 1024.1,2398.9 1025.9,2398.9 1027.8,2398.9" fill="none" stroke="#00b050" stroke-width="3.7" stroke-linejoin="round" stroke-linecap="round" stroke-dasharray="13 13" stroke-linecap="butt"/>
<polyline points="183.4,2413.4 185.3,2413.5 187.2,2413.6 189,2413.7 190.9,2413.8 192.8,2413.9 194.7,2414 196.5,2414.1 198.4,2414.1 200.3,2414.2 202.2,2414.3 204,2414.4 205.9,2414.5 207.8,2414.6 209.7,2414.7 211.5,2414.7 213.4,2414.8 215.3,2414.9 217.2,2415 219.1,2415 220.9,2415.1 222.8,2415.2 224.7,2415.3 226.6,2415.3 228.4,2415.4 230.3,2415.5 232.2,2415.6 234.1,2415.6 235.9,2415.7 237.8,2415.8 239.7,2415.9 241.6,2415.9 243.4,2416 245.3,2416.1 247.2,2416.2 249.1,2416.2 251,2416.3 252.8,2416.3 254.7,2416.4 256.6,2416.4 258.5,2416.5 260.3,2416.5 262.2,2416.6 264.1,2416.6 266,2416.6 267.8,2416.6 269.7,2416.6 271.6,2416.6 273.5,2416.6 275.3,2416.5 277.2,2416.4 279.1,2416.3 281,2416.1 282.9,2415.9 284.7,2415.7 286.6,2415.5 288.5,2415.3 290.4,2415 292.2,2414.7 294.1,2414.5 296,2414.2 297.9,2413.9 299.7,2413.6 301.6,2413.3 303.5,2413.1 305.4,2412.8 307.2,2412.6 309.1,2412.3 311,2412.1 312.9,2411.9 314.8,2411.6 316.6,2411.4 318.5,2411.2 320.4,2410.9 322.3,2410.6 324.1,2410.4 326,2410.1 327.9,2409.9 329.8,2409.6 331.6,2409.4 333.5,2409.2 335.4,2409 337.3,2408.8 339.1,2408.6 341,2408.5 342.9,2408.4 344.8,2408.3 346.7,2408.2 348.5,2408.2 350.4,2408.1 352.3,2408 354.2,2408 356,2407.9 357.9,2407.8 359.8,2407.8 361.7,2407.7 363.5,2407.7 365.4,2407.6 367.3,2407.6 369.2,2407.5 371.1,2407.5 372.9,2407.5 374.8,2407.4 376.7,2407.4 378.6,2407.3 380.4,2407.3 382.3,2407.3 384.2,2407.3 386.1,2407.2 387.9,2407.2 389.8,2407.2 391.7,2407.2 393.6,2407.1 395.4,2407.1 397.3,2407.1 399.2,2407.1 401.1,2407.1 403,2407.1 404.8,2407.1 406.7,2407.1 408.6,2407 410.5,2407 412.3,2407 414.2,2407 416.1,2407 418,2407 419.8,2407 421.7,2407 423.6,2407 425.5,2406.9 427.3,2406.9 429.2,2406.9 431.1,2406.9 433,2406.9 434.9,2406.9 436.7,2406.9 438.6,2406.9 440.5,2406.9 442.4,2406.9 444.2,2406.9 446.1,2406.9 448,2406.9 449.9,2406.9 451.7,2406.8 453.6,2406.8 455.5,2406.8 457.4,2406.8 459.2,2406.8 461.1,2406.8 463,2406.8 464.9,2406.8 466.8,2406.8 468.6,2406.8 470.5,2406.8 472.4,2406.8 474.3,2406.8 476.1,2406.9 478,2407 479.9,2407.1 481.8,2407.3 483.6,2407.4 485.5,2407.6 487.4,2407.8 489.3,2408 491.1,2408.1 493,2408.3 494.9,2408.4 496.8,2408.6 498.7,2408.7 500.5,2408.8 502.4,2408.9 504.3,2409 506.2,2409.1 508,2409.2 509.9,2409.3 511.8,2409.4 513.7,2409.5 515.5,2409.6 517.4,2409.7 519.3,2409.8 521.2,2409.9 523,2410 524.9,2410.1 526.8,2410.2 528.7,2410.3 530.6,2410.4 532.4,2410.5 534.3,2410.6 536.2,2410.6 538.1,2410.7 539.9,2410.8 541.8,2410.8 543.7,2410.9 545.6,2410.9 547.4,2411 549.3,2411 551.2,2411.1 553.1,2411.1 554.9,2411.1 556.8,2411.2 558.7,2411.2 560.6,2411.2 562.5,2411.3 564.3,2411.3 566.2,2411.3 568.1,2411.3 570,2411.4 571.8,2411.4 573.7,2411.4 575.6,2411.4 577.5,2411.5 579.3,2411.5 581.2,2411.5 583.1,2411.5 585,2411.6 586.8,2411.6 588.7,2411.6 590.6,2411.6 592.5,2411.6 594.4,2411.7 596.2,2411.7 598.1,2411.7 600,2411.8 601.9,2411.8 603.7,2411.8 605.6,2411.8 607.5,2411.9 609.4,2411.9 611.2,2411.9 613.1,2411.9 615,2412 616.9,2412 618.7,2412 620.6,2412 622.5,2412.1 624.4,2412.1 626.3,2412.1 628.1,2412.2 630,2412.2 631.9,2412.2 633.8,2412.2 635.6,2412.3 637.5,2412.3 639.4,2412.3 641.3,2412.3 643.1,2412.4 645,2412.4 646.9,2412.4 648.8,2412.5 650.6,2412.5 652.5,2412.5 654.4,2412.5 656.3,2412.6 658.2,2412.6 660,2412.6 661.9,2412.6 663.8,2412.7 665.7,2412.7 667.5,2412.7 669.4,2412.7 671.3,2412.8 673.2,2412.8 675,2412.8 676.9,2412.8 678.8,2412.9 680.7,2412.9 682.5,2412.9 684.4,2412.9 686.3,2413 688.2,2413 690.1,2413 691.9,2413 693.8,2413.1 695.7,2413.1 697.6,2413.1 699.4,2413.1 701.3,2413.2 703.2,2413.2 705.1,2413.2 706.9,2413.2 708.8,2413.2 710.7,2413.3 712.6,2413.3 714.4,2413.3 716.3,2413.3 718.2,2413.3 720.1,2413.4 722,2413.4 723.8,2413.4 725.7,2413.4 727.6,2413.4 729.5,2413.5 731.3,2413.5 733.2,2413.5 735.1,2413.5 737,2413.5 738.8,2413.5 740.7,2413.6 742.6,2413.6 744.5,2413.6 746.4,2413.6 748.2,2413.6 750.1,2413.6 752,2413.7 753.9,2413.7 755.7,2413.7 757.6,2413.7 759.5,2413.7 761.4,2413.7 763.2,2413.7 765.1,2413.8 767,2413.8 768.9,2413.8 770.7,2413.8 772.6,2413.8 774.5,2413.8 776.4,2413.8 778.3,2413.9 780.1,2413.9 782,2413.9 783.9,2413.9 785.8,2413.9 787.6,2413.9 789.5,2413.9 791.4,2414 793.3,2414 795.1,2414 797,2414 798.9,2414 800.8,2414 802.6,2414 804.5,2414.1 806.4,2414.1 808.3,2414.1 810.2,2414.1 812,2414.1 813.9,2414.1 815.8,2414.1 817.7,2414.2 819.5,2414.2 821.4,2414.2 823.3,2414.2 825.2,2414.2 827,2414.2 828.9,2414.2 830.8,2414.3 832.7,2414.3 834.5,2414.3 836.4,2414.3 838.3,2414.3 840.2,2414.3 842.1,2414.3 843.9,2414.3 845.8,2414.4 847.7,2414.4 849.6,2414.4 851.4,2414.4 853.3,2414.4 855.2,2414.4 857.1,2414.4 858.9,2414.4 860.8,2414.5 862.7,2414.5 864.6,2414.5 866.4,2414.5 868.3,2414.5 870.2,2414.5 872.1,2414.5 874,2414.5 875.8,2414.6 877.7,2414.6 879.6,2414.6 881.5,2414.6 883.3,2414.6 885.2,2414.6 887.1,2414.6 889,2414.6 890.8,2414.6 892.7,2414.7 894.6,2414.7 896.5,2414.7 898.3,2414.7 900.2,2414.7 902.1,2414.7 904,2414.7 905.9,2414.7 907.7,2414.7 909.6,2414.7 911.5,2414.8 913.4,2414.8 915.2,2414.8 917.1,2414.8 919,2414.8 920.9,2414.8 922.7,2414.8 924.6,2414.8 926.5,2414.8 928.4,2414.8 930.2,2414.9 932.1,2414.9 934,2414.9 935.9,2414.9 937.8,2414.9 939.6,2414.9 941.5,2414.9 943.4,2414.9 945.3,2414.9 947.1,2414.9 949,2414.9 950.9,2414.9 952.8,2414.9 954.6,2415 956.5,2415 958.4,2415 960.3,2415 962.1,2415 964,2415 965.9,2415 967.8,2415 969.7,2415 971.5,2415 973.4,2415 975.3,2415 977.2,2415 979,2415 980.9,2415 982.8,2415 984.7,2415 986.5,2415.1 988.4,2415.1 990.3,2415.1 992.2,2415.1 994,2415.1 995.9,2415.1 997.8,2415.1 999.7,2415.1 1001.6,2415.1 1003.4,2415.1 1005.3,2415.1 1007.2,2415.1 1009.1,2415.1 1010.9,2415.1 1012.8,2415.1 1014.7,2415.1 1016.6,2415.1 1018.4,2415.1 1020.3,2415.1 1022.2,2415.1 1024.1,2415.1 1025.9,2415.1 1027.8,2415.1" fill="none" stroke="#ff0000" stroke-width="3.7" stroke-linejoin="round" stroke-linecap="round" stroke-dasharray="13 13" stroke-linecap="butt"/>
<polyline points="183.4,2413.4 185.3,2413.5 187.2,2413.6 189,2413.7 190.9,2413.9 192.8,2414 194.7,2414.1 196.5,2414.2 198.4,2414.3 200.3,2414.4 202.2,2414.5 204,2414.6 205.9,2414.7 207.8,2414.8 209.7,2414.9 211.5,2415 213.4,2415.1 215.3,2415.2 217.2,2415.2 219.1,2415.3 220.9,2415.4 222.8,2415.5 224.7,2415.5 226.6,2415.6 228.4,2415.6 230.3,2415.7 232.2,2415.7 234.1,2415.8 235.9,2415.8 237.8,2415.8 239.7,2415.8 241.6,2415.9 243.4,2415.9 245.3,2415.9 247.2,2415.9 249.1,2415.9 251,2415.9 252.8,2415.9 254.7,2415.9 256.6,2415.9 258.5,2415.9 260.3,2415.9 262.2,2415.9 264.1,2415.9 266,2415.9 267.8,2415.9 269.7,2415.9 271.6,2415.9 273.5,2415.9 275.3,2415.9 277.2,2415.9 279.1,2415.9 281,2415.9 282.9,2415.9 284.7,2415.9 286.6,2415.9 288.5,2415.7 290.4,2415.5 292.2,2415.2 294.1,2414.8 296,2414.3 297.9,2413.8 299.7,2413.2 301.6,2412.6 303.5,2412 305.4,2411.4 307.2,2410.9 309.1,2410.3 311,2409.8 312.9,2409.4 314.8,2408.9 316.6,2408.4 318.5,2407.9 320.4,2407.5 322.3,2407 324.1,2406.5 326,2406 327.9,2405.5 329.8,2405 331.6,2404.5 333.5,2404.1 335.4,2403.6 337.3,2403.2 339.1,2402.7 341,2402.3 342.9,2401.9 344.8,2401.5 346.7,2401.1 348.5,2400.7 350.4,2400.3 352.3,2400 354.2,2399.6 356,2399.2 357.9,2398.9 359.8,2398.5 361.7,2398.1 363.5,2397.8 365.4,2397.4 367.3,2397 369.2,2396.6 371.1,2396.3 372.9,2395.9 374.8,2395.5 376.7,2395 378.6,2394.6 380.4,2394.2 382.3,2393.7 384.2,2393.3 386.1,2392.8 387.9,2392.4 389.8,2391.9 391.7,2391.5 393.6,2391 395.4,2390.6 397.3,2390.2 399.2,2389.8 401.1,2389.4 403,2389 404.8,2388.7 406.7,2388.3 408.6,2388 410.5,2387.7 412.3,2387.5 414.2,2387.2 416.1,2387 418,2386.8 419.8,2386.6 421.7,2386.3 423.6,2386.1 425.5,2385.9 427.3,2385.7 429.2,2385.5 431.1,2385.3 433,2385.2 434.9,2385 436.7,2384.9 438.6,2384.8 440.5,2384.7 442.4,2384.6 444.2,2384.5 446.1,2384.5 448,2384.5 449.9,2384.5 451.7,2384.5 453.6,2384.5 455.5,2384.6 457.4,2384.6 459.2,2384.6 461.1,2384.7 463,2384.7 464.9,2384.7 466.8,2384.8 468.6,2384.8 470.5,2384.9 472.4,2385 474.3,2385.1 476.1,2385.2 478,2385.5 479.9,2385.8 481.8,2386.1 483.6,2386.5 485.5,2386.9 487.4,2387.3 489.3,2387.8 491.1,2388.2 493,2388.6 494.9,2389 496.8,2389.4 498.7,2389.7 500.5,2390.1 502.4,2390.4 504.3,2390.8 506.2,2391.1 508,2391.5 509.9,2391.9 511.8,2392.3 513.7,2392.6 515.5,2393 517.4,2393.4 519.3,2393.7 521.2,2394 523,2394.4 524.9,2394.6 526.8,2394.9 528.7,2395.2 530.6,2395.4 532.4,2395.6 534.3,2395.8 536.2,2395.9 538.1,2396 539.9,2396.1 541.8,2396.3 543.7,2396.4 545.6,2396.5 547.4,2396.6 549.3,2396.7 551.2,2396.8 553.1,2396.9 554.9,2396.9 556.8,2397 558.7,2397.1 560.6,2397.2 562.5,2397.3 564.3,2397.3 566.2,2397.4 568.1,2397.5 570,2397.5 571.8,2397.6 573.7,2397.7 575.6,2397.7 577.5,2397.8 579.3,2397.8 581.2,2397.9 583.1,2398 585,2398 586.8,2398.1 588.7,2398.2 590.6,2398.2 592.5,2398.3 594.4,2398.4 596.2,2398.5 598.1,2398.5 600,2398.6 601.9,2398.7 603.7,2398.8 605.6,2398.8 607.5,2398.9 609.4,2399 611.2,2399.1 613.1,2399.2 615,2399.2 616.9,2399.3 618.7,2399.4 620.6,2399.5 622.5,2399.6 624.4,2399.6 626.3,2399.7 628.1,2399.8 630,2399.9 631.9,2399.9 633.8,2400 635.6,2400.1 637.5,2400.2 639.4,2400.3 641.3,2400.3 643.1,2400.4 645,2400.5 646.9,2400.6 648.8,2400.6 650.6,2400.7 652.5,2400.8 654.4,2400.9 656.3,2400.9 658.2,2401 660,2401.1 661.9,2401.2 663.8,2401.3 665.7,2401.3 667.5,2401.4 669.4,2401.5 671.3,2401.6 673.2,2401.7 675,2401.7 676.9,2401.8 678.8,2401.9 680.7,2402 682.5,2402.1 684.4,2402.1 686.3,2402.2 688.2,2402.3 690.1,2402.4 691.9,2402.5 693.8,2402.5 695.7,2402.6 697.6,2402.7 699.4,2402.8 701.3,2402.8 703.2,2402.9 705.1,2403 706.9,2403.1 708.8,2403.1 710.7,2403.2 712.6,2403.3 714.4,2403.3 716.3,2403.4 718.2,2403.5 720.1,2403.6 722,2403.6 723.8,2403.7 725.7,2403.7 727.6,2403.8 729.5,2403.9 731.3,2403.9 733.2,2404 735.1,2404 737,2404.1 738.8,2404.2 740.7,2404.2 742.6,2404.3 744.5,2404.3 746.4,2404.4 748.2,2404.5 750.1,2404.5 752,2404.6 753.9,2404.6 755.7,2404.7 757.6,2404.7 759.5,2404.8 761.4,2404.8 763.2,2404.9 765.1,2404.9 767,2405 768.9,2405 770.7,2405.1 772.6,2405.1 774.5,2405.2 776.4,2405.2 778.3,2405.3 780.1,2405.3 782,2405.4 783.9,2405.4 785.8,2405.5 787.6,2405.5 789.5,2405.6 791.4,2405.6 793.3,2405.7 795.1,2405.7 797,2405.8 798.9,2405.8 800.8,2405.9 802.6,2405.9 804.5,2406 806.4,2406 808.3,2406.1 810.2,2406.1 812,2406.2 813.9,2406.2 815.8,2406.2 817.7,2406.3 819.5,2406.3 821.4,2406.4 823.3,2406.4 825.2,2406.5 827,2406.5 828.9,2406.6 830.8,2406.6 832.7,2406.6 834.5,2406.7 836.4,2406.7 838.3,2406.8 840.2,2406.8 842.1,2406.9 843.9,2406.9 845.8,2407 847.7,2407 849.6,2407 851.4,2407.1 853.3,2407.1 855.2,2407.2 857.1,2407.2 858.9,2407.3 860.8,2407.3 862.7,2407.3 864.6,2407.4 866.4,2407.4 868.3,2407.5 870.2,2407.5 872.1,2407.6 874,2407.6 875.8,2407.6 877.7,2407.7 879.6,2407.7 881.5,2407.8 883.3,2407.8 885.2,2407.8 887.1,2407.9 889,2407.9 890.8,2408 892.7,2408 894.6,2408.1 896.5,2408.1 898.3,2408.1 900.2,2408.2 902.1,2408.2 904,2408.3 905.9,2408.3 907.7,2408.3 909.6,2408.4 911.5,2408.4 913.4,2408.5 915.2,2408.5 917.1,2408.5 919,2408.6 920.9,2408.6 922.7,2408.6 924.6,2408.7 926.5,2408.7 928.4,2408.8 930.2,2408.8 932.1,2408.8 934,2408.9 935.9,2408.9 937.8,2409 939.6,2409 941.5,2409 943.4,2409.1 945.3,2409.1 947.1,2409.1 949,2409.2 950.9,2409.2 952.8,2409.3 954.6,2409.3 956.5,2409.3 958.4,2409.4 960.3,2409.4 962.1,2409.4 964,2409.5 965.9,2409.5 967.8,2409.5 969.7,2409.6 971.5,2409.6 973.4,2409.7 975.3,2409.7 977.2,2409.7 979,2409.8 980.9,2409.8 982.8,2409.8 984.7,2409.9 986.5,2409.9 988.4,2409.9 990.3,2410 992.2,2410 994,2410 995.9,2410.1 997.8,2410.1 999.7,2410.1 1001.6,2410.2 1003.4,2410.2 1005.3,2410.2 1007.2,2410.3 1009.1,2410.3 1010.9,2410.3 1012.8,2410.3 1014.7,2410.4 1016.6,2410.4 1018.4,2410.4 1020.3,2410.5 1022.2,2410.5 1024.1,2410.5 1025.9,2410.6 1027.8,2410.6" fill="none" stroke="#0070c0" stroke-width="3.7" stroke-linejoin="round" stroke-linecap="round" stroke-dasharray="13 13" stroke-linecap="butt" stroke-dashoffset="6"/>
<polyline points="183.4,2240.2 185.3,2241.9 187.2,2242.8 189,2243.1 190.9,2243.2 192.8,2242.2 194.7,2238.8 196.5,2234.4 198.4,2230.2 200.3,2227.3 202.2,2225 204,2222.8 205.9,2220.3 207.8,2217.3 209.7,2213.3 211.5,2208.6 213.4,2203.5 215.3,2198.4 217.2,2193.7 219.1,2189.6 220.9,2185.2 222.8,2180.7 224.7,2176.2 226.6,2172.1 228.4,2168.5 230.3,2165.9 232.2,2164.3 234.1,2164.2 235.9,2165.4 237.8,2167.6 239.7,2170.1 241.6,2172.9 243.4,2176.5 245.3,2181.4 247.2,2189.3 249.1,2200.8 251,2213.9 252.8,2226.6 254.7,2238.1 256.6,2249.9 258.5,2261.7 260.3,2273 262.2,2283.3 264.1,2292.7 266,2301.6 267.8,2310 269.7,2317.7 271.6,2324.5 273.5,2330.2 275.3,2335.3 277.2,2339.8 279.1,2343.5 281,2346.8 282.9,2349.8 284.7,2352.3 286.6,2354 288.5,2355.3 290.4,2356.4 292.2,2357.3 294.1,2358 296,2358.6 297.9,2359 299.7,2359.3 301.6,2359.7 303.5,2360 305.4,2360.3 307.2,2360.5 309.1,2360.7 311,2360.9 312.9,2361.1 314.8,2361.3 316.6,2361.5 318.5,2361.6 320.4,2361.8 322.3,2361.9 324.1,2362 326,2362.1 327.9,2362.2 329.8,2362.3 331.6,2362.3 333.5,2362.4 335.4,2362.5 337.3,2362.6 339.1,2362.6 341,2362.7 342.9,2362.8 344.8,2362.9 346.7,2363 348.5,2363.1 350.4,2363.2 352.3,2363.4 354.2,2363.6 356,2363.8 357.9,2364 359.8,2364.3 361.7,2364.5 363.5,2364.7 365.4,2365 367.3,2365.2 369.2,2365.4 371.1,2365.5 372.9,2365.7 374.8,2365.8 376.7,2366 378.6,2366.2 380.4,2366.3 382.3,2366.5 384.2,2366.6 386.1,2366.8 387.9,2366.9 389.8,2367.1 391.7,2367.2 393.6,2367.4 395.4,2367.5 397.3,2367.6 399.2,2367.7 401.1,2367.8 403,2367.9 404.8,2367.9 406.7,2368 408.6,2368 410.5,2368.1 412.3,2367.8 414.2,2366.4 416.1,2366.2 418,2366.1 419.8,2366 421.7,2366 423.6,2365.9 425.5,2365.8 427.3,2365.8 429.2,2365.7 431.1,2365.7 433,2365.7 434.9,2365.7 436.7,2365.6 438.6,2365.6 440.5,2365.6 442.4,2365.6 444.2,2365.5 446.1,2365.5 448,2365.5 449.9,2365.5 451.7,2365.4 453.6,2365.4 455.5,2365.4 457.4,2365.3 459.2,2365.2 461.1,2365.2 463,2365.1 464.9,2365 466.8,2365 468.6,2364.9 470.5,2364.8 472.4,2364.8 474.3,2364.7 476.1,2364.6 478,2364.6 479.9,2364.5 481.8,2364.5 483.6,2364.4 485.5,2364.4 487.4,2364.3 489.3,2364.3 491.1,2364.3 493,2365.1 494.9,2367.1 496.8,2367.7 498.7,2368.2 500.5,2368.5 502.4,2368.8 504.3,2369 506.2,2369.2 508,2369.4 509.9,2369.6 511.8,2369.9 513.7,2370.2 515.5,2370.4 517.4,2370.7 519.3,2370.9 521.2,2371.2 523,2371.4 524.9,2371.7 526.8,2371.9 528.7,2372.2 530.6,2372.5 532.4,2372.8 534.3,2373.2 536.2,2373.6 538.1,2374.1 539.9,2374.6 541.8,2375 543.7,2375.5 545.6,2375.9 547.4,2376.2 549.3,2376.5 551.2,2376.7 553.1,2377 554.9,2377.2 556.8,2377.5 558.7,2377.7 560.6,2377.9 562.5,2378.1 564.3,2378.3 566.2,2378.5 568.1,2378.6 570,2378.8 571.8,2379 573.7,2379.1 575.6,2379.2 577.5,2379.4 579.3,2379.5 581.2,2379.6 583.1,2379.7 585,2379.9 586.8,2380 588.7,2380.1 590.6,2380.2 592.5,2380.3 594.4,2380.4 596.2,2380.4 598.1,2380.5 600,2380.6 601.9,2380.7 603.7,2380.8 605.6,2380.8 607.5,2380.9 609.4,2381 611.2,2381.1 613.1,2381.1 615,2381.2 616.9,2381.3 618.7,2381.3 620.6,2381.4 622.5,2381.5 624.4,2381.5 626.3,2381.6 628.1,2381.6 630,2381.7 631.9,2381.8 633.8,2381.8 635.6,2381.9 637.5,2382 639.4,2382 641.3,2382.1 643.1,2382.1 645,2382.2 646.9,2382.3 648.8,2382.3 650.6,2382.4 652.5,2382.4 654.4,2382.5 656.3,2382.5 658.2,2382.6 660,2382.7 661.9,2382.7 663.8,2382.8 665.7,2382.8 667.5,2382.9 669.4,2382.9 671.3,2382.9 673.2,2383 675,2383 676.9,2383.1 678.8,2383.1 680.7,2383.2 682.5,2383.2 684.4,2383.2 686.3,2383.3 688.2,2383.3 690.1,2383.3 691.9,2383.4 693.8,2383.4 695.7,2383.4 697.6,2383.5 699.4,2383.5 701.3,2383.5 703.2,2383.5 705.1,2383.6 706.9,2383.6 708.8,2383.6 710.7,2383.7 712.6,2383.7 714.4,2383.7 716.3,2383.7 718.2,2383.8 720.1,2383.8 722,2383.8 723.8,2383.8 725.7,2383.9 727.6,2383.9 729.5,2383.9 731.3,2383.9 733.2,2384 735.1,2384 737,2384 738.8,2384 740.7,2384.1 742.6,2384.1 744.5,2384.1 746.4,2384.1 748.2,2384.2 750.1,2384.2 752,2384.2 753.9,2384.2 755.7,2384.3 757.6,2384.3 759.5,2384.3 761.4,2384.3 763.2,2384.3 765.1,2384.4 767,2384.4 768.9,2384.4 770.7,2384.4 772.6,2384.4 774.5,2384.5 776.4,2384.5 778.3,2384.5 780.1,2384.5 782,2384.5 783.9,2384.6 785.8,2384.6 787.6,2384.6 789.5,2384.6 791.4,2384.6 793.3,2384.6 795.1,2384.7 797,2384.7 798.9,2384.7 800.8,2384.7 802.6,2384.7 804.5,2384.7 806.4,2384.7 808.3,2384.8 810.2,2384.8 812,2384.8 813.9,2384.8 815.8,2384.8 817.7,2384.8 819.5,2384.8 821.4,2384.8 823.3,2384.9 825.2,2384.9 827,2384.9 828.9,2384.9 830.8,2384.9 832.7,2384.9 834.5,2384.9 836.4,2384.9 838.3,2384.9 840.2,2384.9 842.1,2384.9 843.9,2384.9 845.8,2384.9 847.7,2384.9 849.6,2384.9 851.4,2385 853.3,2385 855.2,2385 857.1,2385 858.9,2385 860.8,2385 862.7,2385 864.6,2385 866.4,2385 868.3,2385 870.2,2385 872.1,2385 874,2385 875.8,2385 877.7,2385 879.6,2385 881.5,2385 883.3,2385 885.2,2385 887.1,2385 889,2385 890.8,2385 892.7,2385 894.6,2385 896.5,2385 898.3,2385 900.2,2385 902.1,2385 904,2385 905.9,2385 907.7,2385 909.6,2385 911.5,2385 913.4,2385 915.2,2385 917.1,2385 919,2385 920.9,2385 922.7,2385 924.6,2385 926.5,2385 928.4,2385 930.2,2385 932.1,2385 934,2385 935.9,2385 937.8,2385 939.6,2385 941.5,2385 943.4,2385 945.3,2385 947.1,2385 949,2385 950.9,2385 952.8,2385 954.6,2385 956.5,2385 958.4,2385 960.3,2385 962.1,2385 964,2385 965.9,2385 967.8,2385 969.7,2385 971.5,2385 973.4,2385 975.3,2385 977.2,2385 979,2385 980.9,2385 982.8,2385 984.7,2385 986.5,2385 988.4,2385 990.3,2385 992.2,2385 994,2385 995.9,2385 997.8,2385 999.7,2385 1001.6,2385 1003.4,2385 1005.3,2385 1007.2,2385 1009.1,2385 1010.9,2385 1012.8,2385 1014.7,2385 1016.6,2385 1018.4,2385 1020.3,2385 1022.2,2385 1024.1,2385 1025.9,2385 1027.8,2385" fill="none" stroke="#000" stroke-width="3.8" stroke-linejoin="round" stroke-linecap="round" />
<polyline points="183.4,2067.5 185.3,2071.9 187.2,2075.4 189,2077.8 190.9,2078.8 192.8,2078.4 194.7,2076.8 196.5,2074.2 198.4,2071.2 200.3,2067.9 202.2,2064.8 204,2061.6 205.9,2058 207.8,2054 209.7,2049.8 211.5,2045.6 213.4,2041.5 215.3,2037.8 217.2,2034.5 219.1,2031.8 220.9,2029.1 222.8,2026.4 224.7,2023.9 226.6,2021.7 228.4,2020.2 230.3,2019.3 232.2,2019.5 234.1,2020.7 235.9,2022.7 237.8,2025.4 239.7,2028.3 241.6,2032.3 243.4,2038.1 245.3,2045.2 247.2,2053.5 249.1,2064.6 251,2078.4 252.8,2093.2 254.7,2109.7 256.6,2128.9 258.5,2146.2 260.3,2157 262.2,2163.7 264.1,2170 266,2176.4 267.8,2182.7 269.7,2188.5 271.6,2193.7 273.5,2198 275.3,2201 277.2,2203.3 279.1,2205.4 281,2207.2 282.9,2208.7 284.7,2209.7 286.6,2210 288.5,2209.7 290.4,2208.8 292.2,2207.5 294.1,2205.7 296,2203.6 297.9,2201.2 299.7,2198.7 301.6,2196.1 303.5,2192.3 305.4,2187.4 307.2,2181.7 309.1,2175.4 311,2168.9 312.9,2162.3 314.8,2156 316.6,2150.2 318.5,2144.9 320.4,2139.7 322.3,2134.5 324.1,2129.4 326,2124.3 327.9,2119.2 329.8,2114.2 331.6,2109.2 333.5,2104.3 335.4,2099.3 337.3,2094.4 339.1,2089.4 341,2084.5 342.9,2079.5 344.8,2074.5 346.7,2069.5 348.5,2064.5 350.4,2059.4 352.3,2054.3 354.2,2049.2 356,2044 357.9,2038.8 359.8,2033.6 361.7,2028.4 363.5,2023.2 365.4,2018 367.3,2012.9 369.2,2007.8 371.1,2002.8 372.9,1997.8 374.8,1992.9 376.7,1988.1 378.6,1983.4 380.4,1978.9 382.3,1974.2 384.2,1969.5 386.1,1964.9 387.9,1960.4 389.8,1956.4 391.7,1952.8 393.6,1949.8 395.4,1947.3 397.3,1945 399.2,1942.9 401.1,1940.9 403,1939.1 404.8,1937.3 406.7,1935.5 408.6,1933.7 410.5,1931.9 412.3,1929.9 414.2,1927.8 416.1,1925.6 418,1923.3 419.8,1921.1 421.7,1919 423.6,1916.9 425.5,1915.1 427.3,1913.4 429.2,1911.9 431.1,1910.3 433,1908.8 434.9,1907.3 436.7,1906 438.6,1905 440.5,1904.2 442.4,1903.9 444.2,1904.1 446.1,1904.7 448,1905.6 449.9,1906.8 451.7,1908.1 453.6,1910.3 455.5,1913.2 457.4,1916.7 459.2,1920.5 461.1,1924.3 463,1928.7 464.9,1933.6 466.8,1938.8 468.6,1944.2 470.5,1949.6 472.4,1955.1 474.3,1960.8 476.1,1966.8 478,1973 479.9,1979.6 481.8,1986.5 483.6,1993.7 485.5,2001.4 487.4,2009.7 489.3,2018.9 491.1,2029.2 493,2040.3 494.9,2051.7 496.8,2063.1 498.7,2074.8 500.5,2086.8 502.4,2098.7 504.3,2110.5 506.2,2122.4 508,2134.1 509.9,2145.1 511.8,2155.2 513.7,2165 515.5,2174 517.4,2182.2 519.3,2189.2 521.2,2195.7 523,2201.6 524.9,2207.1 526.8,2212.5 528.7,2217.8 530.6,2222.9 532.4,2227.8 534.3,2232.5 536.2,2236.9 538.1,2240.9 539.9,2244.7 541.8,2248.2 543.7,2251.6 545.6,2254.8 547.4,2257.8 549.3,2260.8 551.2,2263.6 553.1,2266.3 554.9,2268.9 556.8,2271.5 558.7,2273.9 560.6,2276.1 562.5,2278.1 564.3,2279.9 566.2,2281.7 568.1,2283.4 570,2285 571.8,2286.5 573.7,2288 575.6,2289.4 577.5,2290.7 579.3,2292 581.2,2293.2 583.1,2294.4 585,2295.6 586.8,2296.8 588.7,2297.9 590.6,2299 592.5,2300.1 594.4,2301.1 596.2,2302.2 598.1,2303.2 600,2304.1 601.9,2305.1 603.7,2306 605.6,2306.8 607.5,2307.6 609.4,2308.4 611.2,2309.1 613.1,2309.8 615,2310.4 616.9,2311 618.7,2311.5 620.6,2312 622.5,2312.5 624.4,2313 626.3,2313.5 628.1,2314 630,2314.4 631.9,2314.8 633.8,2315.2 635.6,2315.6 637.5,2316 639.4,2316.4 641.3,2316.7 643.1,2317.1 645,2317.4 646.9,2317.8 648.8,2318.1 650.6,2318.4 652.5,2318.7 654.4,2319 656.3,2319.3 658.2,2319.6 660,2319.9 661.9,2320.1 663.8,2320.4 665.7,2320.7 667.5,2320.9 669.4,2321.1 671.3,2321.4 673.2,2321.6 675,2321.9 676.9,2322.1 678.8,2322.3 680.7,2322.6 682.5,2322.8 684.4,2323 686.3,2323.2 688.2,2323.5 690.1,2323.7 691.9,2323.9 693.8,2324.2 695.7,2324.4 697.6,2324.6 699.4,2324.9 701.3,2325.2 703.2,2325.4 705.1,2325.7 706.9,2325.9 708.8,2326.2 710.7,2326.5 712.6,2326.8 714.4,2327.1 716.3,2327.4 718.2,2327.8 720.1,2328.1 722,2328.4 723.8,2328.8 725.7,2329.2 727.6,2329.5 729.5,2329.9 731.3,2330.3 733.2,2330.7 735.1,2331 737,2331.4 738.8,2331.8 740.7,2332.2 742.6,2332.6 744.5,2333 746.4,2333.4 748.2,2333.8 750.1,2334.2 752,2334.6 753.9,2335 755.7,2335.4 757.6,2335.8 759.5,2336.2 761.4,2336.6 763.2,2336.9 765.1,2337.3 767,2337.7 768.9,2338 770.7,2338.4 772.6,2338.7 774.5,2339 776.4,2339.3 778.3,2339.7 780.1,2340 782,2340.3 783.9,2340.6 785.8,2340.9 787.6,2341.1 789.5,2341.4 791.4,2341.7 793.3,2342 795.1,2342.3 797,2342.6 798.9,2342.9 800.8,2343.1 802.6,2343.4 804.5,2343.7 806.4,2343.9 808.3,2344.2 810.2,2344.4 812,2344.7 813.9,2344.9 815.8,2345.1 817.7,2345.4 819.5,2345.6 821.4,2345.8 823.3,2346 825.2,2346.2 827,2346.4 828.9,2346.6 830.8,2346.8 832.7,2346.9 834.5,2347.1 836.4,2347.2 838.3,2347.4 840.2,2347.5 842.1,2347.6 843.9,2347.8 845.8,2347.9 847.7,2348 849.6,2348.1 851.4,2348.2 853.3,2348.4 855.2,2348.5 857.1,2348.6 858.9,2348.7 860.8,2348.9 862.7,2349 864.6,2349.1 866.4,2349.3 868.3,2349.4 870.2,2349.6 872.1,2349.8 874,2350 875.8,2350.2 877.7,2350.4 879.6,2350.6 881.5,2350.8 883.3,2351.1 885.2,2351.4 887.1,2351.7 889,2352 890.8,2352.3 892.7,2352.6 894.6,2353 896.5,2353.4 898.3,2353.7 900.2,2354.1 902.1,2354.5 904,2355 905.9,2355.4 907.7,2355.8 909.6,2356.3 911.5,2356.7 913.4,2357.3 915.2,2357.8 917.1,2358.4 919,2359.1 920.9,2359.7 922.7,2360.4 924.6,2361.1 926.5,2361.9 928.4,2362.6 930.2,2363.3 932.1,2364 934,2364.7 935.9,2365.4 937.8,2366.1 939.6,2366.7 941.5,2367.3 943.4,2367.8 945.3,2368.4 947.1,2368.9 949,2369.5 950.9,2370.1 952.8,2370.6 954.6,2371.2 956.5,2371.7 958.4,2372.2 960.3,2372.7 962.1,2373.2 964,2373.7 965.9,2374.1 967.8,2374.6 969.7,2374.9 971.5,2375.3 973.4,2375.6 975.3,2375.9 977.2,2376.1 979,2376.4 980.9,2376.6 982.8,2376.9 984.7,2377.1 986.5,2377.4 988.4,2377.6 990.3,2377.8 992.2,2378 994,2378.2 995.9,2378.5 997.8,2378.7 999.7,2378.9 1001.6,2379 1003.4,2379.2 1005.3,2379.4 1007.2,2379.5 1009.1,2379.7 1010.9,2379.8 1012.8,2379.9 1014.7,2380.1 1016.6,2380.2 1018.4,2380.2 1020.3,2380.3 1022.2,2380.4 1024.1,2380.4 1025.9,2380.4 1027.8,2380.4" fill="none" stroke="#ff0000" stroke-width="3.8" stroke-linejoin="round" stroke-linecap="round" />
<polyline points="183.4,2123.3 185.3,2126.5 187.2,2128.7 189,2130 190.9,2130.7 192.8,2130.9 194.7,2129.9 196.5,2127.2 198.4,2123.6 200.3,2119.4 202.2,2115.4 204,2111.4 205.9,2106.7 207.8,2101.8 209.7,2097 211.5,2092.5 213.4,2088.5 215.3,2084.7 217.2,2081.1 219.1,2077.6 220.9,2074.3 222.8,2070.8 224.7,2066.9 226.6,2063.1 228.4,2059.8 230.3,2057.4 232.2,2056.2 234.1,2056.6 235.9,2058.1 237.8,2060.3 239.7,2063 241.6,2067.1 243.4,2073.1 245.3,2080.3 247.2,2089.1 249.1,2099.9 251,2112.2 252.8,2125.2 254.7,2140 256.6,2157.3 258.5,2173.7 260.3,2185.7 262.2,2195.5 264.1,2204.3 266,2212 267.8,2218.7 269.7,2224.5 271.6,2230 273.5,2235.1 275.3,2239.5 277.2,2242.9 279.1,2245 281,2246.6 282.9,2248.1 284.7,2249.3 286.6,2250.3 288.5,2251 290.4,2251.4 292.2,2251.5 294.1,2251.1 296,2250.3 297.9,2249.2 299.7,2248 301.6,2246.6 303.5,2245.1 305.4,2243.6 307.2,2241.7 309.1,2239.5 311,2237 312.9,2234.2 314.8,2231.3 316.6,2228.1 318.5,2224.9 320.4,2221.5 322.3,2218.1 324.1,2214.8 326,2211.5 327.9,2208.3 329.8,2205.2 331.6,2202.3 333.5,2199.7 335.4,2197.1 337.3,2194.5 339.1,2192 341,2189.6 342.9,2187.1 344.8,2184.7 346.7,2182.3 348.5,2180 350.4,2177.6 352.3,2175.2 354.2,2172.8 356,2170.5 357.9,2168.1 359.8,2165.7 361.7,2163.2 363.5,2160.8 365.4,2158.3 367.3,2155.8 369.2,2153.3 371.1,2150.8 372.9,2148.3 374.8,2145.8 376.7,2143.3 378.6,2140.7 380.4,2138.2 382.3,2135.6 384.2,2132.9 386.1,2130.3 387.9,2127.6 389.8,2124.8 391.7,2122 393.6,2119.3 395.4,2116.4 397.3,2113.6 399.2,2110.7 401.1,2107.7 403,2104.7 404.8,2101.7 406.7,2098.6 408.6,2095.4 410.5,2092.1 412.3,2088.7 414.2,2085.2 416.1,2081.5 418,2077.7 419.8,2073.8 421.7,2069.8 423.6,2065.7 425.5,2061.6 427.3,2057.5 429.2,2053.4 431.1,2049.4 433,2045.4 434.9,2041.5 436.7,2037.2 438.6,2032.8 440.5,2028.2 442.4,2023.8 444.2,2019.7 446.1,2016.2 448,2013.2 449.9,2011.2 451.7,2009.4 453.6,2007.7 455.5,2006.3 457.4,2005.3 459.2,2004.9 461.1,2005.1 463,2005.6 464.9,2006.4 466.8,2007.4 468.6,2008.5 470.5,2009.8 472.4,2011.1 474.3,2012.3 476.1,2013.5 478,2014.5 479.9,2015.4 481.8,2016.3 483.6,2017.2 485.5,2018.1 487.4,2019.1 489.3,2020.3 491.1,2021.7 493,2023.3 494.9,2025.5 496.8,2028.2 498.7,2031.3 500.5,2034.7 502.4,2038.5 504.3,2042.6 506.2,2047.6 508,2053.3 509.9,2059.5 511.8,2066.3 513.7,2074 515.5,2082.4 517.4,2091.3 519.3,2101 521.2,2111.7 523,2122.7 524.9,2133.4 526.8,2143.4 528.7,2153.4 530.6,2162.9 532.4,2171.5 534.3,2179.3 536.2,2186.7 538.1,2193.5 539.9,2199.9 541.8,2205.7 543.7,2211.1 545.6,2216.2 547.4,2221.1 549.3,2225.6 551.2,2229.9 553.1,2233.9 554.9,2237.5 556.8,2241 558.7,2244.2 560.6,2247.3 562.5,2250.2 564.3,2252.9 566.2,2255.5 568.1,2257.9 570,2260.2 571.8,2262.4 573.7,2264.5 575.6,2266.4 577.5,2268.3 579.3,2270.1 581.2,2271.8 583.1,2273.5 585,2275.2 586.8,2276.8 588.7,2278.4 590.6,2279.9 592.5,2281.4 594.4,2282.9 596.2,2284.3 598.1,2285.7 600,2287.1 601.9,2288.4 603.7,2289.7 605.6,2291 607.5,2292.4 609.4,2293.7 611.2,2295 613.1,2296.3 615,2297.6 616.9,2299 618.7,2300.4 620.6,2301.9 622.5,2303.4 624.4,2304.9 626.3,2306.4 628.1,2307.9 630,2309.3 631.9,2310.8 633.8,2312.2 635.6,2313.5 637.5,2314.8 639.4,2316 641.3,2317.2 643.1,2318.2 645,2319.1 646.9,2319.9 648.8,2320.6 650.6,2321.3 652.5,2322 654.4,2322.7 656.3,2323.3 658.2,2324 660,2324.6 661.9,2325.2 663.8,2325.8 665.7,2326.3 667.5,2326.7 669.4,2327.2 671.3,2327.5 673.2,2327.9 675,2328.1 676.9,2328.3 678.8,2328.4 680.7,2328.4 682.5,2328.4 684.4,2328.4 686.3,2328.3 688.2,2328.2 690.1,2328.1 691.9,2328 693.8,2327.9 695.7,2327.7 697.6,2327.6 699.4,2327.4 701.3,2327.3 703.2,2327.1 705.1,2326.9 706.9,2326.7 708.8,2326.6 710.7,2326.4 712.6,2326.2 714.4,2326 716.3,2325.8 718.2,2325.5 720.1,2325.2 722,2324.9 723.8,2324.6 725.7,2324.2 727.6,2323.9 729.5,2323.5 731.3,2323.2 733.2,2322.9 735.1,2322.6 737,2322.3 738.8,2322.1 740.7,2321.9 742.6,2321.7 744.5,2321.6 746.4,2321.6 748.2,2321.7 750.1,2321.9 752,2322.2 753.9,2322.5 755.7,2323 757.6,2323.5 759.5,2324 761.4,2324.6 763.2,2325.1 765.1,2325.7 767,2326.3 768.9,2326.9 770.7,2327.6 772.6,2328.4 774.5,2329.4 776.4,2330.5 778.3,2331.5 780.1,2332.6 782,2333.5 783.9,2334.3 785.8,2334.8 787.6,2335.2 789.5,2335.2 791.4,2334.9 793.3,2334.5 795.1,2333.8 797,2333 798.9,2332.1 800.8,2331.1 802.6,2330 804.5,2328.9 806.4,2327.9 808.3,2326.8 810.2,2325.8 812,2325 813.9,2324.2 815.8,2323.7 817.7,2323.3 819.5,2323.1 821.4,2323.3 823.3,2323.7 825.2,2324.5 827,2325.4 828.9,2326.5 830.8,2327.8 832.7,2329.2 834.5,2330.6 836.4,2332 838.3,2333.4 840.2,2335 842.1,2337.1 843.9,2339.3 845.8,2341.6 847.7,2343.9 849.6,2346 851.4,2347.8 853.3,2349.1 855.2,2350 857.1,2350.9 858.9,2351.7 860.8,2352.5 862.7,2353.2 864.6,2354 866.4,2354.6 868.3,2355.3 870.2,2355.9 872.1,2356.5 874,2357 875.8,2357.5 877.7,2357.9 879.6,2358.3 881.5,2358.6 883.3,2358.9 885.2,2359.1 887.1,2359.2 889,2359.3 890.8,2359.3 892.7,2359.2 894.6,2359.1 896.5,2358.9 898.3,2358.6 900.2,2358.3 902.1,2358 904,2357.7 905.9,2357.4 907.7,2357.1 909.6,2356.8 911.5,2356.6 913.4,2356.4 915.2,2356.3 917.1,2356.3 919,2356.5 920.9,2356.8 922.7,2357.3 924.6,2357.9 926.5,2358.6 928.4,2359.4 930.2,2360.3 932.1,2361.2 934,2362.2 935.9,2363.1 937.8,2364.1 939.6,2365 941.5,2365.8 943.4,2366.6 945.3,2367.3 947.1,2367.9 949,2368.3 950.9,2368.7 952.8,2369 954.6,2369.4 956.5,2369.7 958.4,2370 960.3,2370.3 962.1,2370.6 964,2370.9 965.9,2371.2 967.8,2371.4 969.7,2371.7 971.5,2371.9 973.4,2372.1 975.3,2372.4 977.2,2372.6 979,2372.8 980.9,2372.9 982.8,2373.1 984.7,2373.3 986.5,2373.4 988.4,2373.5 990.3,2373.6 992.2,2373.8 994,2373.9 995.9,2374 997.8,2374.1 999.7,2374.2 1001.6,2374.3 1003.4,2374.4 1005.3,2374.5 1007.2,2374.6 1009.1,2374.7 1010.9,2374.8 1012.8,2374.8 1014.7,2374.9 1016.6,2375 1018.4,2375 1020.3,2375.1 1022.2,2375.1 1024.1,2375.1 1025.9,2375.2 1027.8,2375.2" fill="none" stroke="#00b050" stroke-width="3.8" stroke-linejoin="round" stroke-linecap="round" />
<polyline points="183.4,2204 185.3,2206.2 187.2,2207.6 189,2208.3 190.9,2208.5 192.8,2208.4 194.7,2206.9 196.5,2204 198.4,2200.4 200.3,2196.5 202.2,2193 204,2190 205.9,2187 207.8,2183.9 209.7,2180.8 211.5,2177.6 213.4,2174.3 215.3,2171 217.2,2167.5 219.1,2164.1 220.9,2160.6 222.8,2156.8 224.7,2152.2 226.6,2147.3 228.4,2142.8 230.3,2139.3 232.2,2137.2 234.1,2137 235.9,2137.6 237.8,2138.7 239.7,2139.9 241.6,2141.4 243.4,2143.5 245.3,2146.5 247.2,2151 249.1,2166 251,2188.6 252.8,2209.8 254.7,2225 256.6,2239.3 258.5,2252.5 260.3,2264.2 262.2,2273.9 264.1,2281.8 266,2288.9 267.8,2295.4 269.7,2301.3 271.6,2306.4 273.5,2310.6 275.3,2314.1 277.2,2316.9 279.1,2319.5 281,2321.7 282.9,2323.4 284.7,2324.6 286.6,2325.6 288.5,2326.5 290.4,2327.3 292.2,2327.9 294.1,2328.3 296,2328.4 297.9,2328.3 299.7,2328.1 301.6,2327.8 303.5,2327.4 305.4,2326.9 307.2,2326.2 309.1,2325.2 311,2324 312.9,2322.6 314.8,2321.1 316.6,2319.5 318.5,2317.9 320.4,2316.2 322.3,2314.3 324.1,2312.4 326,2310.3 327.9,2308.1 329.8,2305.8 331.6,2303.5 333.5,2301.1 335.4,2298.6 337.3,2296 339.1,2293.4 341,2290.8 342.9,2288.1 344.8,2285.3 346.7,2282.4 348.5,2279.4 350.4,2276.3 352.3,2273.1 354.2,2269.7 356,2266.4 357.9,2262.9 359.8,2259.4 361.7,2255.9 363.5,2252.3 365.4,2248.7 367.3,2245.1 369.2,2241.3 371.1,2237.3 372.9,2233 374.8,2228.6 376.7,2224.2 378.6,2219.7 380.4,2215.4 382.3,2211.1 384.2,2207.1 386.1,2203.4 387.9,2200.1 389.8,2197.2 391.7,2194.6 393.6,2192 395.4,2189.5 397.3,2187.1 399.2,2184.8 401.1,2182.6 403,2180.6 404.8,2178.8 406.7,2177.1 408.6,2175.7 410.5,2174.6 412.3,2173.7 414.2,2172.9 416.1,2172.1 418,2171.4 419.8,2170.7 421.7,2170.2 423.6,2169.8 425.5,2169.5 427.3,2169.3 429.2,2169.3 431.1,2169.4 433,2169.5 434.9,2169.6 436.7,2169.8 438.6,2169.9 440.5,2170.2 442.4,2170.4 444.2,2170.6 446.1,2170.9 448,2171.1 449.9,2171.4 451.7,2171.6 453.6,2171.8 455.5,2172 457.4,2172.2 459.2,2172.4 461.1,2172.5 463,2172.7 464.9,2172.8 466.8,2172.9 468.6,2173 470.5,2173.2 472.4,2173.3 474.3,2173.5 476.1,2173.7 478,2174 479.9,2174.4 481.8,2175 483.6,2175.7 485.5,2176.5 487.4,2177.4 489.3,2178.4 491.1,2179.4 493,2180.6 494.9,2181.9 496.8,2183.6 498.7,2185.4 500.5,2187.4 502.4,2189.4 504.3,2191.6 506.2,2193.8 508,2196 509.9,2198.1 511.8,2200.2 513.7,2202.4 515.5,2204.7 517.4,2207.1 519.3,2209.5 521.2,2211.9 523,2214.2 524.9,2216.4 526.8,2218.5 528.7,2220.4 530.6,2222.2 532.4,2223.9 534.3,2225.5 536.2,2227.1 538.1,2228.6 539.9,2230.1 541.8,2231.5 543.7,2232.9 545.6,2234.3 547.4,2235.7 549.3,2237 551.2,2238.4 553.1,2239.7 554.9,2241.1 556.8,2242.4 558.7,2243.8 560.6,2245.1 562.5,2246.3 564.3,2247.6 566.2,2248.9 568.1,2250.1 570,2251.4 571.8,2252.6 573.7,2253.9 575.6,2255.2 577.5,2256.5 579.3,2257.8 581.2,2259.1 583.1,2260.4 585,2261.6 586.8,2262.8 588.7,2264.1 590.6,2265.3 592.5,2266.6 594.4,2267.8 596.2,2269.2 598.1,2270.6 600,2272 601.9,2273.5 603.7,2275.1 605.6,2276.8 607.5,2278.6 609.4,2280.8 611.2,2283.1 613.1,2285.8 615,2288.6 616.9,2291.5 618.7,2294.4 620.6,2297.4 622.5,2300.4 624.4,2303.2 626.3,2305.9 628.1,2308.4 630,2310.6 631.9,2312.6 633.8,2314.4 635.6,2316.2 637.5,2318 639.4,2319.6 641.3,2321.2 643.1,2322.8 645,2324.2 646.9,2325.6 648.8,2326.9 650.6,2328.1 652.5,2329.1 654.4,2330.1 656.3,2331 658.2,2332 660,2332.9 661.9,2333.8 663.8,2334.7 665.7,2335.5 667.5,2336.3 669.4,2336.9 671.3,2337.4 673.2,2337.8 675,2338.1 676.9,2338.2 678.8,2338.2 680.7,2338.1 682.5,2338.1 684.4,2337.9 686.3,2337.8 688.2,2337.7 690.1,2337.5 691.9,2337.3 693.8,2337.1 695.7,2336.9 697.6,2336.8 699.4,2336.6 701.3,2336.4 703.2,2336.3 705.1,2336.2 706.9,2336.1 708.8,2336 710.7,2336 712.6,2336 714.4,2336.3 716.3,2336.8 718.2,2337.5 720.1,2338.3 722,2339.2 723.8,2340.2 725.7,2341.1 727.6,2342 729.5,2343 731.3,2344.2 733.2,2345.6 735.1,2347 737,2348.4 738.8,2349.8 740.7,2350.9 742.6,2351.8 744.5,2352.4 746.4,2352.5 748.2,2352.4 750.1,2352.2 752,2351.9 753.9,2351.5 755.7,2351 757.6,2350.6 759.5,2350.2 761.4,2349.9 763.2,2349.6 765.1,2349.5 767,2349.6 768.9,2350 770.7,2350.7 772.6,2351.5 774.5,2352.4 776.4,2353.3 778.3,2354.4 780.1,2355.8 782,2357.5 783.9,2359.3 785.8,2360.9 787.6,2362.3 789.5,2363.4 791.4,2363.8 793.3,2363.8 795.1,2363.6 797,2363.4 798.9,2363 800.8,2362.6 802.6,2362.2 804.5,2361.7 806.4,2361.2 808.3,2360.7 810.2,2360.3 812,2359.9 813.9,2359.6 815.8,2359.4 817.7,2359.3 819.5,2359.5 821.4,2360.1 823.3,2361.1 825.2,2362.4 827,2363.9 828.9,2365.4 830.8,2366.9 832.7,2368.4 834.5,2369.8 836.4,2371.5 838.3,2373.3 840.2,2375.2 842.1,2377.1 843.9,2378.9 845.8,2380.7 847.7,2382.2 849.6,2383.5 851.4,2384.5 853.3,2385.3 855.2,2386.2 857.1,2386.9 858.9,2387.6 860.8,2388.2 862.7,2388.7 864.6,2389.2 866.4,2389.5 868.3,2389.7 870.2,2390 872.1,2390.2 874,2390.4 875.8,2390.6 877.7,2390.8 879.6,2390.9 881.5,2391 883.3,2391 885.2,2390.9 887.1,2390.6 889,2390.2 890.8,2389.6 892.7,2388.9 894.6,2388.2 896.5,2387.3 898.3,2386.5 900.2,2385.7 902.1,2384.7 904,2383.4 905.9,2381.9 907.7,2380.3 909.6,2378.6 911.5,2377 913.4,2375.5 915.2,2374.3 917.1,2373.4 919,2372.9 920.9,2373.1 922.7,2374 924.6,2375.5 926.5,2377.4 928.4,2379.4 930.2,2381.2 932.1,2383.1 934,2385.3 935.9,2387.7 937.8,2390 939.6,2391.9 941.5,2393.4 943.4,2394.3 945.3,2395 947.1,2395.6 949,2396.2 950.9,2396.7 952.8,2397.2 954.6,2397.7 956.5,2398.1 958.4,2398.5 960.3,2398.9 962.1,2399.2 964,2399.5 965.9,2399.8 967.8,2400 969.7,2400.3 971.5,2400.5 973.4,2400.6 975.3,2400.8 977.2,2400.9 979,2401.1 980.9,2401.2 982.8,2401.3 984.7,2401.4 986.5,2401.6 988.4,2401.7 990.3,2401.8 992.2,2401.9 994,2402 995.9,2402.1 997.8,2402.2 999.7,2402.3 1001.6,2402.4 1003.4,2402.5 1005.3,2402.6 1007.2,2402.6 1009.1,2402.7 1010.9,2402.8 1012.8,2402.8 1014.7,2402.9 1016.6,2402.9 1018.4,2403 1020.3,2403 1022.2,2403 1024.1,2403 1025.9,2403.1 1027.8,2403.1" fill="none" stroke="#0070c0" stroke-width="3.8" stroke-linejoin="round" stroke-linecap="round" />
<rect x="183.4" y="1874.9" width="844.5" height="601.7" fill="none" stroke="#000" stroke-width="3"/>
<line x1="624.1" y1="1914.2" x2="640.8" y2="1914.2" stroke="#0070c0" stroke-width="4" stroke-linecap="butt"/>
<line x1="652.5" y1="1914.2" x2="669.2" y2="1914.2" stroke="#0070c0" stroke-width="4" stroke-linecap="butt"/>
<line x1="680.9" y1="1914.2" x2="697.6" y2="1914.2" stroke="#0070c0" stroke-width="4" stroke-linecap="butt"/>
<text transform="translate(736.8 1918.9) scale(1 1.04)" font-size="28.4">Zn-PPIX only</text>
<line x1="624.1" y1="1955.4" x2="640.8" y2="1955.4" stroke="#00b050" stroke-width="4" stroke-linecap="butt"/>
<line x1="652.5" y1="1955.4" x2="669.2" y2="1955.4" stroke="#00b050" stroke-width="4" stroke-linecap="butt"/>
<line x1="680.9" y1="1955.4" x2="697.6" y2="1955.4" stroke="#00b050" stroke-width="4" stroke-linecap="butt"/>
<text transform="translate(736.8 1960.7) scale(1 1.04)" font-size="28.4">PPIX only</text>
<line x1="624.1" y1="1996.3" x2="640.8" y2="1996.3" stroke="#ff0000" stroke-width="4" stroke-linecap="butt"/>
<line x1="652.5" y1="1996.3" x2="669.2" y2="1996.3" stroke="#ff0000" stroke-width="4" stroke-linecap="butt"/>
<line x1="680.9" y1="1996.3" x2="697.6" y2="1996.3" stroke="#ff0000" stroke-width="4" stroke-linecap="butt"/>
<text transform="translate(736.8 2003.4) scale(1 1.04)" font-size="28.4">Heme only</text>
<line x1="624.1" y1="2037.2" x2="705.3" y2="2037.2" stroke="#000" stroke-width="4" stroke-linecap="butt"/>
<text transform="translate(736.8 2045.3) scale(1 1.04)" font-size="28.4">TrK13-WT only</text>
<line x1="624.1" y1="2078.6" x2="705.3" y2="2078.6" stroke="#ff0000" stroke-width="4" stroke-linecap="butt"/>
<text transform="translate(736.8 2087.3) scale(1 1.04)" font-size="28.4">TrK13-WT + Heme</text>
<line x1="624.1" y1="2119.5" x2="705.3" y2="2119.5" stroke="#00b050" stroke-width="4" stroke-linecap="butt"/>
<text transform="translate(736.8 2128.9) scale(1 1.04)" font-size="28.4">TrK13-WT + PPIX</text>
<line x1="624.1" y1="2160.5" x2="705.3" y2="2160.5" stroke="#0070c0" stroke-width="4" stroke-linecap="butt"/>
<text transform="translate(736.8 2170.5) scale(1 1.04)" font-size="28.4">TrK13-WT + Zn-PPIX</text>
<text transform="translate(1112 1895.8) scale(1 1.04)" font-size="48.5" font-weight="bold">H</text>
<defs><clipPath id="clipH"><rect x="1155.2" y="2007.7" width="351.29999999999995" height="431.29999999999995"/></clipPath><linearGradient id="bgH" x1="0" y1="2007" x2="0" y2="2439" gradientUnits="userSpaceOnUse"><stop offset="0" stop-color="#b1d9f6"/><stop offset="0.25" stop-color="#b8def7"/><stop offset="0.45" stop-color="#cbe9fa"/><stop offset="0.7" stop-color="#dcf3fc"/><stop offset="1" stop-color="#e2f6fd"/></linearGradient><linearGradient id="laneH" x1="0" y1="2007" x2="0" y2="2439" gradientUnits="userSpaceOnUse"><stop offset="0" stop-color="#a4d0f5" stop-opacity="0.7"/><stop offset="0.25" stop-color="#8ec4f3" stop-opacity="0.8"/><stop offset="0.45" stop-color="#b2daf7" stop-opacity="0.6"/><stop offset="0.75" stop-color="#cfe9fa" stop-opacity="0.4"/><stop offset="1" stop-color="#d8f0fb" stop-opacity="0.2"/></linearGradient></defs>
<g clip-path="url(#clipH)">
<rect x="1155.2" y="2007.7" width="351.29999999999995" height="431.29999999999995" fill="url(#bgH)"/>
<g filter="url(#blur5)">
<rect x="1166" y="2000" width="69" height="440" fill="url(#laneH)"/>
<rect x="1333" y="2000" width="61" height="440" fill="url(#laneH)"/>
<rect x="1412" y="2000" width="66" height="440" fill="url(#laneH)"/>
<rect x="1258" y="2000" width="56" height="440" fill="url(#laneH)" opacity="0.5"/>
</g>
<g filter="url(#blur5)">
<rect x="1170" y="2185" width="62" height="80" fill="#86bbf2" opacity="0.55"/>
<rect x="1172" y="2265" width="58" height="70" fill="#a8d0f5" opacity="0.45"/>
<rect x="1336" y="2168" width="58" height="75" fill="#9ccaf4" opacity="0.45"/>
<rect x="1414" y="2175" width="62" height="65" fill="#9ccaf4" opacity="0.45"/>
</g>
<g filter="url(#blur3)">
<rect x="1170" y="2186" width="62" height="8" fill="#4e92ee" opacity="0.8"/>
<rect x="1172" y="2218" width="60" height="9" fill="#5c9cf0" opacity="0.8"/>
<rect x="1172" y="2245" width="58" height="9" fill="#7ab0f2" opacity="0.7"/>
<rect x="1172" y="2268" width="58" height="6" fill="#98c4f4" opacity="0.5"/>
<rect x="1172" y="2312" width="58" height="10" fill="#a6ccf4" opacity="0.5"/>
<rect x="1413" y="2177" width="62" height="10" fill="#6aa8f2" opacity="0.6"/>
<rect x="1415" y="2216" width="60" height="8" fill="#8cbcf4" opacity="0.6"/>
<rect x="1335" y="2212" width="58" height="10" fill="#9cc6f4" opacity="0.4"/>
</g>
<g filter="url(#blur2)">
<path d="M1163,2132 C1163,2125 1170,2123 1180,2123 L1228,2123 C1240,2123 1245,2126 1245,2134 L1244,2172 C1244,2182 1238,2185 1226,2185 L1180,2185 C1168,2185 1162,2180 1162,2170 Z" fill="#0a1ee8"/>
<rect x="1257" y="2129" width="57" height="11" rx="4" fill="#3d8cf0"/>
<path d="M1330,2130 C1330,2125 1336,2123 1345,2123 L1385,2123 C1393,2123 1396,2126 1396,2132 L1396,2150 C1396,2156 1392,2157 1385,2157 L1340,2157 C1333,2157 1330,2154 1330,2150 Z" fill="#0a2ee6"/>
<rect x="1336" y="2157" width="58" height="10" rx="3" fill="#2a62ea"/>
<path d="M1408,2132 C1408,2125 1414,2123 1424,2123 L1470,2123 C1480,2123 1484,2126 1484,2134 L1484,2164 C1484,2171 1478,2173 1468,2173 L1424,2174 C1414,2174 1409,2170 1409,2162 Z" fill="#0a24e8"/>
</g>
</g>
<rect x="1155.2" y="2007.7" width="351.29999999999995" height="431.29999999999995" fill="none" stroke="#000" stroke-width="2.6"/>
<text transform="translate(1123 2023.2) scale(1 1.04)" font-size="24.3" text-anchor="end">180</text>
<line x1="1137" y1="2019.7" x2="1155" y2="2019.7" stroke="#000" stroke-width="2.6" />
<text transform="translate(1123 2064.2) scale(1 1.04)" font-size="24.3" text-anchor="end">100</text>
<line x1="1137" y1="2058.9" x2="1155" y2="2058.9" stroke="#000" stroke-width="2.6" />
<text transform="translate(1127.8 2103.7) scale(1 1.04)" font-size="24.3" text-anchor="end">75</text>
<line x1="1137" y1="2097.9" x2="1155" y2="2097.9" stroke="#000" stroke-width="2.6" />
<text transform="translate(1127.8 2156.2) scale(1 1.04)" font-size="24.3" text-anchor="end">63</text>
<line x1="1137" y1="2146.8" x2="1155" y2="2146.8" stroke="#000" stroke-width="2.6" />
<text transform="translate(1127.8 2219.4) scale(1 1.04)" font-size="24.3" text-anchor="end">48</text>
<line x1="1137" y1="2208.3" x2="1155" y2="2208.3" stroke="#000" stroke-width="2.6" />
<text transform="translate(1127.8 2326.9) scale(1 1.04)" font-size="24.3" text-anchor="end">37</text>
<line x1="1137" y1="2315.7" x2="1155" y2="2315.7" stroke="#000" stroke-width="2.6" />
<text transform="translate(1127.8 2435.2) scale(1 1.04)" font-size="24.3" text-anchor="end">25</text>
<line x1="1137" y1="2424.4" x2="1155" y2="2424.4" stroke="#000" stroke-width="2.6" />
<text transform="translate(1202.3 1998.2) rotate(-43) scale(1 1.04)" font-size="32.2">Control</text>
<text transform="translate(1282.5 1997.3) rotate(-43) scale(1 1.04)" font-size="32.7">+ Heme</text>
<text transform="translate(1364.2 1997.3) rotate(-43) scale(1 1.04)" font-size="32.7">+ PPIX</text>
<text transform="translate(1443.3 1996.3) rotate(-43) scale(1 1.04)" font-size="32.7">+ Zn-PPIX</text>
<polygon points="1506.8,2145.4 1529.4,2133.1 1529.4,2157.7" fill="#000"/>
<rect x="1527" y="2142.2" width="25" height="6.4" fill="#000"/>
<text transform="translate(1627.8 1873.8) scale(1 1.04)" font-size="48.5" font-weight="bold">I</text>
<line x1="1711.2" y1="2267.8" x2="1720.7" y2="2267.8" stroke="#000" stroke-width="3" />
<text transform="translate(1692 2278.3) scale(1 1.04)" font-size="32" text-anchor="end">0</text>
<line x1="1713.3" y1="2239.8" x2="1720.7" y2="2239.8" stroke="#000" stroke-width="3" />
<line x1="1711.2" y1="2211.7" x2="1720.7" y2="2211.7" stroke="#000" stroke-width="3" />
<text transform="translate(1692 2222.2) scale(1 1.04)" font-size="32" text-anchor="end">20</text>
<line x1="1713.3" y1="2183.7" x2="1720.7" y2="2183.7" stroke="#000" stroke-width="3" />
<line x1="1711.2" y1="2155.6" x2="1720.7" y2="2155.6" stroke="#000" stroke-width="3" />
<text transform="translate(1692 2166.1) scale(1 1.04)" font-size="32" text-anchor="end">40</text>
<line x1="1713.3" y1="2127.6" x2="1720.7" y2="2127.6" stroke="#000" stroke-width="3" />
<line x1="1711.2" y1="2099.5" x2="1720.7" y2="2099.5" stroke="#000" stroke-width="3" />
<text transform="translate(1692 2110) scale(1 1.04)" font-size="32" text-anchor="end">60</text>
<line x1="1713.3" y1="2071.5" x2="1720.7" y2="2071.5" stroke="#000" stroke-width="3" />
<line x1="1711.2" y1="2043.4" x2="1720.7" y2="2043.4" stroke="#000" stroke-width="3" />
<text transform="translate(1692 2053.9) scale(1 1.04)" font-size="32" text-anchor="end">80</text>
<line x1="1713.3" y1="2015.4" x2="1720.7" y2="2015.4" stroke="#000" stroke-width="3" />
<line x1="1711.2" y1="1987.3" x2="1720.7" y2="1987.3" stroke="#000" stroke-width="3" />
<text transform="translate(1692 1997.8) scale(1 1.04)" font-size="32" text-anchor="end">100</text>
<line x1="1713.3" y1="1959.3" x2="1720.7" y2="1959.3" stroke="#000" stroke-width="3" />
<line x1="1711.2" y1="1931.2" x2="1720.7" y2="1931.2" stroke="#000" stroke-width="3" />
<text transform="translate(1692 1941.7) scale(1 1.04)" font-size="32" text-anchor="end">120</text>
<rect x="1739.5" y="1987.3" width="29.4" height="280.5" fill="#404040"/>
<rect x="1807.1" y="2236.9" width="29.4" height="30.9" fill="#404040"/>
<rect x="1874.4" y="2169.6" width="29.4" height="98.2" fill="#404040"/>
<rect x="1942.3" y="2124.7" width="29.4" height="143.1" fill="#404040"/>
<text transform="translate(1752.7 1980.3) scale(1 1.04)" font-size="32.3" text-anchor="middle">100</text>
<text transform="translate(1817.8 2224.1) scale(1 1.04)" font-size="32.3" text-anchor="middle">11</text>
<text transform="translate(1891.1 2155) scale(1 1.04)" font-size="32.3" text-anchor="middle">35</text>
<text transform="translate(1958.2 2104.7) scale(1 1.04)" font-size="32.3" text-anchor="middle">51</text>
<line x1="1720.7" y1="1931.5" x2="1990.4" y2="1931.5" stroke="#000" stroke-width="1.5" />
<line x1="1990.4" y1="1931.5" x2="1990.4" y2="2267.8" stroke="#000" stroke-width="1.5" />
<line x1="1720.7" y1="1930" x2="1720.7" y2="2269.5" stroke="#000" stroke-width="3" />
<line x1="1711.2" y1="2267.8" x2="1991" y2="2267.8" stroke="#000" stroke-width="3.5" />
<text transform="translate(1761.5 2282.6) rotate(-90) scale(1 1.04)" font-size="36.6" text-anchor="end">Control</text>
<text transform="translate(1829 2282.6) rotate(-90) scale(1 1.04)" font-size="36.6" text-anchor="end">+ Heme</text>
<text transform="translate(1905.5 2282.6) rotate(-90) scale(1 1.04)" font-size="36.6" text-anchor="end">+ PPIX</text>
<text transform="translate(1972.7 2282.6) rotate(-90) scale(1 1.04)" font-size="36.6" text-anchor="end">+ Zn- PPIX</text>
<text transform="translate(1629 2095) rotate(-90) scale(1 1.04)" font-size="32.4" text-anchor="middle">% Binding (<tspan font-style="italic">versus</tspan> control)</text>
</svg>
</body></html>
